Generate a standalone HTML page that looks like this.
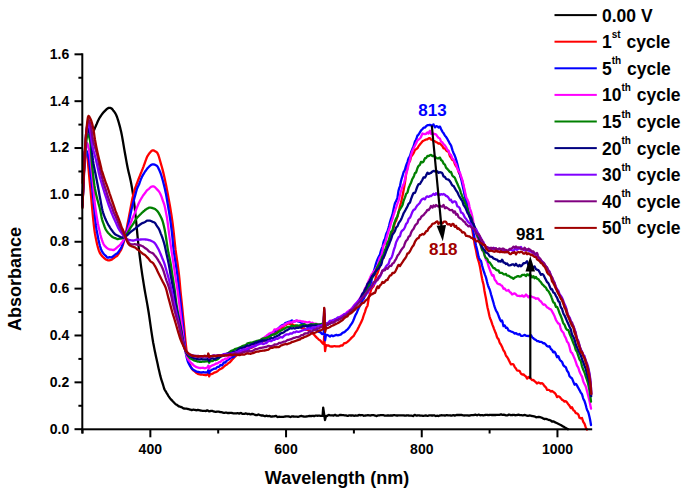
<!DOCTYPE html>
<html><head><meta charset="utf-8"><style>
html,body{margin:0;padding:0;background:#fff;}
body{width:693px;height:492px;overflow:hidden;}
svg{display:block;}
</style></head><body>
<svg width="693" height="492" viewBox="0 0 693 492">
<path d="M94.2,129.8 L94.7,128.6 L95.2,127.4 L95.7,126.2 L96.2,125.0 L96.7,123.9 L97.2,122.7 L97.7,121.6 L98.2,120.5 L98.7,119.5 L99.2,118.5 L99.7,117.7 L100.2,116.9 L100.7,116.1 L101.2,115.3 L101.7,114.6 L102.2,113.9 L102.7,113.3 L103.2,112.7 L103.7,112.1 L104.2,111.6 L104.7,111.1 L105.2,110.6 L105.7,110.1 L106.2,109.6 L106.7,109.1 L107.2,108.7 L107.7,108.4 L108.2,108.1 L108.7,107.9 L109.2,107.8 L109.7,107.8 L110.2,107.9 L110.7,108.1 L111.2,108.3 L111.7,108.6 L112.2,109.1 L112.7,109.7 L113.2,110.4 L113.7,111.0 L114.2,111.7 L114.7,112.4 L115.2,113.2 L115.7,114.0 L116.2,115.0 L116.7,116.2 L117.2,117.5 L117.7,119.1 L118.2,120.7 L118.7,122.3 L119.2,124.1 L119.7,125.9 L120.2,127.8 L120.7,129.9 L121.2,132.1 L121.7,134.4 L122.2,137.1 L122.7,140.0 L123.2,142.9 L123.7,145.9 L124.2,148.9 L124.7,151.7 L125.2,154.5 L125.7,157.3 L126.2,160.1 L126.7,162.9 L127.2,165.5 L127.7,168.0 L128.2,170.3 L128.7,172.4 L129.2,174.5 L129.7,176.6 L130.2,178.7 L130.7,181.0 L131.2,183.5 L131.7,186.2 L132.2,189.1 L132.7,192.2 L133.2,195.6 L133.7,199.3 L134.2,203.3 L134.7,207.7 L135.2,212.4 L135.7,217.2 L136.2,222.0 L136.7,227.1 L137.2,232.6 L137.7,238.0 L138.2,243.0 L138.7,247.5 L139.2,251.8 L139.7,255.9 L140.2,259.8 L140.7,263.6 L141.2,267.3 L141.7,270.8 L142.2,274.3 L142.7,277.6 L143.2,280.8 L143.7,283.9 L144.2,287.0 L144.7,290.0 L145.2,292.9 L145.7,295.6 L146.2,298.4 L146.7,301.1 L147.2,303.9 L147.7,306.7 L148.2,309.7 L148.7,312.8 L149.2,316.2 L149.7,319.7 L150.2,323.2 L150.7,326.7 L151.2,330.1 L151.7,333.4 L152.2,336.7 L152.7,339.7 L153.2,342.7 L153.7,345.3 L154.2,347.9 L154.7,350.4 L155.2,352.8 L155.7,355.2 L156.2,357.5 L156.7,359.7 L157.2,362.0 L157.7,364.3 L158.2,366.7 L158.7,369.0 L159.2,371.1 L159.7,373.2 L160.2,375.4 L160.7,377.3 L161.2,379.2 L161.7,380.7 L162.2,382.2 L162.7,383.6 L163.2,385.3 L163.7,387.0 L164.2,388.7 L164.7,389.8 L165.2,390.7 L165.7,391.4 L166.2,392.2 L166.7,393.1 L167.2,393.9 L167.7,394.7 L168.2,395.6 L168.7,396.4 L169.2,397.1 L169.7,397.8 L170.2,398.5 L170.7,399.1 L171.2,399.6 L171.7,400.1 L172.2,400.6 L172.7,401.2 L173.2,401.7 L173.7,402.2 L174.2,402.8 L174.7,403.3 L175.2,403.8 L175.7,404.2 L176.2,404.5 L176.7,404.8 L177.2,405.1 L177.7,405.5 L178.2,405.9 L178.7,406.3 L179.2,406.4 L179.7,406.5 L180.2,406.7 L180.7,406.9 L181.2,407.1 L181.7,407.3 L182.2,407.6 L182.7,407.9 L183.2,408.3 L183.7,408.5 L184.2,408.5 L184.7,408.6 L185.2,408.6 L185.7,408.7 L186.2,408.7 L186.7,408.7 L187.2,408.8 L187.7,408.9 L188.2,409.1 L188.7,409.2 L189.2,409.3 L189.7,409.5 L190.2,409.6 L190.7,409.8 L191.2,410.0 L191.7,410.1 L192.2,409.9 L192.7,409.8 L193.2,409.7 L193.7,409.7 L194.2,409.8 L194.7,409.8 L195.2,410.0 L195.7,410.1 L196.2,410.3 L196.7,410.2 L197.2,410.1 L197.7,409.9 L198.2,410.0 L198.7,410.1 L199.2,410.2 L199.7,410.3 L200.2,410.4 L200.7,410.6 L201.2,410.7 L201.7,410.7 L202.2,410.8 L202.7,410.8 L203.2,410.8 L203.7,410.8 L204.2,410.8 L204.7,410.8 L205.2,410.9 L205.7,411.0 L206.2,410.9 L206.7,410.6 L207.2,410.3 L207.7,410.4 L208.2,410.8 L208.7,411.2 L209.2,411.4 L209.7,411.2 L210.2,411.1 L210.7,411.0 L211.2,410.9 L211.7,410.9 L212.2,410.9 L212.7,411.1 L213.2,411.3 L213.7,411.5 L214.2,411.7 L214.7,411.7 L215.2,411.8 L215.7,411.8 L216.2,411.8 L216.7,411.7 L217.2,411.6 L217.7,411.6 L218.2,411.6 L218.7,411.6 L219.2,411.8 L219.7,411.9 L220.2,412.1 L220.7,412.1 L221.2,412.2 L221.7,412.2 L222.2,412.4 L222.7,412.5 L223.2,412.7 L223.7,412.8 L224.2,412.8 L224.7,412.8 L225.2,412.7 L225.7,412.7 L226.2,412.7 L226.7,412.7 L227.2,412.9 L227.7,413.0 L228.2,413.1 L228.7,413.0 L229.2,413.0 L229.7,412.9 L230.2,412.8 L230.7,412.8 L231.2,412.8 L231.7,412.9 L232.2,413.1 L232.7,413.2 L233.2,413.3 L233.7,413.4 L234.2,413.4 L234.7,413.4 L235.2,413.4 L235.7,413.3 L236.2,413.3 L236.7,413.3 L237.2,413.2 L237.7,413.2 L238.2,413.3 L238.7,413.4 L239.2,413.6 L239.7,413.4 L240.2,413.2 L240.7,413.0 L241.2,413.1 L241.7,413.4 L242.2,413.7 L242.7,413.9 L243.2,413.9 L243.7,413.9 L244.2,413.9 L244.7,413.8 L245.2,413.6 L245.7,413.4 L246.2,413.6 L246.7,413.8 L247.2,414.0 L247.7,414.0 L248.2,413.9 L248.7,413.9 L249.2,413.9 L249.7,414.1 L250.2,414.3 L250.7,414.4 L251.2,414.2 L251.7,413.9 L252.2,413.8 L252.7,414.0 L253.2,414.1 L253.7,414.3 L254.2,414.5 L254.7,414.7 L255.2,414.9 L255.7,415.0 L256.2,415.1 L256.7,415.2 L257.2,415.1 L257.7,414.8 L258.2,414.6 L258.7,414.5 L259.2,414.8 L259.7,415.0 L260.2,415.2 L260.7,415.3 L261.2,415.4 L261.7,415.6 L262.2,415.5 L262.7,415.5 L263.2,415.5 L263.7,415.7 L264.2,416.0 L264.7,416.2 L265.2,416.2 L265.7,415.9 L266.2,415.7 L266.7,415.7 L267.2,415.9 L267.7,416.1 L268.2,416.2 L268.7,416.1 L269.2,416.0 L269.7,415.9 L270.2,416.2 L270.7,416.4 L271.2,416.7 L271.7,416.6 L272.2,416.5 L272.7,416.4 L273.2,416.3 L273.7,416.3 L274.2,416.3 L274.7,416.2 L275.2,416.1 L275.7,416.0 L276.2,416.0 L276.7,416.4 L277.2,416.7 L277.7,417.0 L278.2,416.9 L278.7,416.8 L279.2,416.7 L279.7,416.8 L280.2,416.8 L280.7,416.8 L281.2,416.8 L281.7,416.9 L282.2,416.9 L282.7,416.9 L283.2,416.8 L283.7,416.8 L284.2,416.7 L284.7,416.6 L285.2,416.5 L285.7,416.4 L286.2,416.4 L286.7,416.4 L287.2,416.4 L287.7,416.4 L288.2,416.4 L288.7,416.4 L289.2,416.6 L289.7,416.8 L290.2,417.0 L290.7,416.9 L291.2,416.7 L291.7,416.4 L292.2,416.3 L292.7,416.4 L293.2,416.5 L293.7,416.5 L294.2,416.6 L294.7,416.6 L295.2,416.6 L295.7,416.6 L296.2,416.7 L296.7,416.7 L297.2,416.7 L297.7,416.8 L298.2,416.8 L298.7,416.7 L299.2,416.5 L299.7,416.3 L300.2,416.2 L300.7,416.1 L301.2,416.0 L301.7,416.0 L302.2,416.2 L302.7,416.3 L303.2,416.4 L303.7,416.5 L304.2,416.6 L304.7,416.7 L305.2,416.6 L305.7,416.6 L306.2,416.5 L306.7,416.4 L307.2,416.4 L307.7,416.3 L308.2,416.2 L308.7,416.1 L309.2,416.0 L309.7,416.0 L310.2,416.0 L310.7,416.1 L311.2,416.1 L311.7,416.0 L312.2,415.9 L312.7,415.9 L313.2,415.9 L313.7,416.0 L314.2,416.1 L314.7,416.0 L315.2,415.8 L315.7,415.6 L316.2,415.6 L316.7,415.7 L317.2,415.7 L317.7,415.8 L318.2,415.7 L318.7,415.7 L319.2,415.7 L319.7,415.7 L320.2,415.8 L320.7,415.8 L321.2,415.8 L321.7,415.8 L322.2,415.7 L322.6,415.8 L323.2,407.6 L325.0,420.1 L326.0,416.0 L326.2,416.0 L326.7,416.0 L327.2,415.9 L327.7,415.6 L328.2,415.2 L328.7,414.9 L329.2,415.1 L329.7,415.2 L330.2,415.4 L330.7,415.4 L331.2,415.3 L331.7,415.3 L332.2,415.4 L332.7,415.4 L333.2,415.5 L333.7,415.5 L334.2,415.2 L334.7,414.9 L335.2,414.8 L335.7,415.1 L336.2,415.5 L336.7,415.7 L337.2,415.7 L337.7,415.7 L338.2,415.7 L338.7,415.5 L339.2,415.3 L339.7,415.0 L340.2,415.0 L340.7,415.0 L341.2,415.0 L341.7,415.1 L342.2,415.1 L342.7,415.1 L343.2,415.1 L343.7,415.2 L344.2,415.3 L344.7,415.3 L345.2,415.4 L345.7,415.4 L346.2,415.5 L346.7,415.6 L347.2,415.8 L347.7,415.9 L348.2,415.8 L348.7,415.5 L349.2,415.3 L349.7,415.3 L350.2,415.4 L350.7,415.5 L351.2,415.5 L351.7,415.5 L352.2,415.4 L352.7,415.4 L353.2,415.5 L353.7,415.7 L354.2,415.8 L354.7,415.7 L355.2,415.6 L355.7,415.5 L356.2,415.6 L356.7,415.6 L357.2,415.7 L357.7,415.6 L358.2,415.4 L358.7,415.1 L359.2,415.0 L359.7,415.1 L360.2,415.2 L360.7,415.3 L361.2,415.2 L361.7,415.1 L362.2,415.1 L362.7,415.3 L363.2,415.5 L363.7,415.8 L364.2,415.7 L364.7,415.6 L365.2,415.6 L365.7,415.5 L366.2,415.4 L366.7,415.3 L367.2,415.3 L367.7,415.2 L368.2,415.2 L368.7,415.3 L369.2,415.3 L369.7,415.4 L370.2,415.5 L370.7,415.4 L371.2,415.3 L371.7,415.2 L372.2,415.2 L372.7,415.1 L373.2,415.1 L373.7,415.2 L374.2,415.3 L374.7,415.5 L375.2,415.6 L375.7,415.8 L376.2,416.0 L376.7,416.1 L377.2,415.8 L377.7,415.6 L378.2,415.3 L378.7,415.3 L379.2,415.3 L379.7,415.3 L380.2,415.2 L380.7,415.2 L381.2,415.1 L381.7,415.1 L382.2,415.1 L382.7,415.1 L383.2,415.1 L383.7,415.3 L384.2,415.5 L384.7,415.6 L385.2,415.7 L385.7,415.7 L386.2,415.7 L386.7,415.6 L387.2,415.5 L387.7,415.5 L388.2,415.5 L388.7,415.5 L389.2,415.6 L389.7,415.6 L390.2,415.5 L390.7,415.5 L391.2,415.5 L391.7,415.5 L392.2,415.5 L392.7,415.5 L393.2,415.3 L393.7,415.2 L394.2,415.1 L394.7,415.2 L395.2,415.3 L395.7,415.4 L396.2,415.4 L396.7,415.5 L397.2,415.5 L397.7,415.5 L398.2,415.4 L398.7,415.3 L399.2,415.3 L399.7,415.3 L400.2,415.3 L400.7,415.3 L401.2,415.3 L401.7,415.3 L402.2,415.3 L402.7,415.3 L403.2,415.4 L403.7,415.4 L404.2,415.5 L404.7,415.6 L405.2,415.7 L405.7,415.6 L406.2,415.5 L406.7,415.4 L407.2,415.4 L407.7,415.4 L408.2,415.4 L408.7,415.5 L409.2,415.6 L409.7,415.7 L410.2,415.7 L410.7,415.7 L411.2,415.7 L411.7,415.7 L412.2,415.8 L412.7,415.9 L413.2,416.0 L413.7,415.6 L414.2,415.3 L414.7,414.9 L415.2,415.1 L415.7,415.3 L416.2,415.6 L416.7,415.7 L417.2,415.5 L417.7,415.4 L418.2,415.3 L418.7,415.4 L419.2,415.4 L419.7,415.5 L420.2,415.6 L420.7,415.6 L421.2,415.7 L421.7,415.7 L422.2,415.7 L422.7,415.8 L423.2,415.8 L423.7,415.8 L424.2,415.7 L424.7,415.7 L425.2,415.6 L425.7,415.5 L426.2,415.5 L426.7,415.7 L427.2,415.8 L427.7,415.9 L428.2,415.7 L428.7,415.5 L429.2,415.3 L429.7,415.3 L430.2,415.3 L430.7,415.4 L431.2,415.4 L431.7,415.5 L432.2,415.6 L432.7,415.5 L433.2,415.4 L433.7,415.3 L434.2,415.3 L434.7,415.6 L435.2,415.8 L435.7,416.0 L436.2,415.9 L436.7,415.8 L437.2,415.7 L437.7,415.8 L438.2,415.9 L438.7,416.0 L439.2,415.8 L439.7,415.6 L440.2,415.4 L440.7,415.3 L441.2,415.3 L441.7,415.2 L442.2,415.3 L442.7,415.3 L443.2,415.3 L443.7,415.4 L444.2,415.4 L444.7,415.5 L445.2,415.5 L445.7,415.4 L446.2,415.3 L446.7,415.1 L447.2,415.2 L447.7,415.3 L448.2,415.4 L448.7,415.4 L449.2,415.4 L449.7,415.3 L450.2,415.4 L450.7,415.5 L451.2,415.7 L451.7,415.7 L452.2,415.5 L452.7,415.3 L453.2,415.1 L453.7,415.3 L454.2,415.4 L454.7,415.6 L455.2,415.4 L455.7,415.3 L456.2,415.1 L456.7,415.0 L457.2,415.0 L457.7,415.0 L458.2,415.0 L458.7,415.0 L459.2,415.0 L459.7,415.0 L460.2,415.0 L460.7,414.9 L461.2,414.9 L461.7,415.0 L462.2,415.1 L462.7,415.3 L463.2,415.3 L463.7,415.4 L464.2,415.5 L464.7,415.4 L465.2,415.4 L465.7,415.3 L466.2,415.3 L466.7,415.3 L467.2,415.3 L467.7,415.4 L468.2,415.5 L468.7,415.6 L469.2,415.6 L469.7,415.5 L470.2,415.4 L470.7,415.2 L471.2,415.2 L471.7,415.2 L472.2,415.2 L472.7,415.2 L473.2,415.1 L473.7,415.1 L474.2,415.0 L474.7,414.8 L475.2,414.7 L475.7,414.7 L476.2,415.0 L476.7,415.2 L477.2,415.3 L477.7,415.0 L478.2,414.8 L478.7,414.6 L479.2,414.8 L479.7,415.0 L480.2,415.3 L480.7,415.2 L481.2,415.1 L481.7,415.1 L482.2,415.1 L482.7,415.2 L483.2,415.4 L483.7,415.3 L484.2,415.2 L484.7,415.1 L485.2,415.0 L485.7,414.9 L486.2,414.9 L486.7,414.8 L487.2,414.9 L487.7,415.0 L488.2,415.1 L488.7,415.1 L489.2,415.0 L489.7,414.9 L490.2,414.9 L490.7,414.9 L491.2,414.9 L491.7,415.0 L492.2,415.0 L492.7,415.0 L493.2,415.0 L493.7,415.0 L494.2,415.0 L494.7,415.0 L495.2,415.0 L495.7,415.0 L496.2,414.9 L496.7,414.9 L497.2,414.8 L497.7,414.8 L498.2,414.8 L498.7,414.9 L499.2,414.9 L499.7,414.8 L500.2,414.6 L500.7,414.5 L501.2,414.4 L501.7,414.6 L502.2,414.8 L502.7,414.9 L503.2,414.8 L503.7,414.7 L504.2,414.7 L504.7,414.9 L505.2,415.1 L505.7,415.3 L506.2,415.4 L506.7,415.4 L507.2,415.4 L507.7,415.2 L508.2,414.9 L508.7,414.6 L509.2,414.6 L509.7,414.8 L510.2,415.0 L510.7,415.1 L511.2,415.1 L511.7,415.1 L512.2,415.0 L512.7,415.0 L513.2,414.9 L513.7,414.8 L514.2,414.9 L514.7,415.1 L515.2,415.3 L515.7,415.2 L516.2,415.1 L516.7,415.1 L517.2,415.0 L517.7,414.8 L518.2,414.7 L518.7,414.7 L519.2,414.9 L519.7,415.0 L520.2,415.2 L520.7,415.2 L521.2,415.2 L521.7,415.2 L522.2,415.3 L522.7,415.3 L523.2,415.3 L523.7,415.2 L524.2,415.1 L524.7,415.0 L525.2,415.1 L525.7,415.3 L526.2,415.5 L526.7,415.7 L527.2,415.7 L527.7,415.8 L528.2,415.8 L528.7,415.7 L529.2,415.6 L529.7,415.5 L530.2,415.6 L530.7,415.7 L531.2,415.8 L531.7,415.9 L532.2,416.1 L532.7,416.2 L533.2,416.2 L533.7,416.3 L534.2,416.3 L534.7,416.5 L535.2,416.8 L535.7,417.1 L536.2,417.3 L536.7,417.2 L537.2,417.1 L537.7,417.1 L538.2,417.0 L538.7,417.0 L539.2,417.0 L539.7,417.1 L540.2,417.2 L540.7,417.3 L541.2,417.5 L541.7,417.7 L542.2,417.9 L542.7,418.1 L543.2,418.5 L543.7,418.8 L544.2,419.1 L544.7,419.0 L545.2,418.9 L545.7,418.8 L546.2,419.0 L546.7,419.1 L547.2,419.3 L547.7,419.5 L548.2,419.7 L548.7,419.9 L549.2,420.0 L549.7,420.1 L550.2,420.3 L550.7,420.5 L551.2,420.9 L551.7,421.4 L552.2,421.6 L552.7,421.5 L553.2,421.5 L553.7,421.5 L554.2,421.8 L554.7,422.1 L555.2,422.4 L555.7,422.6 L556.2,422.8 L556.7,423.0 L557.2,423.2 L557.7,423.5 L558.2,423.8 L558.7,424.0 L559.2,424.3 L559.7,424.5 L560.2,424.8 L560.7,425.0 L561.2,425.3 L561.7,425.6 L562.2,425.9 L562.7,426.2 L563.2,426.5 L563.7,426.8 L564.2,427.1 L564.7,427.4 L565.2,427.7 L565.7,427.9 L566.2,428.2 L566.7,428.5 L567.2,428.8 L567.7,429.0 L568.0,429.2" fill="none" stroke="#000000" stroke-width="2.3" stroke-linejoin="round" stroke-linecap="round"/>
<path d="M82.5,183.0 L83.0,170.8 L83.5,162.0 L84.0,155.7 L84.5,151.8 L85.0,150.9 L85.5,150.5 L86.0,151.0 L86.5,152.7 L87.0,154.9 L87.5,158.4 L88.0,163.0 L88.5,168.3 L89.0,174.0 L89.5,179.7 L90.0,184.9 L90.5,189.9 L91.0,195.3 L91.5,200.8 L92.0,206.4 L92.5,211.9 L93.0,217.1 L93.5,222.0 L94.0,226.6 L94.5,230.6 L95.0,233.9 L95.5,236.6 L96.0,239.1 L96.5,241.4 L97.0,243.7 L97.5,245.8 L98.0,247.7 L98.5,249.3 L99.0,250.8 L99.5,252.1 L100.0,253.2 L100.5,254.0 L101.0,254.7 L101.5,255.3 L102.0,255.9 L102.5,256.5 L103.0,257.0 L103.5,257.5 L104.0,258.0 L104.5,258.4 L105.0,258.8 L105.5,259.2 L106.0,259.5 L106.5,259.8 L107.0,260.0 L107.5,260.2 L108.0,260.3 L108.5,260.3 L109.0,260.4 L109.5,260.3 L110.0,260.2 L110.5,260.1 L111.0,259.9 L111.5,259.7 L112.0,259.4 L112.5,259.1 L113.0,258.7 L113.5,258.3 L114.0,258.0 L114.5,257.6 L115.0,257.2 L115.5,256.8 L116.0,256.5 L116.5,256.2 L117.0,255.9 L117.5,255.4 L118.0,254.7 L118.5,254.0 L119.0,253.1 L119.5,252.3 L120.0,251.5 L120.5,250.8 L121.0,249.9 L121.5,248.8 L122.0,247.5 L122.5,246.1 L123.0,244.6 L123.5,242.9 L124.0,241.1 L124.5,239.1 L125.0,237.0 L125.5,234.6 L126.0,232.1 L126.5,229.6 L127.0,226.9 L127.5,224.3 L128.0,221.8 L128.5,219.2 L129.0,216.5 L129.5,213.8 L130.0,211.1 L130.5,208.4 L131.0,205.7 L131.5,203.1 L132.0,200.5 L132.5,198.1 L133.0,196.0 L133.5,194.0 L134.0,192.1 L134.5,190.4 L135.0,188.7 L135.5,187.2 L136.0,185.9 L136.5,184.5 L137.0,183.1 L137.5,181.8 L138.0,180.5 L138.5,179.3 L139.0,178.0 L139.5,176.7 L140.0,175.5 L140.5,174.2 L141.0,172.9 L141.5,171.7 L142.0,170.4 L142.5,169.2 L143.0,167.9 L143.5,166.6 L144.0,165.2 L144.5,163.8 L145.0,162.5 L145.5,161.0 L146.0,159.7 L146.5,158.3 L147.0,157.1 L147.5,156.1 L148.0,155.3 L148.5,154.5 L149.0,153.8 L149.5,153.1 L150.0,152.6 L150.5,152.0 L151.0,151.4 L151.5,151.0 L152.0,150.6 L152.5,150.4 L153.0,150.3 L153.5,150.4 L154.0,150.6 L154.5,150.9 L155.0,151.2 L155.5,151.4 L156.0,151.7 L156.5,152.1 L157.0,152.5 L157.5,153.2 L158.0,154.2 L158.5,155.5 L159.0,157.0 L159.5,158.7 L160.0,160.5 L160.5,162.3 L161.0,164.1 L161.5,165.8 L162.0,167.5 L162.5,169.4 L163.0,171.4 L163.5,173.4 L164.0,175.6 L164.5,177.8 L165.0,180.1 L165.5,182.4 L166.0,184.8 L166.5,187.3 L167.0,189.9 L167.5,192.5 L168.0,195.2 L168.5,197.9 L169.0,200.6 L169.5,203.4 L170.0,206.3 L170.5,209.3 L171.0,212.4 L171.5,215.5 L172.0,218.8 L172.5,222.3 L173.0,226.4 L173.5,230.7 L174.0,235.2 L174.5,240.0 L175.0,244.9 L175.5,249.4 L176.0,253.1 L176.5,256.5 L177.0,259.8 L177.5,263.2 L178.0,266.9 L178.5,270.6 L179.0,274.8 L179.5,279.6 L180.0,285.3 L180.5,291.0 L181.0,295.9 L181.5,300.5 L182.0,305.3 L182.5,310.3 L183.0,315.5 L183.5,320.6 L184.0,325.7 L184.5,330.9 L185.0,336.2 L185.5,341.3 L186.0,345.8 L186.5,350.1 L187.0,353.9 L187.5,356.8 L188.0,358.9 L188.5,360.7 L189.0,362.2 L189.5,363.6 L190.0,364.8 L190.5,366.0 L191.0,367.1 L191.5,368.1 L192.0,369.0 L192.5,369.7 L193.0,370.1 L193.5,370.5 L194.0,370.8 L194.5,371.2 L195.0,371.7 L195.5,372.2 L196.0,372.6 L196.5,373.0 L197.0,373.3 L197.5,373.6 L198.0,373.9 L198.5,374.1 L199.0,374.2 L199.5,374.3 L200.0,374.4 L200.5,374.5 L201.0,374.6 L201.5,374.6 L202.0,374.6 L202.5,374.7 L203.0,374.7 L203.5,374.8 L204.0,374.8 L204.5,374.9 L205.0,375.0 L205.5,375.1 L206.0,375.2 L206.5,375.1 L207.0,374.8 L207.5,374.5 L207.7,374.4 L208.3,373.3 L209.2,376.3 L210.1,374.0 L210.5,374.1 L211.0,374.2 L211.5,374.1 L212.0,373.9 L212.5,373.7 L213.0,373.4 L213.5,373.0 L214.0,372.7 L214.5,372.5 L215.0,372.4 L215.5,372.3 L216.0,372.1 L216.5,371.8 L217.0,371.5 L217.5,371.2 L218.0,370.8 L218.5,370.3 L219.0,369.8 L219.5,369.6 L220.0,369.3 L220.5,369.0 L221.0,368.8 L221.5,368.6 L222.0,368.3 L222.5,368.0 L223.0,367.5 L223.5,367.0 L224.0,366.5 L224.5,366.1 L225.0,365.6 L225.5,365.2 L226.0,365.0 L226.5,364.7 L227.0,364.5 L227.5,364.0 L228.0,363.5 L228.5,363.0 L229.0,362.7 L229.5,362.4 L230.0,362.2 L230.5,361.6 L231.0,361.0 L231.5,360.4 L232.0,359.8 L232.5,359.3 L233.0,358.7 L233.5,358.2 L234.0,357.8 L234.5,357.3 L235.0,356.8 L235.5,356.2 L236.0,355.6 L236.5,355.1 L237.0,354.7 L237.5,354.2 L238.0,353.9 L238.5,353.5 L239.0,353.2 L239.5,352.9 L240.0,352.9 L240.5,352.9 L241.0,353.1 L241.5,352.9 L242.0,352.6 L242.5,352.3 L243.0,351.9 L243.5,351.4 L244.0,350.8 L244.5,350.4 L245.0,350.2 L245.5,350.1 L246.0,349.9 L246.5,349.9 L247.0,349.9 L247.5,349.9 L248.0,349.5 L248.5,349.1 L249.0,348.7 L249.5,348.5 L250.0,348.3 L250.5,348.1 L251.0,347.9 L251.5,347.8 L252.0,347.6 L252.5,347.3 L253.0,347.0 L253.5,346.6 L254.0,346.3 L254.5,346.0 L255.0,345.7 L255.5,345.3 L256.0,345.0 L256.5,344.7 L257.0,344.4 L257.5,344.1 L258.0,343.9 L258.5,343.6 L259.0,343.4 L259.5,343.1 L260.0,342.9 L260.5,342.7 L261.0,342.6 L261.5,342.5 L262.0,342.2 L262.5,341.8 L263.0,341.4 L263.5,341.0 L264.0,340.5 L264.5,340.1 L265.0,339.6 L265.5,339.4 L266.0,339.2 L266.5,339.0 L267.0,338.6 L267.5,338.1 L268.0,337.7 L268.5,337.2 L269.0,336.6 L269.5,336.0 L270.0,335.7 L270.5,335.5 L271.0,335.3 L271.5,335.1 L272.0,334.8 L272.5,334.6 L273.0,334.3 L273.5,333.7 L274.0,333.1 L274.5,332.6 L275.0,332.4 L275.5,332.2 L276.0,332.1 L276.5,331.6 L277.0,331.1 L277.5,330.6 L278.0,330.2 L278.5,329.9 L279.0,329.6 L279.5,329.1 L280.0,328.6 L280.5,328.0 L281.0,327.7 L281.5,327.7 L282.0,327.8 L282.5,327.6 L283.0,327.1 L283.5,326.5 L284.0,326.0 L284.5,325.7 L285.0,325.5 L285.5,325.3 L286.0,324.9 L286.5,324.5 L287.0,324.1 L287.5,323.8 L288.0,323.6 L288.5,323.4 L289.0,323.5 L289.5,323.8 L290.0,324.1 L290.5,324.2 L291.0,324.0 L291.5,323.9 L292.0,323.9 L292.5,324.4 L293.0,324.9 L293.5,325.4 L294.0,325.4 L294.5,325.4 L295.0,325.4 L295.5,325.8 L296.0,326.3 L296.5,326.7 L297.0,326.7 L297.5,326.6 L298.0,326.4 L298.5,326.4 L299.0,326.4 L299.5,326.4 L300.0,326.6 L300.5,327.1 L301.0,327.6 L301.5,328.0 L302.0,328.0 L302.5,328.1 L303.0,328.2 L303.5,328.4 L304.0,328.6 L304.5,328.8 L305.0,329.1 L305.5,329.4 L306.0,329.8 L306.5,329.9 L307.0,329.9 L307.5,329.9 L308.0,330.0 L308.5,330.2 L309.0,330.4 L309.5,330.8 L310.0,331.1 L310.5,331.6 L311.0,332.0 L311.5,332.4 L312.0,332.8 L312.5,333.2 L313.0,333.6 L313.5,334.1 L314.0,334.6 L314.5,335.2 L315.0,335.8 L315.5,336.4 L316.0,336.9 L316.5,337.4 L317.0,337.9 L317.5,338.3 L318.0,338.8 L318.5,339.3 L319.0,339.7 L319.5,340.0 L320.0,340.3 L320.5,340.7 L321.0,341.3 L321.5,342.0 L322.0,342.6 L322.5,343.2 L323.0,343.7 L323.5,344.1 L323.6,344.1 L324.2,336.2 L325.1,351.2 L326.0,345.1 L326.0,345.1 L326.5,345.4 L327.0,345.5 L327.5,345.5 L328.0,345.5 L328.5,345.5 L329.0,345.8 L329.5,346.1 L330.0,346.3 L330.5,346.4 L331.0,346.5 L331.5,346.6 L332.0,346.5 L332.5,346.5 L333.0,346.4 L333.5,346.3 L334.0,346.2 L334.5,346.1 L335.0,346.2 L335.5,346.3 L336.0,346.4 L336.5,346.4 L337.0,346.4 L337.5,346.3 L338.0,346.3 L338.5,346.4 L339.0,346.4 L339.5,346.4 L340.0,346.1 L340.5,345.7 L341.0,345.4 L341.5,345.4 L342.0,345.5 L342.5,345.6 L343.0,344.9 L343.5,344.2 L344.0,343.4 L344.5,343.2 L345.0,343.1 L345.5,343.1 L346.0,342.9 L346.5,342.5 L347.0,342.2 L347.5,341.8 L348.0,341.4 L348.5,341.0 L349.0,340.5 L349.5,340.0 L350.0,339.5 L350.5,338.9 L351.0,338.4 L351.5,337.9 L352.0,337.3 L352.5,336.9 L353.0,336.5 L353.5,336.1 L354.0,335.3 L354.5,334.4 L355.0,333.4 L355.5,332.6 L356.0,331.9 L356.5,331.2 L357.0,330.4 L357.5,329.5 L358.0,328.5 L358.5,327.5 L359.0,326.6 L359.5,325.6 L360.0,324.6 L360.5,323.6 L361.0,322.5 L361.5,321.4 L362.0,320.3 L362.5,319.2 L363.0,317.6 L363.5,316.0 L364.0,314.5 L364.5,313.2 L365.0,311.8 L365.5,310.2 L366.0,308.5 L366.5,307.4 L367.0,306.7 L367.5,305.8 L368.0,302.8 L368.5,299.6 L369.0,297.1 L369.5,295.4 L370.0,294.0 L370.5,292.0 L371.0,290.1 L371.5,288.9 L372.0,288.1 L372.5,287.4 L373.0,286.9 L373.5,286.3 L374.0,285.0 L374.5,283.0 L375.0,280.9 L375.5,278.8 L376.0,276.5 L376.5,275.0 L377.0,274.0 L377.5,273.1 L378.0,271.6 L378.5,270.2 L379.0,268.7 L379.5,267.3 L380.0,265.9 L380.5,264.5 L381.0,263.1 L381.5,261.6 L382.0,259.9 L382.5,258.4 L383.0,258.2 L383.5,258.1 L384.0,256.7 L384.5,254.3 L385.0,252.1 L385.5,251.2 L386.0,250.3 L386.5,248.8 L387.0,247.0 L387.5,245.2 L388.0,244.1 L388.5,243.0 L389.0,241.5 L389.5,239.8 L390.0,238.2 L390.5,237.3 L391.0,236.4 L391.5,235.0 L392.0,233.3 L392.5,231.6 L393.0,229.8 L393.5,228.0 L394.0,226.2 L394.5,224.2 L395.0,222.4 L395.5,221.6 L396.0,220.8 L396.5,219.5 L397.0,217.8 L397.5,216.1 L398.0,214.3 L398.5,212.5 L399.0,210.5 L399.5,208.2 L400.0,206.0 L400.5,204.3 L401.0,202.5 L401.5,200.4 L402.0,198.3 L402.5,196.1 L403.0,193.5 L403.5,190.7 L404.0,188.0 L404.5,185.3 L405.0,182.3 L405.5,178.7 L406.0,175.1 L406.5,172.1 L407.0,169.6 L407.5,167.1 L408.0,164.5 L408.5,162.3 L409.0,161.6 L409.5,161.6 L410.0,161.1 L410.5,159.0 L411.0,157.0 L411.5,156.0 L412.0,155.4 L412.5,154.8 L413.0,154.0 L413.5,153.3 L414.0,152.2 L414.5,151.0 L415.0,150.0 L415.5,149.6 L416.0,149.2 L416.5,148.9 L417.0,148.5 L417.5,148.1 L418.0,147.2 L418.5,146.3 L419.0,145.6 L419.5,145.0 L420.0,144.3 L420.5,143.7 L421.0,143.2 L421.5,142.5 L422.0,141.9 L422.5,141.3 L423.0,141.0 L423.5,140.7 L424.0,140.5 L424.5,140.3 L425.0,140.0 L425.5,139.7 L426.0,139.5 L426.5,139.4 L427.0,139.4 L427.5,139.3 L428.0,138.8 L428.5,138.4 L429.0,138.2 L429.5,138.1 L430.0,138.2 L430.5,138.8 L431.0,139.5 L431.5,139.7 L432.0,139.8 L432.5,140.0 L433.0,140.5 L433.5,141.0 L434.0,141.2 L434.5,141.2 L435.0,141.3 L435.5,141.7 L436.0,142.1 L436.5,142.3 L437.0,142.5 L437.5,142.8 L438.0,143.2 L438.5,143.7 L439.0,143.5 L439.5,143.3 L440.0,143.3 L440.5,144.0 L441.0,144.6 L441.5,145.1 L442.0,145.6 L442.5,146.3 L443.0,147.3 L443.5,148.3 L444.0,148.4 L444.5,148.3 L445.0,148.6 L445.5,149.3 L446.0,150.1 L446.5,150.6 L447.0,151.1 L447.5,151.4 L448.0,151.4 L448.5,151.5 L449.0,153.1 L449.5,154.9 L450.0,156.3 L450.5,156.9 L451.0,157.5 L451.5,158.4 L452.0,159.5 L452.5,160.1 L453.0,160.1 L453.5,160.2 L454.0,161.5 L454.5,163.0 L455.0,164.3 L455.5,165.3 L456.0,166.3 L456.5,166.7 L457.0,167.2 L457.5,168.2 L458.0,170.0 L458.5,171.8 L459.0,172.8 L459.5,173.6 L460.0,174.9 L460.5,176.7 L461.0,178.5 L461.5,179.3 L462.0,180.2 L462.5,181.7 L463.0,183.9 L463.5,186.2 L464.0,188.7 L464.5,191.5 L465.0,194.3 L465.5,196.8 L466.0,199.0 L466.5,201.9 L467.0,204.7 L467.5,207.4 L468.0,209.9 L468.5,212.4 L469.0,213.8 L469.5,215.2 L470.0,217.0 L470.5,219.2 L471.0,221.7 L471.5,224.5 L472.0,227.8 L472.5,231.2 L473.0,234.4 L473.5,237.4 L474.0,240.3 L474.5,243.3 L475.0,246.0 L475.5,248.3 L476.0,250.2 L476.5,253.1 L477.0,255.8 L477.5,257.9 L478.0,259.4 L478.5,261.0 L479.0,262.8 L479.5,264.7 L480.0,267.1 L480.5,269.9 L481.0,272.9 L481.5,275.6 L482.0,278.3 L482.5,280.6 L483.0,282.6 L483.5,284.5 L484.0,287.7 L484.5,291.0 L485.0,293.8 L485.5,296.3 L486.0,298.8 L486.5,301.9 L487.0,304.8 L487.5,307.4 L488.0,309.5 L488.5,311.5 L489.0,314.0 L489.5,316.3 L490.0,318.0 L490.5,319.2 L491.0,320.3 L491.5,321.9 L492.0,323.4 L492.5,324.8 L493.0,326.1 L493.5,327.4 L494.0,328.8 L494.5,330.1 L495.0,331.4 L495.5,332.5 L496.0,333.7 L496.5,335.4 L497.0,337.1 L497.5,338.1 L498.0,338.6 L498.5,339.1 L499.0,340.7 L499.5,342.2 L500.0,343.3 L500.5,344.0 L501.0,344.7 L501.5,345.7 L502.0,346.7 L502.5,347.9 L503.0,349.2 L503.5,350.4 L504.0,351.0 L504.5,351.7 L505.0,352.9 L505.5,354.4 L506.0,355.7 L506.5,356.3 L507.0,356.9 L507.5,357.7 L508.0,358.5 L508.5,359.4 L509.0,360.5 L509.5,361.5 L510.0,362.6 L510.5,363.6 L511.0,364.4 L511.5,364.3 L512.0,364.2 L512.5,364.2 L513.0,364.2 L513.5,364.5 L514.0,365.5 L514.5,366.6 L515.0,367.3 L515.5,368.0 L516.0,368.6 L516.5,369.5 L517.0,370.3 L517.5,370.6 L518.0,370.6 L518.5,370.7 L519.0,370.8 L519.5,370.9 L520.0,371.7 L520.5,372.7 L521.0,373.6 L521.5,374.0 L522.0,374.4 L522.5,374.5 L523.0,374.4 L523.5,374.4 L524.0,374.9 L524.5,375.4 L525.0,375.7 L525.5,376.1 L526.0,376.6 L526.5,377.6 L527.0,378.6 L527.5,378.4 L528.0,377.6 L528.5,377.0 L529.0,377.4 L529.5,377.7 L530.0,378.1 L530.5,378.5 L531.0,378.9 L531.5,379.5 L532.0,380.0 L532.5,380.1 L533.0,380.0 L533.5,380.1 L534.0,380.6 L534.5,381.1 L535.0,381.5 L535.5,381.9 L536.0,382.3 L536.5,382.9 L537.0,383.5 L537.5,383.3 L538.0,382.8 L538.5,382.5 L539.0,382.7 L539.5,382.9 L540.0,383.2 L540.5,383.5 L541.0,383.6 L541.5,383.3 L542.0,383.1 L542.5,383.5 L543.0,384.0 L543.5,384.6 L544.0,385.4 L544.5,386.1 L545.0,386.6 L545.5,386.9 L546.0,387.5 L546.5,388.6 L547.0,389.8 L547.5,389.9 L548.0,389.8 L548.5,389.8 L549.0,390.0 L549.5,390.2 L550.0,390.7 L550.5,391.3 L551.0,391.6 L551.5,391.3 L552.0,391.0 L552.5,391.3 L553.0,391.7 L553.5,392.1 L554.0,392.4 L554.5,392.7 L555.0,393.3 L555.5,393.9 L556.0,394.7 L556.5,395.9 L557.0,397.1 L557.5,396.9 L558.0,396.4 L558.5,396.3 L559.0,396.5 L559.5,396.7 L560.0,397.3 L560.5,397.9 L561.0,398.5 L561.5,399.1 L562.0,399.7 L562.5,400.0 L563.0,400.3 L563.5,400.6 L564.0,401.1 L564.5,401.7 L565.0,401.5 L565.5,401.2 L566.0,401.3 L566.5,401.8 L567.0,402.4 L567.5,403.1 L568.0,403.8 L568.5,404.5 L569.0,405.1 L569.5,405.7 L570.0,406.6 L570.5,407.6 L571.0,408.0 L571.5,407.6 L572.0,407.3 L572.5,408.3 L573.0,409.5 L573.5,410.3 L574.0,410.6 L574.5,410.9 L575.0,411.7 L575.5,412.6 L576.0,413.1 L576.5,413.3 L577.0,413.4 L577.5,413.7 L578.0,414.1 L578.5,414.9 L579.0,416.3 L579.5,417.8 L580.0,418.0 L580.5,418.3 L581.0,418.3 L581.5,418.2 L582.0,418.0 L582.5,419.5 L583.0,421.2 L583.5,422.3 L584.0,422.9 L584.5,423.6 L585.0,425.2 L585.5,426.7 L586.0,428.0 L586.5,428.8 L587.0,429.5" fill="none" stroke="#ff0000" stroke-width="2.3" stroke-linejoin="round" stroke-linecap="round"/>
<path d="M82.5,202.0 L83.0,188.7 L83.5,178.0 L84.0,169.7 L84.5,162.8 L85.0,158.0 L85.5,154.6 L86.0,152.0 L86.5,151.0 L87.0,151.6 L87.5,153.0 L88.0,154.8 L88.5,157.2 L89.0,160.4 L89.5,164.2 L90.0,168.4 L90.5,172.7 L91.0,177.0 L91.5,181.1 L92.0,185.7 L92.5,190.6 L93.0,195.8 L93.5,201.2 L94.0,206.6 L94.5,212.0 L95.0,217.2 L95.5,221.9 L96.0,226.0 L96.5,229.4 L97.0,232.1 L97.5,234.8 L98.0,237.3 L98.5,239.8 L99.0,242.0 L99.5,244.1 L100.0,246.0 L100.5,247.7 L101.0,249.2 L101.5,250.4 L102.0,251.3 L102.5,252.1 L103.0,252.9 L103.5,253.6 L104.0,254.2 L104.5,254.7 L105.0,255.2 L105.5,255.6 L106.0,256.1 L106.5,256.7 L107.0,257.3 L107.5,257.7 L108.0,257.7 L108.5,257.6 L109.0,257.4 L109.5,257.1 L110.0,257.2 L110.5,257.3 L111.0,257.4 L111.5,257.4 L112.0,257.1 L112.5,256.8 L113.0,256.4 L113.5,256.0 L114.0,255.6 L114.5,255.2 L115.0,254.8 L115.5,254.3 L116.0,254.1 L116.5,253.8 L117.0,253.5 L117.5,253.2 L118.0,252.6 L118.5,251.9 L119.0,251.2 L119.5,250.4 L120.0,249.7 L120.5,249.0 L121.0,248.1 L121.5,247.2 L122.0,245.9 L122.5,244.5 L123.0,243.0 L123.5,241.5 L124.0,240.0 L124.5,238.6 L125.0,237.1 L125.5,235.5 L126.0,233.8 L126.5,232.1 L127.0,230.3 L127.5,228.3 L128.0,226.1 L128.5,223.7 L129.0,221.3 L129.5,218.9 L130.0,216.6 L130.5,214.2 L131.0,211.9 L131.5,209.6 L132.0,207.5 L132.5,205.4 L133.0,203.4 L133.5,201.6 L134.0,199.7 L134.5,197.8 L135.0,195.9 L135.5,194.1 L136.0,192.3 L136.5,190.5 L137.0,188.8 L137.5,187.5 L138.0,186.4 L138.5,185.4 L139.0,184.5 L139.5,183.1 L140.0,181.6 L140.5,180.3 L141.0,178.9 L141.5,177.9 L142.0,176.8 L142.5,175.9 L143.0,174.9 L143.5,174.1 L144.0,173.3 L144.5,172.5 L145.0,171.7 L145.5,171.0 L146.0,170.3 L146.5,169.6 L147.0,168.9 L147.5,168.3 L148.0,167.7 L148.5,167.2 L149.0,166.7 L149.5,166.2 L150.0,165.8 L150.5,165.4 L151.0,165.0 L151.5,164.7 L152.0,164.5 L152.5,164.4 L153.0,164.3 L153.5,164.4 L154.0,164.5 L154.5,164.6 L155.0,164.8 L155.5,165.1 L156.0,165.3 L156.5,165.6 L157.0,165.9 L157.5,166.5 L158.0,167.3 L158.5,168.4 L159.0,169.5 L159.5,170.6 L160.0,171.8 L160.5,173.0 L161.0,174.5 L161.5,176.0 L162.0,177.7 L162.5,179.5 L163.0,181.3 L163.5,183.2 L164.0,185.2 L164.5,187.2 L165.0,189.3 L165.5,191.7 L166.0,194.1 L166.5,196.7 L167.0,199.7 L167.5,202.7 L168.0,205.6 L168.5,208.7 L169.0,211.6 L169.5,214.7 L170.0,218.0 L170.5,221.4 L171.0,225.1 L171.5,229.0 L172.0,233.3 L172.5,238.2 L173.0,244.0 L173.5,249.2 L174.0,253.0 L174.5,256.2 L175.0,259.3 L175.5,262.5 L176.0,265.7 L176.5,268.9 L177.0,272.3 L177.5,275.9 L178.0,280.0 L178.5,284.9 L179.0,290.0 L179.5,294.4 L180.0,298.5 L180.5,302.6 L181.0,306.9 L181.5,311.4 L182.0,316.1 L182.5,320.9 L183.0,325.8 L183.5,331.1 L184.0,336.8 L184.5,342.4 L185.0,347.3 L185.5,350.9 L186.0,354.0 L186.5,356.6 L187.0,358.8 L187.5,360.5 L188.0,361.9 L188.5,362.9 L189.0,364.0 L189.5,365.0 L190.0,365.8 L190.5,366.6 L191.0,367.4 L191.5,368.1 L192.0,368.6 L192.5,369.1 L193.0,369.5 L193.5,369.8 L194.0,370.2 L194.5,370.5 L195.0,370.8 L195.5,371.1 L196.0,371.4 L196.5,371.5 L197.0,371.7 L197.5,371.8 L198.0,371.9 L198.5,372.0 L199.0,372.1 L199.5,372.2 L200.0,372.3 L200.5,372.4 L201.0,372.4 L201.5,372.5 L202.0,372.4 L202.5,372.3 L203.0,372.2 L203.5,372.2 L204.0,372.3 L204.5,372.3 L205.0,372.4 L205.5,372.4 L206.0,372.5 L206.5,372.4 L207.0,372.2 L207.5,372.0 L207.7,372.0 L208.3,370.1 L209.2,373.1 L210.1,370.9 L210.5,370.7 L211.0,370.4 L211.5,370.1 L212.0,369.8 L212.5,369.5 L213.0,369.3 L213.5,369.0 L214.0,368.7 L214.5,368.6 L215.0,368.6 L215.5,368.6 L216.0,368.4 L216.5,367.8 L217.0,367.3 L217.5,366.8 L218.0,366.8 L218.5,366.8 L219.0,366.8 L219.5,366.2 L220.0,365.6 L220.5,364.9 L221.0,365.0 L221.5,365.2 L222.0,365.4 L222.5,364.8 L223.0,363.9 L223.5,362.9 L224.0,362.5 L224.5,362.5 L225.0,362.6 L225.5,362.4 L226.0,361.7 L226.5,361.0 L227.0,360.4 L227.5,360.1 L228.0,359.8 L228.5,359.6 L229.0,359.2 L229.5,358.9 L230.0,358.5 L230.5,358.1 L231.0,357.7 L231.5,357.3 L232.0,357.2 L232.5,357.2 L233.0,357.3 L233.5,357.1 L234.0,356.5 L234.5,356.0 L235.0,355.4 L235.5,355.0 L236.0,354.5 L236.5,354.1 L237.0,354.1 L237.5,354.1 L238.0,354.1 L238.5,353.8 L239.0,353.6 L239.5,353.3 L240.0,352.9 L240.5,352.4 L241.0,351.9 L241.5,351.7 L242.0,351.7 L242.5,351.6 L243.0,351.5 L243.5,351.1 L244.0,350.8 L244.5,350.6 L245.0,350.4 L245.5,350.2 L246.0,350.1 L246.5,349.8 L247.0,349.5 L247.5,349.2 L248.0,348.9 L248.5,348.5 L249.0,348.1 L249.5,347.8 L250.0,347.5 L250.5,347.2 L251.0,347.0 L251.5,346.9 L252.0,346.7 L252.5,346.5 L253.0,346.2 L253.5,345.8 L254.0,345.5 L254.5,344.9 L255.0,344.4 L255.5,344.0 L256.0,343.8 L256.5,343.7 L257.0,343.5 L257.5,343.2 L258.0,343.0 L258.5,342.7 L259.0,342.4 L259.5,342.2 L260.0,341.9 L260.5,341.8 L261.0,341.8 L261.5,341.8 L262.0,341.6 L262.5,340.9 L263.0,340.3 L263.5,339.7 L264.0,339.5 L264.5,339.3 L265.0,339.1 L265.5,338.9 L266.0,338.7 L266.5,338.5 L267.0,338.0 L267.5,337.4 L268.0,336.9 L268.5,336.5 L269.0,336.0 L269.5,335.6 L270.0,335.3 L270.5,335.0 L271.0,334.6 L271.5,334.2 L272.0,333.7 L272.5,333.1 L273.0,332.6 L273.5,332.2 L274.0,331.7 L274.5,331.3 L275.0,331.0 L275.5,330.7 L276.0,330.3 L276.5,329.9 L277.0,329.5 L277.5,329.1 L278.0,328.7 L278.5,328.2 L279.0,327.7 L279.5,327.2 L280.0,326.7 L280.5,326.3 L281.0,325.9 L281.5,325.6 L282.0,325.4 L282.5,325.1 L283.0,324.9 L283.5,324.7 L284.0,324.5 L284.5,324.0 L285.0,323.4 L285.5,322.9 L286.0,322.8 L286.5,322.7 L287.0,322.6 L287.5,322.4 L288.0,322.1 L288.5,321.9 L289.0,321.7 L289.5,321.6 L290.0,321.5 L290.5,321.3 L291.0,321.0 L291.5,320.6 L292.0,320.5 L292.5,320.8 L293.0,321.2 L293.5,321.5 L294.0,321.4 L294.5,321.3 L295.0,321.2 L295.5,321.1 L296.0,320.9 L296.5,320.7 L297.0,320.9 L297.5,321.1 L298.0,321.4 L298.5,321.6 L299.0,321.6 L299.5,321.8 L300.0,322.0 L300.5,322.3 L301.0,322.7 L301.5,323.0 L302.0,323.2 L302.5,323.5 L303.0,323.7 L303.5,324.2 L304.0,324.7 L304.5,325.1 L305.0,325.4 L305.5,325.6 L306.0,325.8 L306.5,326.1 L307.0,326.6 L307.5,327.0 L308.0,327.2 L308.5,327.2 L309.0,327.3 L309.5,327.3 L310.0,327.3 L310.5,327.3 L311.0,327.4 L311.5,327.8 L312.0,328.1 L312.5,328.5 L313.0,328.7 L313.5,328.8 L314.0,329.0 L314.5,329.2 L315.0,329.3 L315.5,329.5 L316.0,329.6 L316.5,329.7 L317.0,329.8 L317.5,330.2 L318.0,330.8 L318.5,331.4 L319.0,331.9 L319.5,332.0 L320.0,332.1 L320.5,332.2 L321.0,332.8 L321.5,333.4 L322.0,334.0 L322.5,334.0 L323.0,333.9 L323.5,333.8 L323.6,333.9 L324.2,326.3 L325.1,340.3 L326.0,334.8 L326.0,334.8 L326.5,334.9 L327.0,335.0 L327.5,335.1 L328.0,335.3 L328.5,335.5 L329.0,335.9 L329.5,336.2 L330.0,336.5 L330.5,336.1 L331.0,335.7 L331.5,335.3 L332.0,335.6 L332.5,335.9 L333.0,336.2 L333.5,336.1 L334.0,335.8 L334.5,335.6 L335.0,335.4 L335.5,335.2 L336.0,334.9 L336.5,334.9 L337.0,335.1 L337.5,335.3 L338.0,335.3 L338.5,335.2 L339.0,335.0 L339.5,334.9 L340.0,334.8 L340.5,334.6 L341.0,334.4 L341.5,333.9 L342.0,333.3 L342.5,332.8 L343.0,332.6 L343.5,332.5 L344.0,332.4 L344.5,332.0 L345.0,331.6 L345.5,331.1 L346.0,330.6 L346.5,330.2 L347.0,329.8 L347.5,329.4 L348.0,328.8 L348.5,328.2 L349.0,327.5 L349.5,326.8 L350.0,326.0 L350.5,325.2 L351.0,324.6 L351.5,323.9 L352.0,323.2 L352.5,322.2 L353.0,321.2 L353.5,320.1 L354.0,318.8 L354.5,317.5 L355.0,316.2 L355.5,315.0 L356.0,314.1 L356.5,313.2 L357.0,312.2 L357.5,310.9 L358.0,309.7 L358.5,308.6 L359.0,307.6 L359.5,306.5 L360.0,305.5 L360.5,304.6 L361.0,303.6 L361.5,302.6 L362.0,301.5 L362.5,300.4 L363.0,299.7 L363.5,299.0 L364.0,298.1 L364.5,297.1 L365.0,296.1 L365.5,295.3 L366.0,294.6 L366.5,293.5 L367.0,292.1 L367.5,290.7 L368.0,289.2 L368.5,287.6 L369.0,286.7 L369.5,286.5 L370.0,286.0 L370.5,284.3 L371.0,282.5 L371.5,280.6 L372.0,278.5 L372.5,276.5 L373.0,274.6 L373.5,272.7 L374.0,270.8 L374.5,269.0 L375.0,267.2 L375.5,265.4 L376.0,263.5 L376.5,262.0 L377.0,260.6 L377.5,259.4 L378.0,258.3 L378.5,257.2 L379.0,256.2 L379.5,255.3 L380.0,254.3 L380.5,252.4 L381.0,250.6 L381.5,249.2 L382.0,248.1 L382.5,246.8 L383.0,244.4 L383.5,242.0 L384.0,240.5 L384.5,239.7 L385.0,238.8 L385.5,236.7 L386.0,234.6 L386.5,233.2 L387.0,232.2 L387.5,231.2 L388.0,229.5 L388.5,227.9 L389.0,226.0 L389.5,223.9 L390.0,222.0 L390.5,220.3 L391.0,218.7 L391.5,217.3 L392.0,215.9 L392.5,214.4 L393.0,212.0 L393.5,209.6 L394.0,207.3 L394.5,205.0 L395.0,203.0 L395.5,202.2 L396.0,201.4 L396.5,200.3 L397.0,198.9 L397.5,197.2 L398.0,194.0 L398.5,190.7 L399.0,188.8 L399.5,187.5 L400.0,186.0 L400.5,183.5 L401.0,181.1 L401.5,179.2 L402.0,177.7 L402.5,176.2 L403.0,174.3 L403.5,172.5 L404.0,171.3 L404.5,170.5 L405.0,169.5 L405.5,167.6 L406.0,165.8 L406.5,164.4 L407.0,163.1 L407.5,161.8 L408.0,160.2 L408.5,158.5 L409.0,157.5 L409.5,156.8 L410.0,155.9 L410.5,154.2 L411.0,152.5 L411.5,151.1 L412.0,149.9 L412.5,148.7 L413.0,147.5 L413.5,146.4 L414.0,144.7 L414.5,143.0 L415.0,141.4 L415.5,140.6 L416.0,139.9 L416.5,138.5 L417.0,136.8 L417.5,135.5 L418.0,135.1 L418.5,134.6 L419.0,133.9 L419.5,133.0 L420.0,132.2 L420.5,131.4 L421.0,130.6 L421.5,130.0 L422.0,129.5 L422.5,129.0 L423.0,128.4 L423.5,127.8 L424.0,127.6 L424.5,127.6 L425.0,127.5 L425.5,126.9 L426.0,126.4 L426.5,126.0 L427.0,125.5 L427.5,125.2 L428.0,125.2 L428.5,125.2 L429.0,125.1 L429.5,124.9 L430.0,124.9 L430.5,125.1 L431.0,125.4 L431.5,125.4 L432.0,125.4 L432.5,125.3 L433.0,124.9 L433.5,124.4 L434.0,125.4 L434.5,126.7 L435.0,127.4 L435.5,126.8 L436.0,126.3 L436.5,126.2 L437.0,126.3 L437.5,126.5 L438.0,127.0 L438.5,127.6 L439.0,127.1 L439.5,126.6 L440.0,126.7 L440.5,127.8 L441.0,129.0 L441.5,129.9 L442.0,130.9 L442.5,131.8 L443.0,132.5 L443.5,133.1 L444.0,134.0 L444.5,134.9 L445.0,135.7 L445.5,136.3 L446.0,136.8 L446.5,137.6 L447.0,138.4 L447.5,139.3 L448.0,140.2 L448.5,141.1 L449.0,142.1 L449.5,143.1 L450.0,144.0 L450.5,144.6 L451.0,145.3 L451.5,146.9 L452.0,148.7 L452.5,150.3 L453.0,151.6 L453.5,153.0 L454.0,154.0 L454.5,155.1 L455.0,156.3 L455.5,157.7 L456.0,159.2 L456.5,160.9 L457.0,162.7 L457.5,164.6 L458.0,166.7 L458.5,168.8 L459.0,170.8 L459.5,172.8 L460.0,174.7 L460.5,176.3 L461.0,177.9 L461.5,180.3 L462.0,182.7 L462.5,185.1 L463.0,187.3 L463.5,189.5 L464.0,192.0 L464.5,194.4 L465.0,196.6 L465.5,198.5 L466.0,200.4 L466.5,202.7 L467.0,204.9 L467.5,207.2 L468.0,209.5 L468.5,211.8 L469.0,213.4 L469.5,215.0 L470.0,216.8 L470.5,218.9 L471.0,221.0 L471.5,223.2 L472.0,225.6 L472.5,227.9 L473.0,230.1 L473.5,232.4 L474.0,235.3 L474.5,238.2 L475.0,240.8 L475.5,243.2 L476.0,245.5 L476.5,247.5 L477.0,249.4 L477.5,251.5 L478.0,254.0 L478.5,256.4 L479.0,257.8 L479.5,259.1 L480.0,260.0 L480.5,260.5 L481.0,260.9 L481.5,263.1 L482.0,265.2 L482.5,267.0 L483.0,268.7 L483.5,270.4 L484.0,271.9 L484.5,273.4 L485.0,274.8 L485.5,276.1 L486.0,277.6 L486.5,279.6 L487.0,281.7 L487.5,283.6 L488.0,285.3 L488.5,286.8 L489.0,288.0 L489.5,289.0 L490.0,290.5 L490.5,292.3 L491.0,294.3 L491.5,295.9 L492.0,297.6 L492.5,299.4 L493.0,301.1 L493.5,302.8 L494.0,304.7 L494.5,306.4 L495.0,307.8 L495.5,309.2 L496.0,310.5 L496.5,311.3 L497.0,312.1 L497.5,313.1 L498.0,314.4 L498.5,315.6 L499.0,317.0 L499.5,318.3 L500.0,319.4 L500.5,320.4 L501.0,321.3 L501.5,320.9 L502.0,320.5 L502.5,321.8 L503.0,324.1 L503.5,326.1 L504.0,325.8 L504.5,325.4 L505.0,325.9 L505.5,327.0 L506.0,327.9 L506.5,327.8 L507.0,327.6 L507.5,328.3 L508.0,329.4 L508.5,330.4 L509.0,330.6 L509.5,330.8 L510.0,331.0 L510.5,331.3 L511.0,331.5 L511.5,331.7 L512.0,331.8 L512.5,332.0 L513.0,332.2 L513.5,332.5 L514.0,333.0 L514.5,333.6 L515.0,333.5 L515.5,333.3 L516.0,333.1 L516.5,333.5 L517.0,333.9 L517.5,334.2 L518.0,334.4 L518.5,334.5 L519.0,334.3 L519.5,334.0 L520.0,334.5 L520.5,335.2 L521.0,335.8 L521.5,335.9 L522.0,335.9 L522.5,335.9 L523.0,335.7 L523.5,335.5 L524.0,335.2 L524.5,334.9 L525.0,335.1 L525.5,335.4 L526.0,335.7 L526.5,335.8 L527.0,335.8 L527.5,335.9 L528.0,336.0 L528.5,336.0 L529.0,336.0 L529.5,336.0 L530.0,335.7 L530.5,335.3 L531.0,335.2 L531.5,336.0 L532.0,337.0 L532.5,337.6 L533.0,337.9 L533.5,338.4 L534.0,338.9 L534.5,339.3 L535.0,339.6 L535.5,339.7 L536.0,340.0 L536.5,340.5 L537.0,341.0 L537.5,341.1 L538.0,341.1 L538.5,341.2 L539.0,341.5 L539.5,341.8 L540.0,341.9 L540.5,341.8 L541.0,341.8 L541.5,342.0 L542.0,342.2 L542.5,342.6 L543.0,343.1 L543.5,343.4 L544.0,343.3 L544.5,343.2 L545.0,343.7 L545.5,344.2 L546.0,344.8 L546.5,345.4 L547.0,346.0 L547.5,346.3 L548.0,346.5 L548.5,346.6 L549.0,346.4 L549.5,346.2 L550.0,347.1 L550.5,348.2 L551.0,349.1 L551.5,349.5 L552.0,349.9 L552.5,350.8 L553.0,351.9 L553.5,352.4 L554.0,352.0 L554.5,351.6 L555.0,352.3 L555.5,353.3 L556.0,354.4 L556.5,355.8 L557.0,357.2 L557.5,356.9 L558.0,356.2 L558.5,356.3 L559.0,357.7 L559.5,359.1 L560.0,359.9 L560.5,360.5 L561.0,361.0 L561.5,361.4 L562.0,361.8 L562.5,363.0 L563.0,364.4 L563.5,365.4 L564.0,365.9 L564.5,366.4 L565.0,366.7 L565.5,366.9 L566.0,367.6 L566.5,369.1 L567.0,370.6 L567.5,371.3 L568.0,371.9 L568.5,372.8 L569.0,374.5 L569.5,376.1 L570.0,376.7 L570.5,377.1 L571.0,377.6 L571.5,378.0 L572.0,378.4 L572.5,379.6 L573.0,380.8 L573.5,382.1 L574.0,383.4 L574.5,384.7 L575.0,384.4 L575.5,384.0 L576.0,384.0 L576.5,384.7 L577.0,385.5 L577.5,386.4 L578.0,387.4 L578.5,388.3 L579.0,389.2 L579.5,390.1 L580.0,391.0 L580.5,392.1 L581.0,392.9 L581.5,393.6 L582.0,394.2 L582.5,396.0 L583.0,397.8 L583.5,399.2 L584.0,400.1 L584.5,401.1 L585.0,402.6 L585.5,404.2 L586.0,406.0 L586.5,408.0 L587.0,409.8 L587.5,410.7 L588.0,411.6 L588.5,413.0 L589.0,414.9 L589.5,417.0 L590.0,419.3 L590.5,422.0 L591.0,425.0" fill="none" stroke="#0000ff" stroke-width="2.3" stroke-linejoin="round" stroke-linecap="round"/>
<path d="M82.5,203.0 L83.0,193.1 L83.5,183.7 L84.0,175.0 L84.5,166.3 L85.0,158.0 L85.5,152.0 L86.0,147.8 L86.5,144.4 L87.0,143.0 L87.5,143.7 L88.0,145.5 L88.5,147.5 L89.0,149.8 L89.5,152.8 L90.0,156.3 L90.5,160.4 L91.0,164.8 L91.5,169.4 L92.0,174.1 L92.5,178.7 L93.0,183.6 L93.5,189.2 L94.0,195.0 L94.5,200.5 L95.0,204.9 L95.5,208.6 L96.0,212.1 L96.5,215.4 L97.0,218.4 L97.5,221.3 L98.0,224.0 L98.5,226.4 L99.0,228.6 L99.5,230.7 L100.0,232.8 L100.5,235.0 L101.0,236.9 L101.5,238.7 L102.0,240.2 L102.5,241.5 L103.0,242.7 L103.5,243.9 L104.0,244.9 L104.5,245.6 L105.0,246.1 L105.5,246.6 L106.0,247.1 L106.5,247.6 L107.0,248.0 L107.5,248.4 L108.0,248.7 L108.5,248.9 L109.0,249.2 L109.5,249.4 L110.0,249.5 L110.5,249.6 L111.0,249.6 L111.5,249.6 L112.0,249.8 L112.5,249.9 L113.0,250.0 L113.5,250.1 L114.0,249.9 L114.5,249.6 L115.0,249.2 L115.5,248.8 L116.0,248.4 L116.5,248.0 L117.0,247.5 L117.5,247.0 L118.0,246.6 L118.5,246.2 L119.0,245.8 L119.5,245.4 L120.0,244.8 L120.5,244.3 L121.0,243.7 L121.5,243.0 L122.0,242.3 L122.5,241.6 L123.0,240.8 L123.5,239.9 L124.0,238.9 L124.5,237.8 L125.0,236.8 L125.5,235.7 L126.0,234.7 L126.5,233.6 L127.0,232.5 L127.5,231.2 L128.0,229.8 L128.5,228.3 L129.0,226.9 L129.5,225.5 L130.0,224.4 L130.5,223.2 L131.0,222.1 L131.5,220.8 L132.0,219.5 L132.5,218.2 L133.0,217.0 L133.5,215.9 L134.0,214.8 L134.5,213.6 L135.0,212.5 L135.5,211.3 L136.0,210.0 L136.5,208.7 L137.0,207.4 L137.5,206.2 L138.0,205.0 L138.5,203.8 L139.0,202.7 L139.5,201.7 L140.0,200.7 L140.5,199.8 L141.0,199.0 L141.5,198.2 L142.0,197.3 L142.5,196.5 L143.0,195.7 L143.5,195.0 L144.0,194.3 L144.5,193.7 L145.0,193.1 L145.5,192.3 L146.0,191.6 L146.5,190.9 L147.0,190.3 L147.5,189.9 L148.0,189.5 L148.5,189.2 L149.0,188.8 L149.5,188.3 L150.0,187.8 L150.5,187.3 L151.0,186.9 L151.5,186.7 L152.0,186.5 L152.5,186.4 L153.0,186.4 L153.5,186.4 L154.0,186.6 L154.5,186.8 L155.0,187.2 L155.5,187.7 L156.0,188.2 L156.5,188.9 L157.0,189.4 L157.5,189.9 L158.0,190.4 L158.5,190.9 L159.0,191.5 L159.5,192.3 L160.0,193.2 L160.5,194.2 L161.0,195.4 L161.5,196.7 L162.0,198.1 L162.5,199.6 L163.0,201.0 L163.5,202.3 L164.0,203.8 L164.5,205.5 L165.0,207.5 L165.5,209.9 L166.0,212.4 L166.5,215.1 L167.0,217.9 L167.5,221.3 L168.0,225.1 L168.5,229.2 L169.0,233.2 L169.5,236.9 L170.0,240.4 L170.5,243.9 L171.0,247.2 L171.5,250.6 L172.0,253.9 L172.5,257.1 L173.0,260.4 L173.5,263.7 L174.0,267.0 L174.5,270.4 L175.0,273.7 L175.5,277.0 L176.0,280.2 L176.5,283.3 L177.0,286.6 L177.5,290.0 L178.0,293.5 L178.5,297.3 L179.0,301.3 L179.5,305.5 L180.0,309.7 L180.5,314.0 L181.0,318.2 L181.5,322.3 L182.0,326.4 L182.5,330.4 L183.0,334.6 L183.5,338.7 L184.0,342.5 L184.5,346.0 L185.0,348.9 L185.5,351.2 L186.0,353.3 L186.5,355.1 L187.0,356.7 L187.5,358.0 L188.0,359.0 L188.5,359.8 L189.0,360.5 L189.5,361.1 L190.0,361.6 L190.5,362.2 L191.0,362.7 L191.5,363.2 L192.0,363.6 L192.5,364.1 L193.0,364.6 L193.5,365.1 L194.0,365.6 L194.5,366.0 L195.0,366.3 L195.5,366.6 L196.0,366.9 L196.5,367.1 L197.0,367.3 L197.5,367.4 L198.0,367.5 L198.5,367.7 L199.0,367.9 L199.5,367.9 L200.0,368.0 L200.5,368.0 L201.0,367.9 L201.5,367.9 L202.0,367.9 L202.5,367.8 L203.0,367.7 L203.5,367.9 L204.0,368.1 L204.5,368.3 L205.0,368.3 L205.5,368.2 L206.0,368.0 L206.5,367.8 L207.0,367.6 L207.5,367.4 L207.7,367.3 L208.3,365.6 L209.2,368.6 L210.1,366.3 L210.5,366.3 L211.0,366.2 L211.5,365.9 L212.0,365.6 L212.5,365.3 L213.0,365.1 L213.5,365.0 L214.0,364.8 L214.5,364.6 L215.0,364.2 L215.5,363.9 L216.0,363.6 L216.5,363.5 L217.0,363.4 L217.5,363.3 L218.0,363.0 L218.5,362.6 L219.0,362.3 L219.5,362.2 L220.0,362.0 L220.5,361.9 L221.0,361.4 L221.5,360.9 L222.0,360.4 L222.5,360.1 L223.0,359.9 L223.5,359.7 L224.0,359.5 L224.5,359.2 L225.0,358.8 L225.5,358.6 L226.0,358.7 L226.5,358.8 L227.0,358.8 L227.5,358.3 L228.0,357.7 L228.5,357.2 L229.0,357.0 L229.5,356.8 L230.0,356.6 L230.5,356.1 L231.0,355.7 L231.5,355.2 L232.0,354.9 L232.5,354.7 L233.0,354.6 L233.5,354.3 L234.0,354.0 L234.5,353.6 L235.0,353.4 L235.5,353.3 L236.0,353.2 L236.5,353.1 L237.0,352.8 L237.5,352.4 L238.0,352.1 L238.5,352.1 L239.0,352.2 L239.5,352.2 L240.0,351.8 L240.5,351.2 L241.0,350.7 L241.5,350.4 L242.0,350.4 L242.5,350.4 L243.0,350.2 L243.5,349.8 L244.0,349.4 L244.5,349.1 L245.0,348.9 L245.5,348.7 L246.0,348.5 L246.5,348.1 L247.0,347.6 L247.5,347.2 L248.0,347.0 L248.5,346.8 L249.0,346.7 L249.5,346.4 L250.0,346.1 L250.5,345.9 L251.0,345.5 L251.5,345.2 L252.0,344.8 L252.5,344.6 L253.0,344.5 L253.5,344.4 L254.0,344.1 L254.5,343.6 L255.0,343.1 L255.5,342.6 L256.0,342.4 L256.5,342.3 L257.0,342.2 L257.5,341.9 L258.0,341.6 L258.5,341.3 L259.0,341.0 L259.5,340.7 L260.0,340.5 L260.5,340.1 L261.0,339.6 L261.5,339.1 L262.0,338.8 L262.5,338.7 L263.0,338.6 L263.5,338.4 L264.0,337.9 L264.5,337.4 L265.0,336.9 L265.5,336.6 L266.0,336.2 L266.5,335.9 L267.0,335.4 L267.5,335.0 L268.0,334.5 L268.5,334.2 L269.0,333.8 L269.5,333.5 L270.0,333.3 L270.5,333.0 L271.0,332.8 L271.5,332.6 L272.0,332.6 L272.5,332.6 L273.0,332.3 L273.5,331.2 L274.0,330.2 L274.5,329.3 L275.0,329.4 L275.5,329.6 L276.0,329.7 L276.5,329.4 L277.0,329.1 L277.5,328.8 L278.0,328.6 L278.5,328.3 L279.0,328.1 L279.5,327.8 L280.0,327.4 L280.5,326.9 L281.0,326.6 L281.5,326.3 L282.0,326.0 L282.5,325.8 L283.0,325.7 L283.5,325.6 L284.0,325.4 L284.5,324.9 L285.0,324.4 L285.5,324.0 L286.0,323.7 L286.5,323.5 L287.0,323.2 L287.5,323.0 L288.0,322.8 L288.5,322.6 L289.0,322.5 L289.5,322.4 L290.0,322.3 L290.5,322.3 L291.0,322.4 L291.5,322.5 L292.0,322.4 L292.5,322.0 L293.0,321.6 L293.5,321.2 L294.0,321.3 L294.5,321.5 L295.0,321.7 L295.5,321.3 L296.0,320.8 L296.5,320.3 L297.0,320.4 L297.5,320.7 L298.0,321.0 L298.5,321.0 L299.0,320.9 L299.5,320.8 L300.0,320.8 L300.5,321.0 L301.0,321.3 L301.5,321.5 L302.0,321.5 L302.5,321.5 L303.0,321.5 L303.5,321.6 L304.0,321.7 L304.5,321.8 L305.0,321.9 L305.5,322.0 L306.0,322.1 L306.5,322.2 L307.0,322.3 L307.5,322.4 L308.0,322.3 L308.5,322.2 L309.0,322.0 L309.5,322.0 L310.0,322.4 L310.5,322.8 L311.0,323.0 L311.5,322.9 L312.0,322.8 L312.5,322.7 L313.0,323.1 L313.5,323.5 L314.0,323.9 L314.5,323.8 L315.0,323.7 L315.5,323.6 L316.0,323.7 L316.5,323.8 L317.0,324.0 L317.5,324.1 L318.0,324.1 L318.5,324.1 L319.0,324.1 L319.5,324.2 L320.0,324.4 L320.5,324.5 L321.0,324.5 L321.5,324.6 L322.0,324.6 L322.5,324.6 L323.0,324.7 L323.5,324.7 L323.6,324.6 L324.2,315.4 L325.1,329.4 L326.0,324.1 L326.0,324.1 L326.5,324.3 L327.0,324.1 L327.5,323.6 L328.0,323.0 L328.5,322.6 L329.0,322.5 L329.5,322.4 L330.0,322.2 L330.5,321.6 L331.0,321.0 L331.5,320.5 L332.0,320.6 L332.5,320.7 L333.0,320.8 L333.5,320.6 L334.0,320.4 L334.5,320.2 L335.0,320.0 L335.5,319.7 L336.0,319.4 L336.5,319.1 L337.0,318.8 L337.5,318.4 L338.0,318.1 L338.5,317.8 L339.0,317.6 L339.5,317.3 L340.0,316.9 L340.5,316.5 L341.0,316.1 L341.5,315.8 L342.0,315.6 L342.5,315.4 L343.0,315.1 L343.5,314.8 L344.0,314.5 L344.5,314.2 L345.0,313.9 L345.5,313.6 L346.0,313.2 L346.5,312.7 L347.0,312.1 L347.5,311.7 L348.0,311.3 L348.5,311.0 L349.0,310.6 L349.5,310.3 L350.0,310.0 L350.5,309.6 L351.0,309.1 L351.5,308.5 L352.0,308.0 L352.5,307.4 L353.0,306.8 L353.5,306.3 L354.0,305.7 L354.5,305.0 L355.0,304.4 L355.5,303.8 L356.0,303.3 L356.5,302.8 L357.0,302.3 L357.5,301.7 L358.0,301.0 L358.5,300.3 L359.0,299.6 L359.5,298.9 L360.0,298.2 L360.5,297.4 L361.0,296.7 L361.5,295.7 L362.0,294.6 L362.5,293.5 L363.0,293.1 L363.5,292.8 L364.0,291.7 L364.5,290.0 L365.0,288.3 L365.5,287.7 L366.0,287.1 L366.5,286.2 L367.0,285.0 L367.5,283.8 L368.0,282.5 L368.5,281.3 L369.0,280.1 L369.5,279.1 L370.0,278.0 L370.5,276.8 L371.0,275.7 L371.5,274.7 L372.0,274.0 L372.5,273.3 L373.0,272.5 L373.5,271.8 L374.0,271.2 L374.5,270.7 L375.0,270.2 L375.5,269.3 L376.0,268.5 L376.5,267.6 L377.0,266.7 L377.5,265.8 L378.0,264.1 L378.5,262.5 L379.0,260.7 L379.5,258.9 L380.0,257.3 L380.5,256.9 L381.0,256.5 L381.5,255.1 L382.0,253.0 L382.5,250.9 L383.0,248.3 L383.5,245.8 L384.0,244.5 L384.5,244.1 L385.0,243.6 L385.5,241.8 L386.0,239.9 L386.5,238.1 L387.0,236.3 L387.5,234.6 L388.0,233.0 L388.5,231.4 L389.0,229.9 L389.5,228.5 L390.0,227.0 L390.5,225.0 L391.0,223.1 L391.5,221.6 L392.0,220.3 L392.5,218.9 L393.0,217.2 L393.5,215.5 L394.0,213.8 L394.5,212.3 L395.0,210.7 L395.5,209.3 L396.0,208.0 L396.5,206.5 L397.0,204.8 L397.5,203.3 L398.0,202.2 L398.5,201.0 L399.0,199.3 L399.5,197.3 L400.0,195.2 L400.5,193.1 L401.0,191.0 L401.5,189.4 L402.0,188.0 L402.5,186.7 L403.0,185.6 L403.5,184.5 L404.0,183.0 L404.5,181.2 L405.0,179.4 L405.5,176.8 L406.0,174.2 L406.5,172.5 L407.0,171.2 L407.5,169.7 L408.0,167.4 L408.5,165.1 L409.0,163.1 L409.5,161.4 L410.0,159.5 L410.5,157.3 L411.0,155.2 L411.5,153.5 L412.0,151.9 L412.5,150.6 L413.0,149.6 L413.5,148.6 L414.0,147.5 L414.5,146.4 L415.0,145.4 L415.5,144.4 L416.0,143.5 L416.5,142.4 L417.0,141.3 L417.5,140.4 L418.0,140.0 L418.5,139.6 L419.0,139.2 L419.5,138.8 L420.0,138.3 L420.5,137.7 L421.0,137.0 L421.5,135.8 L422.0,134.5 L422.5,133.5 L423.0,133.7 L423.5,133.9 L424.0,134.0 L424.5,134.1 L425.0,134.1 L425.5,134.0 L426.0,133.9 L426.5,133.3 L427.0,132.7 L427.5,132.4 L428.0,132.9 L428.5,133.6 L429.0,132.6 L429.5,131.3 L430.0,130.8 L430.5,132.4 L431.0,133.9 L431.5,133.8 L432.0,133.4 L432.5,133.2 L433.0,133.6 L433.5,134.1 L434.0,134.1 L434.5,134.0 L435.0,134.1 L435.5,134.2 L436.0,134.5 L436.5,135.1 L437.0,135.8 L437.5,136.5 L438.0,137.1 L438.5,137.8 L439.0,138.0 L439.5,138.2 L440.0,138.8 L440.5,140.1 L441.0,141.4 L441.5,141.8 L442.0,142.0 L442.5,142.5 L443.0,143.3 L443.5,144.1 L444.0,144.6 L444.5,145.0 L445.0,145.5 L445.5,146.3 L446.0,147.1 L446.5,148.1 L447.0,149.1 L447.5,149.9 L448.0,150.2 L448.5,150.6 L449.0,152.0 L449.5,153.6 L450.0,154.6 L450.5,154.8 L451.0,154.9 L451.5,156.2 L452.0,157.7 L452.5,158.6 L453.0,159.0 L453.5,159.3 L454.0,160.4 L454.5,161.6 L455.0,162.7 L455.5,163.4 L456.0,164.2 L456.5,165.7 L457.0,167.4 L457.5,168.8 L458.0,170.0 L458.5,171.3 L459.0,171.7 L459.5,172.1 L460.0,172.9 L460.5,174.5 L461.0,176.1 L461.5,177.5 L462.0,179.0 L462.5,180.8 L463.0,182.9 L463.5,185.1 L464.0,187.3 L464.5,189.5 L465.0,191.7 L465.5,194.1 L466.0,196.3 L466.5,197.6 L467.0,198.8 L467.5,199.8 L468.0,200.9 L468.5,201.9 L469.0,204.3 L469.5,206.8 L470.0,208.8 L470.5,210.1 L471.0,211.5 L471.5,213.3 L472.0,215.3 L472.5,217.6 L473.0,220.3 L473.5,223.1 L474.0,225.6 L474.5,228.0 L475.0,230.1 L475.5,231.7 L476.0,233.1 L476.5,235.1 L477.0,236.9 L477.5,238.2 L478.0,239.1 L478.5,240.0 L479.0,241.2 L479.5,242.5 L480.0,243.7 L480.5,244.6 L481.0,245.7 L481.5,247.5 L482.0,249.3 L482.5,250.5 L483.0,251.2 L483.5,251.9 L484.0,253.5 L484.5,255.0 L485.0,256.6 L485.5,258.2 L486.0,259.8 L486.5,260.5 L487.0,261.2 L487.5,262.6 L488.0,264.4 L488.5,266.2 L489.0,267.5 L489.5,268.8 L490.0,270.2 L490.5,271.5 L491.0,272.7 L491.5,274.0 L492.0,275.3 L492.5,275.7 L493.0,275.3 L493.5,275.1 L494.0,277.0 L494.5,278.9 L495.0,280.0 L495.5,280.6 L496.0,281.1 L496.5,282.0 L497.0,282.9 L497.5,283.5 L498.0,283.8 L498.5,284.1 L499.0,284.2 L499.5,284.1 L500.0,284.4 L500.5,284.9 L501.0,285.3 L501.5,285.5 L502.0,285.8 L502.5,286.6 L503.0,287.7 L503.5,288.8 L504.0,288.5 L504.5,288.4 L505.0,288.8 L505.5,289.6 L506.0,290.3 L506.5,290.6 L507.0,290.7 L507.5,290.5 L508.0,290.2 L508.5,290.0 L509.0,290.9 L509.5,291.7 L510.0,292.2 L510.5,292.5 L511.0,292.8 L511.5,293.6 L512.0,294.4 L512.5,294.4 L513.0,294.0 L513.5,293.7 L514.0,293.6 L514.5,293.4 L515.0,293.6 L515.5,294.0 L516.0,294.4 L516.5,295.0 L517.0,295.6 L517.5,295.8 L518.0,295.8 L518.5,295.9 L519.0,295.9 L519.5,296.0 L520.0,296.1 L520.5,296.2 L521.0,296.2 L521.5,295.7 L522.0,295.3 L522.5,295.6 L523.0,296.2 L523.5,296.7 L524.0,296.5 L524.5,296.4 L525.0,295.8 L525.5,295.0 L526.0,294.5 L526.5,295.0 L527.0,295.5 L527.5,296.2 L528.0,296.9 L528.5,297.3 L529.0,296.7 L529.5,296.1 L530.0,296.1 L530.5,296.2 L531.0,296.3 L531.5,296.6 L532.0,296.8 L532.5,297.0 L533.0,297.2 L533.5,297.4 L534.0,297.5 L534.5,297.7 L535.0,298.0 L535.5,298.5 L536.0,298.8 L536.5,298.6 L537.0,298.4 L537.5,298.4 L538.0,298.5 L538.5,298.8 L539.0,299.6 L539.5,300.4 L540.0,300.8 L540.5,301.1 L541.0,301.6 L541.5,302.2 L542.0,302.9 L542.5,303.6 L543.0,304.3 L543.5,304.8 L544.0,304.6 L544.5,304.4 L545.0,304.8 L545.5,305.3 L546.0,305.9 L546.5,306.6 L547.0,307.3 L547.5,307.6 L548.0,307.8 L548.5,308.1 L549.0,308.5 L549.5,309.0 L550.0,309.1 L550.5,309.2 L551.0,309.5 L551.5,310.3 L552.0,311.4 L552.5,312.2 L553.0,313.1 L553.5,314.0 L554.0,315.1 L554.5,316.1 L555.0,317.4 L555.5,318.8 L556.0,320.0 L556.5,320.8 L557.0,321.6 L557.5,322.3 L558.0,323.1 L558.5,323.6 L559.0,323.8 L559.5,324.1 L560.0,325.8 L560.5,327.8 L561.0,329.4 L561.5,330.4 L562.0,331.3 L562.5,331.8 L563.0,332.2 L563.5,332.9 L564.0,334.3 L564.5,335.7 L565.0,336.6 L565.5,337.5 L566.0,338.6 L566.5,340.0 L567.0,341.6 L567.5,342.2 L568.0,342.6 L568.5,343.6 L569.0,345.2 L569.5,346.8 L570.0,348.9 L570.5,351.0 L571.0,352.3 L571.5,352.6 L572.0,352.8 L572.5,353.9 L573.0,355.0 L573.5,356.1 L574.0,357.3 L574.5,358.4 L575.0,359.7 L575.5,361.1 L576.0,362.5 L576.5,364.1 L577.0,365.6 L577.5,366.4 L578.0,367.2 L578.5,368.3 L579.0,370.0 L579.5,371.6 L580.0,372.7 L580.5,373.8 L581.0,374.8 L581.5,375.7 L582.0,376.6 L582.5,378.4 L583.0,380.4 L583.5,381.9 L584.0,382.9 L584.5,384.0 L585.0,384.9 L585.5,385.9 L586.0,387.3 L586.5,389.1 L587.0,391.1 L587.5,393.0 L588.0,394.9 L588.5,397.0 L589.0,399.0 L589.5,401.1 L590.0,403.6 L590.5,406.1 L591.0,408.5" fill="none" stroke="#ff00ff" stroke-width="2.3" stroke-linejoin="round" stroke-linecap="round"/>
<path d="M82.5,204.0 L83.0,192.9 L83.5,182.7 L84.0,173.4 L84.5,165.0 L85.0,157.4 L85.5,150.5 L86.0,145.0 L86.5,140.1 L87.0,135.8 L87.5,134.0 L88.0,134.3 L88.5,135.2 L89.0,136.5 L89.5,138.1 L90.0,140.1 L90.5,144.0 L91.0,150.7 L91.5,158.0 L92.0,164.2 L92.5,169.1 L93.0,173.9 L93.5,178.3 L94.0,182.4 L94.5,185.9 L95.0,188.9 L95.5,191.5 L96.0,193.9 L96.5,196.1 L97.0,198.1 L97.5,200.0 L98.0,201.8 L98.5,203.6 L99.0,205.4 L99.5,207.3 L100.0,209.4 L100.5,211.8 L101.0,214.3 L101.5,216.9 L102.0,219.2 L102.5,221.0 L103.0,222.4 L103.5,223.7 L104.0,225.1 L104.5,226.5 L105.0,227.8 L105.5,229.0 L106.0,229.9 L106.5,230.7 L107.0,231.4 L107.5,232.1 L108.0,232.7 L108.5,233.2 L109.0,233.7 L109.5,234.2 L110.0,234.7 L110.5,235.3 L111.0,235.8 L111.5,236.3 L112.0,236.6 L112.5,237.0 L113.0,237.3 L113.5,237.6 L114.0,237.8 L114.5,238.0 L115.0,238.1 L115.5,238.2 L116.0,238.5 L116.5,238.8 L117.0,239.0 L117.5,239.1 L118.0,239.0 L118.5,238.9 L119.0,238.8 L119.5,238.7 L120.0,238.6 L120.5,238.6 L121.0,238.5 L121.5,238.4 L122.0,238.2 L122.5,238.1 L123.0,237.9 L123.5,237.6 L124.0,237.2 L124.5,236.8 L125.0,236.2 L125.5,235.6 L126.0,235.0 L126.5,234.3 L127.0,233.6 L127.5,232.9 L128.0,232.1 L128.5,231.2 L129.0,230.4 L129.5,229.6 L130.0,228.7 L130.5,227.8 L131.0,227.0 L131.5,226.3 L132.0,225.6 L132.5,224.9 L133.0,224.2 L133.5,223.4 L134.0,222.5 L134.5,221.7 L135.0,220.8 L135.5,220.0 L136.0,219.2 L136.5,218.5 L137.0,217.8 L137.5,217.3 L138.0,216.7 L138.5,216.2 L139.0,215.7 L139.5,215.2 L140.0,214.7 L140.5,214.2 L141.0,213.8 L141.5,213.3 L142.0,212.8 L142.5,212.3 L143.0,211.9 L143.5,211.4 L144.0,211.0 L144.5,210.6 L145.0,210.1 L145.5,209.8 L146.0,209.4 L146.5,209.1 L147.0,208.8 L147.5,208.5 L148.0,208.2 L148.5,207.9 L149.0,207.7 L149.5,207.6 L150.0,207.6 L150.5,207.6 L151.0,207.7 L151.5,207.8 L152.0,207.9 L152.5,208.1 L153.0,208.3 L153.5,208.4 L154.0,208.6 L154.5,208.8 L155.0,209.0 L155.5,209.4 L156.0,209.7 L156.5,210.2 L157.0,210.7 L157.5,211.3 L158.0,211.9 L158.5,212.6 L159.0,213.5 L159.5,214.4 L160.0,215.3 L160.5,216.3 L161.0,217.3 L161.5,218.3 L162.0,219.5 L162.5,220.9 L163.0,222.5 L163.5,224.4 L164.0,226.5 L164.5,228.8 L165.0,231.4 L165.5,234.1 L166.0,237.2 L166.5,240.6 L167.0,244.1 L167.5,247.4 L168.0,250.4 L168.5,253.1 L169.0,255.4 L169.5,257.8 L170.0,260.1 L170.5,262.7 L171.0,265.7 L171.5,269.0 L172.0,272.4 L172.5,275.8 L173.0,279.0 L173.5,282.2 L174.0,285.4 L174.5,288.7 L175.0,292.4 L175.5,296.6 L176.0,300.8 L176.5,304.3 L177.0,307.5 L177.5,310.4 L178.0,313.1 L178.5,315.8 L179.0,318.4 L179.5,321.0 L180.0,323.6 L180.5,326.2 L181.0,328.9 L181.5,331.7 L182.0,334.6 L182.5,337.5 L183.0,340.2 L183.5,342.8 L184.0,345.1 L184.5,347.2 L185.0,349.1 L185.5,350.6 L186.0,352.1 L186.5,353.3 L187.0,354.3 L187.5,355.2 L188.0,355.9 L188.5,356.5 L189.0,357.0 L189.5,357.6 L190.0,358.1 L190.5,358.5 L191.0,358.8 L191.5,359.0 L192.0,359.3 L192.5,359.6 L193.0,359.8 L193.5,360.1 L194.0,360.4 L194.5,360.6 L195.0,360.7 L195.5,360.8 L196.0,361.0 L196.5,361.2 L197.0,361.3 L197.5,361.5 L198.0,361.6 L198.5,361.7 L199.0,361.7 L199.5,361.8 L200.0,361.8 L200.5,361.8 L201.0,361.8 L201.5,361.8 L202.0,361.7 L202.5,361.7 L203.0,361.6 L203.5,361.6 L204.0,361.6 L204.5,361.6 L205.0,361.5 L205.5,361.4 L206.0,361.3 L206.5,361.3 L207.0,361.3 L207.5,361.4 L207.7,361.4 L208.3,359.7 L209.2,362.7 L210.1,360.9 L210.5,361.0 L211.0,361.1 L211.5,361.1 L212.0,361.0 L212.5,361.0 L213.0,360.7 L213.5,360.4 L214.0,360.0 L214.5,359.8 L215.0,359.9 L215.5,360.0 L216.0,359.9 L216.5,359.8 L217.0,359.6 L217.5,359.3 L218.0,358.9 L218.5,358.5 L219.0,358.0 L219.5,357.5 L220.0,357.0 L220.5,356.5 L221.0,356.2 L221.5,355.9 L222.0,355.6 L222.5,355.4 L223.0,355.3 L223.5,355.2 L224.0,355.1 L224.5,355.1 L225.0,355.1 L225.5,354.9 L226.0,354.5 L226.5,354.0 L227.0,353.6 L227.5,353.4 L228.0,353.1 L228.5,352.9 L229.0,352.5 L229.5,352.1 L230.0,351.7 L230.5,351.4 L231.0,351.1 L231.5,350.8 L232.0,350.6 L232.5,350.5 L233.0,350.4 L233.5,350.2 L234.0,349.8 L234.5,349.4 L235.0,349.1 L235.5,348.9 L236.0,348.8 L236.5,348.7 L237.0,348.6 L237.5,348.4 L238.0,348.3 L238.5,348.0 L239.0,347.7 L239.5,347.5 L240.0,347.3 L240.5,347.1 L241.0,347.0 L241.5,346.7 L242.0,346.3 L242.5,346.0 L243.0,345.8 L243.5,345.7 L244.0,345.6 L244.5,345.5 L245.0,345.3 L245.5,345.0 L246.0,344.8 L246.5,344.3 L247.0,343.9 L247.5,343.4 L248.0,343.3 L248.5,343.2 L249.0,343.1 L249.5,342.9 L250.0,342.8 L250.5,342.7 L251.0,342.6 L251.5,342.6 L252.0,342.6 L252.5,342.5 L253.0,342.3 L253.5,342.1 L254.0,341.9 L254.5,341.8 L255.0,341.6 L255.5,341.4 L256.0,341.3 L256.5,341.1 L257.0,340.9 L257.5,340.8 L258.0,340.7 L258.5,340.6 L259.0,340.5 L259.5,340.4 L260.0,340.3 L260.5,340.0 L261.0,339.7 L261.5,339.3 L262.0,339.0 L262.5,338.7 L263.0,338.4 L263.5,338.3 L264.0,338.4 L264.5,338.5 L265.0,338.6 L265.5,338.3 L266.0,338.0 L266.5,337.7 L267.0,337.6 L267.5,337.4 L268.0,337.3 L268.5,337.1 L269.0,336.8 L269.5,336.6 L270.0,336.3 L270.5,336.0 L271.0,335.6 L271.5,335.3 L272.0,335.0 L272.5,334.7 L273.0,334.5 L273.5,334.5 L274.0,334.5 L274.5,334.5 L275.0,334.3 L275.5,334.0 L276.0,333.7 L276.5,333.4 L277.0,333.1 L277.5,332.8 L278.0,332.4 L278.5,332.0 L279.0,331.6 L279.5,331.3 L280.0,331.1 L280.5,330.8 L281.0,330.5 L281.5,330.2 L282.0,329.9 L282.5,329.6 L283.0,329.4 L283.5,329.2 L284.0,328.9 L284.5,328.6 L285.0,328.3 L285.5,328.0 L286.0,327.7 L286.5,327.5 L287.0,327.2 L287.5,327.1 L288.0,327.0 L288.5,326.9 L289.0,326.9 L289.5,327.0 L290.0,327.1 L290.5,326.9 L291.0,326.4 L291.5,325.9 L292.0,325.5 L292.5,325.8 L293.0,326.0 L293.5,326.3 L294.0,326.2 L294.5,326.2 L295.0,326.1 L295.5,325.9 L296.0,325.6 L296.5,325.3 L297.0,325.3 L297.5,325.5 L298.0,325.6 L298.5,325.7 L299.0,325.6 L299.5,325.5 L300.0,325.4 L300.5,325.3 L301.0,325.1 L301.5,325.0 L302.0,325.0 L302.5,324.9 L303.0,324.8 L303.5,324.6 L304.0,324.4 L304.5,324.2 L305.0,324.5 L305.5,324.8 L306.0,325.1 L306.5,325.3 L307.0,325.3 L307.5,325.3 L308.0,325.3 L308.5,325.1 L309.0,325.0 L309.5,324.8 L310.0,324.6 L310.5,324.4 L311.0,324.2 L311.5,324.3 L312.0,324.4 L312.5,324.4 L313.0,324.5 L313.5,324.5 L314.0,324.5 L314.5,324.4 L315.0,324.2 L315.5,324.1 L316.0,324.1 L316.5,324.2 L317.0,324.3 L317.5,324.4 L318.0,324.5 L318.5,324.6 L319.0,324.7 L319.5,324.5 L320.0,324.4 L320.5,324.3 L321.0,324.1 L321.5,324.0 L322.0,323.8 L322.5,323.9 L323.0,323.9 L323.5,324.0 L323.6,324.0 L324.2,314.4 L325.1,328.4 L326.0,324.0 L326.0,324.0 L326.5,323.7 L327.0,323.5 L327.5,323.4 L328.0,323.2 L328.5,323.0 L329.0,323.0 L329.5,323.0 L330.0,322.9 L330.5,322.5 L331.0,322.1 L331.5,321.7 L332.0,321.3 L332.5,321.0 L333.0,320.6 L333.5,320.4 L334.0,320.2 L334.5,320.0 L335.0,320.0 L335.5,320.0 L336.0,320.0 L336.5,319.7 L337.0,319.0 L337.5,318.4 L338.0,318.0 L338.5,318.2 L339.0,318.3 L339.5,318.4 L340.0,318.2 L340.5,318.0 L341.0,317.8 L341.5,317.4 L342.0,317.0 L342.5,316.6 L343.0,316.4 L343.5,316.1 L344.0,315.9 L344.5,315.8 L345.0,315.7 L345.5,315.7 L346.0,315.4 L346.5,314.9 L347.0,314.4 L347.5,313.9 L348.0,313.4 L348.5,312.9 L349.0,312.4 L349.5,312.3 L350.0,312.1 L350.5,311.9 L351.0,311.2 L351.5,310.4 L352.0,309.7 L352.5,309.1 L353.0,308.6 L353.5,308.1 L354.0,307.5 L354.5,306.8 L355.0,306.2 L355.5,305.6 L356.0,304.9 L356.5,304.3 L357.0,303.7 L357.5,303.1 L358.0,302.5 L358.5,301.9 L359.0,301.2 L359.5,300.5 L360.0,299.8 L360.5,299.2 L361.0,298.5 L361.5,297.8 L362.0,297.1 L362.5,296.4 L363.0,295.6 L363.5,294.9 L364.0,294.2 L364.5,293.5 L365.0,292.8 L365.5,291.8 L366.0,290.7 L366.5,289.5 L367.0,288.1 L367.5,286.7 L368.0,286.2 L368.5,285.7 L369.0,284.5 L369.5,282.5 L370.0,280.6 L370.5,279.9 L371.0,279.2 L371.5,278.6 L372.0,277.9 L372.5,277.3 L373.0,275.7 L373.5,274.1 L374.0,273.5 L374.5,273.7 L375.0,273.8 L375.5,272.1 L376.0,270.3 L376.5,269.0 L377.0,267.9 L377.5,266.8 L378.0,266.0 L378.5,265.2 L379.0,264.2 L379.5,263.1 L380.0,262.0 L380.5,261.1 L381.0,260.1 L381.5,259.0 L382.0,257.7 L382.5,256.4 L383.0,255.6 L383.5,254.7 L384.0,253.3 L384.5,251.6 L385.0,249.9 L385.5,248.7 L386.0,247.4 L386.5,245.9 L387.0,244.2 L387.5,242.5 L388.0,241.7 L388.5,240.9 L389.0,239.4 L389.5,237.6 L390.0,235.8 L390.5,234.0 L391.0,232.1 L391.5,231.2 L392.0,230.9 L392.5,230.3 L393.0,228.1 L393.5,225.8 L394.0,224.1 L394.5,222.7 L395.0,221.3 L395.5,220.0 L396.0,218.8 L396.5,217.9 L397.0,217.1 L397.5,216.2 L398.0,214.2 L398.5,212.2 L399.0,211.0 L399.5,210.2 L400.0,209.3 L400.5,208.5 L401.0,207.6 L401.5,206.8 L402.0,206.1 L402.5,205.1 L403.0,203.1 L403.5,201.2 L404.0,199.8 L404.5,198.6 L405.0,197.4 L405.5,195.8 L406.0,194.2 L406.5,193.4 L407.0,193.1 L407.5,192.4 L408.0,190.4 L408.5,188.4 L409.0,187.0 L409.5,185.9 L410.0,184.7 L410.5,183.7 L411.0,182.7 L411.5,181.3 L412.0,179.9 L412.5,178.6 L413.0,177.9 L413.5,177.1 L414.0,175.8 L414.5,174.3 L415.0,173.1 L415.5,172.8 L416.0,172.6 L416.5,171.2 L417.0,169.5 L417.5,168.0 L418.0,166.9 L418.5,166.0 L419.0,165.5 L419.5,165.2 L420.0,164.7 L420.5,163.2 L421.0,161.9 L421.5,161.8 L422.0,162.2 L422.5,162.4 L423.0,162.0 L423.5,161.6 L424.0,160.5 L424.5,159.2 L425.0,158.2 L425.5,158.1 L426.0,158.0 L426.5,157.3 L427.0,156.5 L427.5,155.9 L428.0,155.9 L428.5,156.0 L429.0,155.9 L429.5,155.6 L430.0,155.3 L430.5,155.0 L431.0,154.8 L431.5,155.2 L432.0,155.8 L432.5,156.2 L433.0,156.0 L433.5,155.9 L434.0,156.1 L434.5,156.4 L435.0,156.7 L435.5,157.2 L436.0,157.6 L436.5,157.9 L437.0,158.2 L437.5,158.4 L438.0,158.4 L438.5,158.4 L439.0,158.0 L439.5,157.6 L440.0,157.7 L440.5,158.8 L441.0,160.0 L441.5,160.4 L442.0,160.6 L442.5,161.2 L443.0,162.3 L443.5,163.5 L444.0,163.9 L444.5,164.2 L445.0,164.9 L445.5,166.2 L446.0,167.6 L446.5,168.1 L447.0,168.6 L447.5,169.1 L448.0,169.7 L448.5,170.2 L449.0,171.0 L449.5,171.7 L450.0,172.1 L450.5,172.1 L451.0,172.0 L451.5,173.2 L452.0,174.7 L452.5,175.7 L453.0,176.2 L453.5,176.7 L454.0,177.0 L454.5,177.4 L455.0,178.1 L455.5,179.4 L456.0,180.8 L456.5,181.8 L457.0,182.9 L457.5,184.0 L458.0,185.2 L458.5,186.4 L459.0,187.5 L459.5,188.6 L460.0,189.9 L460.5,191.5 L461.0,193.1 L461.5,194.4 L462.0,195.7 L462.5,196.9 L463.0,198.0 L463.5,199.1 L464.0,200.4 L464.5,201.7 L465.0,203.0 L465.5,204.2 L466.0,205.4 L466.5,206.7 L467.0,208.0 L467.5,209.5 L468.0,211.2 L468.5,212.9 L469.0,213.8 L469.5,214.7 L470.0,215.5 L470.5,216.3 L471.0,217.1 L471.5,218.8 L472.0,220.5 L472.5,222.1 L473.0,223.6 L473.5,225.1 L474.0,226.1 L474.5,227.1 L475.0,228.6 L475.5,230.6 L476.0,232.6 L476.5,233.9 L477.0,235.1 L477.5,236.2 L478.0,237.1 L478.5,237.9 L479.0,239.8 L479.5,241.7 L480.0,243.3 L480.5,244.7 L481.0,246.1 L481.5,247.8 L482.0,249.5 L482.5,250.3 L483.0,250.4 L483.5,250.5 L484.0,252.8 L484.5,255.0 L485.0,256.5 L485.5,257.3 L486.0,258.1 L486.5,258.3 L487.0,258.5 L487.5,259.3 L488.0,260.7 L488.5,262.0 L489.0,262.2 L489.5,262.4 L490.0,262.9 L490.5,263.6 L491.0,264.3 L491.5,265.1 L492.0,265.9 L492.5,266.7 L493.0,267.4 L493.5,268.0 L494.0,268.1 L494.5,268.2 L495.0,268.6 L495.5,269.2 L496.0,269.7 L496.5,270.0 L497.0,270.3 L497.5,270.3 L498.0,270.3 L498.5,270.3 L499.0,271.4 L499.5,272.5 L500.0,272.9 L500.5,272.9 L501.0,272.9 L501.5,272.9 L502.0,272.9 L502.5,273.3 L503.0,273.8 L503.5,274.3 L504.0,274.3 L504.5,274.4 L505.0,274.3 L505.5,274.1 L506.0,274.0 L506.5,274.8 L507.0,275.5 L507.5,275.7 L508.0,275.6 L508.5,275.6 L509.0,276.0 L509.5,276.4 L510.0,276.8 L510.5,277.1 L511.0,277.4 L511.5,277.6 L512.0,277.7 L512.5,278.1 L513.0,278.5 L513.5,278.8 L514.0,278.2 L514.5,277.7 L515.0,277.4 L515.5,277.2 L516.0,277.0 L516.5,276.7 L517.0,276.4 L517.5,276.2 L518.0,276.1 L518.5,276.1 L519.0,276.4 L519.5,276.7 L520.0,276.7 L520.5,276.5 L521.0,276.2 L521.5,275.6 L522.0,275.1 L522.5,274.9 L523.0,274.9 L523.5,274.8 L524.0,274.8 L524.5,274.7 L525.0,275.2 L525.5,275.8 L526.0,276.1 L526.5,275.2 L527.0,274.4 L527.5,274.5 L528.0,275.0 L528.5,275.3 L529.0,274.7 L529.5,274.2 L530.0,274.5 L530.5,275.1 L531.0,275.8 L531.5,276.6 L532.0,277.4 L532.5,277.1 L533.0,276.4 L533.5,276.2 L534.0,277.3 L534.5,278.3 L535.0,278.0 L535.5,277.3 L536.0,276.9 L536.5,277.9 L537.0,278.8 L537.5,279.0 L538.0,279.0 L538.5,279.2 L539.0,280.0 L539.5,280.8 L540.0,281.3 L540.5,281.7 L541.0,282.2 L541.5,283.1 L542.0,284.0 L542.5,284.5 L543.0,284.9 L543.5,285.3 L544.0,285.9 L544.5,286.5 L545.0,286.9 L545.5,287.3 L546.0,287.8 L546.5,288.8 L547.0,289.9 L547.5,290.3 L548.0,290.7 L548.5,291.2 L549.0,292.1 L549.5,293.1 L550.0,294.0 L550.5,294.9 L551.0,295.9 L551.5,297.3 L552.0,298.6 L552.5,300.1 L553.0,301.6 L553.5,302.6 L554.0,302.7 L554.5,302.9 L555.0,304.2 L555.5,305.8 L556.0,306.9 L556.5,306.8 L557.0,306.8 L557.5,307.8 L558.0,308.9 L558.5,310.1 L559.0,311.6 L559.5,313.0 L560.0,314.2 L560.5,315.3 L561.0,316.5 L561.5,317.8 L562.0,319.2 L562.5,320.8 L563.0,322.4 L563.5,323.5 L564.0,324.1 L564.5,324.6 L565.0,325.9 L565.5,327.3 L566.0,328.5 L566.5,329.1 L567.0,329.8 L567.5,329.8 L568.0,329.8 L568.5,330.4 L569.0,331.9 L569.5,333.5 L570.0,334.7 L570.5,335.8 L571.0,337.0 L571.5,338.2 L572.0,339.5 L572.5,340.8 L573.0,342.2 L573.5,343.4 L574.0,344.4 L574.5,345.5 L575.0,347.3 L575.5,349.1 L576.0,350.5 L576.5,351.1 L577.0,351.7 L577.5,353.3 L578.0,354.9 L578.5,356.4 L579.0,357.9 L579.5,359.5 L580.0,360.1 L580.5,360.6 L581.0,361.9 L581.5,364.1 L582.0,366.3 L582.5,367.6 L583.0,369.0 L583.5,370.2 L584.0,371.3 L584.5,372.5 L585.0,374.0 L585.5,375.6 L586.0,377.1 L586.5,378.5 L587.0,379.9 L587.5,381.6 L588.0,383.3 L588.5,385.4 L589.0,387.9 L589.5,390.9 L590.0,394.1 L590.5,397.7 L591.0,401.6" fill="none" stroke="#008000" stroke-width="2.3" stroke-linejoin="round" stroke-linecap="round"/>
<path d="M82.5,205.0 L83.0,192.0 L83.5,180.2 L84.0,169.4 L84.5,160.0 L85.0,151.4 L85.5,143.8 L86.0,138.0 L86.5,133.4 L87.0,129.6 L87.5,128.0 L88.0,128.7 L88.5,130.3 L89.0,132.0 L89.5,133.4 L90.0,134.6 L90.5,136.2 L91.0,138.4 L91.5,142.9 L92.0,152.4 L92.5,157.0 L93.0,160.7 L93.5,163.8 L94.0,166.5 L94.5,169.0 L95.0,171.4 L95.5,173.8 L96.0,176.4 L96.5,179.0 L97.0,181.6 L97.5,184.1 L98.0,186.8 L98.5,189.5 L99.0,192.3 L99.5,195.1 L100.0,197.7 L100.5,200.3 L101.0,203.1 L101.5,205.8 L102.0,208.3 L102.5,210.5 L103.0,212.3 L103.5,213.9 L104.0,215.4 L104.5,216.7 L105.0,218.0 L105.5,219.1 L106.0,220.2 L106.5,221.3 L107.0,222.3 L107.5,223.3 L108.0,224.2 L108.5,225.1 L109.0,225.9 L109.5,226.7 L110.0,227.6 L110.5,228.4 L111.0,229.1 L111.5,229.8 L112.0,230.5 L112.5,231.2 L113.0,231.9 L113.5,232.5 L114.0,233.1 L114.5,233.6 L115.0,234.1 L115.5,234.5 L116.0,234.8 L116.5,235.1 L117.0,235.3 L117.5,235.5 L118.0,235.7 L118.5,236.0 L119.0,236.3 L119.5,236.5 L120.0,236.8 L120.5,237.1 L121.0,237.3 L121.5,237.5 L122.0,237.5 L122.5,237.4 L123.0,237.3 L123.5,237.1 L124.0,237.0 L124.5,236.9 L125.0,236.7 L125.5,236.5 L126.0,236.2 L126.5,235.8 L127.0,235.4 L127.5,235.0 L128.0,234.5 L128.5,233.9 L129.0,233.4 L129.5,232.9 L130.0,232.5 L130.5,232.1 L131.0,231.6 L131.5,231.2 L132.0,230.9 L132.5,230.5 L133.0,230.2 L133.5,229.8 L134.0,229.4 L134.5,229.1 L135.0,228.7 L135.5,228.3 L136.0,227.8 L136.5,227.4 L137.0,227.0 L137.5,226.6 L138.0,226.2 L138.5,225.8 L139.0,225.4 L139.5,225.0 L140.0,224.6 L140.5,224.2 L141.0,223.9 L141.5,223.6 L142.0,223.3 L142.5,223.1 L143.0,222.9 L143.5,222.7 L144.0,222.5 L144.5,222.2 L145.0,222.0 L145.5,221.7 L146.0,221.3 L146.5,220.9 L147.0,220.7 L147.5,220.6 L148.0,220.6 L148.5,220.6 L149.0,220.6 L149.5,220.6 L150.0,220.7 L150.5,220.8 L151.0,221.0 L151.5,221.2 L152.0,221.5 L152.5,221.8 L153.0,222.0 L153.5,222.1 L154.0,222.3 L154.5,222.5 L155.0,223.0 L155.5,223.7 L156.0,224.5 L156.5,225.4 L157.0,226.1 L157.5,226.8 L158.0,227.5 L158.5,228.2 L159.0,229.1 L159.5,230.2 L160.0,231.5 L160.5,232.8 L161.0,234.1 L161.5,235.3 L162.0,236.6 L162.5,238.0 L163.0,239.5 L163.5,241.1 L164.0,242.8 L164.5,244.6 L165.0,246.7 L165.5,248.9 L166.0,251.4 L166.5,253.8 L167.0,256.1 L167.5,258.2 L168.0,260.5 L168.5,262.9 L169.0,265.6 L169.5,268.4 L170.0,271.1 L170.5,274.0 L171.0,276.7 L171.5,279.5 L172.0,282.3 L172.5,284.9 L173.0,287.1 L173.5,289.5 L174.0,292.0 L174.5,295.1 L175.0,299.0 L175.5,302.7 L176.0,305.7 L176.5,308.5 L177.0,311.0 L177.5,313.4 L178.0,315.6 L178.5,317.9 L179.0,320.3 L179.5,322.7 L180.0,325.2 L180.5,327.7 L181.0,330.3 L181.5,333.0 L182.0,335.7 L182.5,338.4 L183.0,341.1 L183.5,343.6 L184.0,345.9 L184.5,347.9 L185.0,349.4 L185.5,350.6 L186.0,351.7 L186.5,352.7 L187.0,353.6 L187.5,354.3 L188.0,354.9 L188.5,355.3 L189.0,355.7 L189.5,356.0 L190.0,356.3 L190.5,356.6 L191.0,356.8 L191.5,356.9 L192.0,357.1 L192.5,357.4 L193.0,357.7 L193.5,358.0 L194.0,358.3 L194.5,358.5 L195.0,358.5 L195.5,358.6 L196.0,358.7 L196.5,358.9 L197.0,359.0 L197.5,359.1 L198.0,359.2 L198.5,359.3 L199.0,359.3 L199.5,359.3 L200.0,359.3 L200.5,359.3 L201.0,359.2 L201.5,359.2 L202.0,359.2 L202.5,359.3 L203.0,359.4 L203.5,359.4 L204.0,359.3 L204.5,359.3 L205.0,359.3 L205.5,359.3 L206.0,359.3 L206.5,359.3 L207.0,359.3 L207.5,359.3 L207.7,359.3 L208.3,357.8 L209.2,360.8 L210.1,358.7 L210.5,358.7 L211.0,358.7 L211.5,358.6 L212.0,358.4 L212.5,358.3 L213.0,358.4 L213.5,358.8 L214.0,359.1 L214.5,359.2 L215.0,358.9 L215.5,358.6 L216.0,358.4 L216.5,358.2 L217.0,357.9 L217.5,357.7 L218.0,357.7 L218.5,357.6 L219.0,357.6 L219.5,357.3 L220.0,357.0 L220.5,356.7 L221.0,356.5 L221.5,356.3 L222.0,356.1 L222.5,355.9 L223.0,355.8 L223.5,355.6 L224.0,355.5 L224.5,355.3 L225.0,355.1 L225.5,354.9 L226.0,354.6 L226.5,354.3 L227.0,354.0 L227.5,353.7 L228.0,353.5 L228.5,353.3 L229.0,353.2 L229.5,353.2 L230.0,353.1 L230.5,353.2 L231.0,353.3 L231.5,353.4 L232.0,353.2 L232.5,352.6 L233.0,352.1 L233.5,351.8 L234.0,351.8 L234.5,351.8 L235.0,351.7 L235.5,351.5 L236.0,351.2 L236.5,351.0 L237.0,350.5 L237.5,350.1 L238.0,349.7 L238.5,349.3 L239.0,348.9 L239.5,348.5 L240.0,348.3 L240.5,348.2 L241.0,348.1 L241.5,348.0 L242.0,347.9 L242.5,347.8 L243.0,347.7 L243.5,347.5 L244.0,347.4 L244.5,347.2 L245.0,346.9 L245.5,346.6 L246.0,346.2 L246.5,346.0 L247.0,345.7 L247.5,345.4 L248.0,345.5 L248.5,345.6 L249.0,345.7 L249.5,345.5 L250.0,345.1 L250.5,344.7 L251.0,344.4 L251.5,344.3 L252.0,344.1 L252.5,343.9 L253.0,343.8 L253.5,343.8 L254.0,343.6 L254.5,343.1 L255.0,342.7 L255.5,342.3 L256.0,342.5 L256.5,342.7 L257.0,342.9 L257.5,342.4 L258.0,341.9 L258.5,341.4 L259.0,341.3 L259.5,341.4 L260.0,341.4 L260.5,341.2 L261.0,340.9 L261.5,340.6 L262.0,340.4 L262.5,340.4 L263.0,340.4 L263.5,340.4 L264.0,340.5 L264.5,340.6 L265.0,340.7 L265.5,340.6 L266.0,340.6 L266.5,340.5 L267.0,340.3 L267.5,340.1 L268.0,339.9 L268.5,339.7 L269.0,339.5 L269.5,339.3 L270.0,339.0 L270.5,338.5 L271.0,338.0 L271.5,337.8 L272.0,338.2 L272.5,338.5 L273.0,338.6 L273.5,338.0 L274.0,337.5 L274.5,337.0 L275.0,336.9 L275.5,336.8 L276.0,336.6 L276.5,336.4 L277.0,336.1 L277.5,335.9 L278.0,335.6 L278.5,335.3 L279.0,335.1 L279.5,334.6 L280.0,334.1 L280.5,333.6 L281.0,333.3 L281.5,333.2 L282.0,333.0 L282.5,332.9 L283.0,332.7 L283.5,332.5 L284.0,332.3 L284.5,331.7 L285.0,331.2 L285.5,330.7 L286.0,330.5 L286.5,330.4 L287.0,330.2 L287.5,329.9 L288.0,329.6 L288.5,329.3 L289.0,329.0 L289.5,328.6 L290.0,328.3 L290.5,328.1 L291.0,328.3 L291.5,328.4 L292.0,328.5 L292.5,328.3 L293.0,328.2 L293.5,328.1 L294.0,328.3 L294.5,328.4 L295.0,328.5 L295.5,328.3 L296.0,328.0 L296.5,327.7 L297.0,327.7 L297.5,327.8 L298.0,327.9 L298.5,327.8 L299.0,327.7 L299.5,327.5 L300.0,327.4 L300.5,327.4 L301.0,327.4 L301.5,327.3 L302.0,326.8 L302.5,326.3 L303.0,325.9 L303.5,326.0 L304.0,326.2 L304.5,326.4 L305.0,326.2 L305.5,326.0 L306.0,325.8 L306.5,325.8 L307.0,325.9 L307.5,326.0 L308.0,325.9 L308.5,325.7 L309.0,325.6 L309.5,325.5 L310.0,325.5 L310.5,325.5 L311.0,325.5 L311.5,325.5 L312.0,325.5 L312.5,325.5 L313.0,325.6 L313.5,325.7 L314.0,325.7 L314.5,325.6 L315.0,325.5 L315.5,325.3 L316.0,325.4 L316.5,325.5 L317.0,325.7 L317.5,325.7 L318.0,325.7 L318.5,325.6 L319.0,325.6 L319.5,325.5 L320.0,325.5 L320.5,325.5 L321.0,325.4 L321.5,325.3 L322.0,325.2 L322.5,325.4 L323.0,325.6 L323.5,325.8 L323.6,325.8 L324.2,313.3 L325.1,329.3 L326.0,325.0 L326.0,325.0 L326.5,324.9 L327.0,324.8 L327.5,324.7 L328.0,324.6 L328.5,324.4 L329.0,324.0 L329.5,323.5 L330.0,323.1 L330.5,323.0 L331.0,322.8 L331.5,322.6 L332.0,322.2 L332.5,321.9 L333.0,321.5 L333.5,321.3 L334.0,321.2 L334.5,321.1 L335.0,320.8 L335.5,320.5 L336.0,320.2 L336.5,319.8 L337.0,319.4 L337.5,319.1 L338.0,318.8 L338.5,318.6 L339.0,318.4 L339.5,318.2 L340.0,318.0 L340.5,317.8 L341.0,317.6 L341.5,317.3 L342.0,316.9 L342.5,316.5 L343.0,316.5 L343.5,316.4 L344.0,316.4 L344.5,316.1 L345.0,315.7 L345.5,315.3 L346.0,314.9 L346.5,314.5 L347.0,314.1 L347.5,313.8 L348.0,313.6 L348.5,313.4 L349.0,313.0 L349.5,312.2 L350.0,311.4 L350.5,310.6 L351.0,310.4 L351.5,310.1 L352.0,309.8 L352.5,309.3 L353.0,308.7 L353.5,308.0 L354.0,307.4 L354.5,306.8 L355.0,306.2 L355.5,305.6 L356.0,305.0 L356.5,304.4 L357.0,303.8 L357.5,303.1 L358.0,302.4 L358.5,301.7 L359.0,300.9 L359.5,300.1 L360.0,299.1 L360.5,298.1 L361.0,297.0 L361.5,295.9 L362.0,294.8 L362.5,293.8 L363.0,293.2 L363.5,292.6 L364.0,291.7 L364.5,290.6 L365.0,289.6 L365.5,288.7 L366.0,287.9 L366.5,286.7 L367.0,285.2 L367.5,283.8 L368.0,283.3 L368.5,282.7 L369.0,282.1 L369.5,281.4 L370.0,280.7 L370.5,279.5 L371.0,278.3 L371.5,277.2 L372.0,276.3 L372.5,275.5 L373.0,275.6 L373.5,275.8 L374.0,275.1 L374.5,273.6 L375.0,272.3 L375.5,271.7 L376.0,271.2 L376.5,270.6 L377.0,269.9 L377.5,269.2 L378.0,268.8 L378.5,268.5 L379.0,267.8 L379.5,266.9 L380.0,266.0 L380.5,265.6 L381.0,265.2 L381.5,263.7 L382.0,261.4 L382.5,259.3 L383.0,258.4 L383.5,257.6 L384.0,256.6 L384.5,255.4 L385.0,254.3 L385.5,253.0 L386.0,251.6 L386.5,250.4 L387.0,249.2 L387.5,247.9 L388.0,246.8 L388.5,245.7 L389.0,244.5 L389.5,243.1 L390.0,241.8 L390.5,240.6 L391.0,239.5 L391.5,237.9 L392.0,236.1 L392.5,234.6 L393.0,233.9 L393.5,233.3 L394.0,232.6 L394.5,231.8 L395.0,230.9 L395.5,229.4 L396.0,227.9 L396.5,227.1 L397.0,226.7 L397.5,226.2 L398.0,224.9 L398.5,223.5 L399.0,222.6 L399.5,221.9 L400.0,221.3 L400.5,220.5 L401.0,219.7 L401.5,218.6 L402.0,217.4 L402.5,216.1 L403.0,214.8 L403.5,213.5 L404.0,212.5 L404.5,211.8 L405.0,210.9 L405.5,210.0 L406.0,209.0 L406.5,208.1 L407.0,207.2 L407.5,206.3 L408.0,205.1 L408.5,204.0 L409.0,203.3 L409.5,203.0 L410.0,202.3 L410.5,200.8 L411.0,199.2 L411.5,197.8 L412.0,196.5 L412.5,195.2 L413.0,194.1 L413.5,193.0 L414.0,192.8 L414.5,193.0 L415.0,192.8 L415.5,191.6 L416.0,190.3 L416.5,188.9 L417.0,187.5 L417.5,186.3 L418.0,185.3 L418.5,184.3 L419.0,184.1 L419.5,184.1 L420.0,183.9 L420.5,183.0 L421.0,182.2 L421.5,181.3 L422.0,180.5 L422.5,179.6 L423.0,178.5 L423.5,177.4 L424.0,177.3 L424.5,177.6 L425.0,177.5 L425.5,176.6 L426.0,175.7 L426.5,174.6 L427.0,173.3 L427.5,172.6 L428.0,173.2 L428.5,173.9 L429.0,173.8 L429.5,173.5 L430.0,173.2 L430.5,173.0 L431.0,172.9 L431.5,172.4 L432.0,171.9 L432.5,171.5 L433.0,171.2 L433.5,170.9 L434.0,171.0 L434.5,171.3 L435.0,171.4 L435.5,171.2 L436.0,171.1 L436.5,171.1 L437.0,171.3 L437.5,171.6 L438.0,172.2 L438.5,172.9 L439.0,172.7 L439.5,172.3 L440.0,172.2 L440.5,172.3 L441.0,172.4 L441.5,172.7 L442.0,172.9 L442.5,173.6 L443.0,175.0 L443.5,176.4 L444.0,176.6 L444.5,176.7 L445.0,177.0 L445.5,177.9 L446.0,178.7 L446.5,179.0 L447.0,179.2 L447.5,179.4 L448.0,179.5 L448.5,179.6 L449.0,180.1 L449.5,180.7 L450.0,181.3 L450.5,182.1 L451.0,182.9 L451.5,183.9 L452.0,184.9 L452.5,185.6 L453.0,185.8 L453.5,185.9 L454.0,186.7 L454.5,187.6 L455.0,188.5 L455.5,189.4 L456.0,190.3 L456.5,191.0 L457.0,191.6 L457.5,192.5 L458.0,193.6 L458.5,194.7 L459.0,195.7 L459.5,196.6 L460.0,197.5 L460.5,198.4 L461.0,199.3 L461.5,199.9 L462.0,200.5 L462.5,201.6 L463.0,203.2 L463.5,204.9 L464.0,205.6 L464.5,206.3 L465.0,207.1 L465.5,208.1 L466.0,209.1 L466.5,210.4 L467.0,211.7 L467.5,212.8 L468.0,213.6 L468.5,214.4 L469.0,215.7 L469.5,217.0 L470.0,217.8 L470.5,217.9 L471.0,218.0 L471.5,220.0 L472.0,222.1 L472.5,223.3 L473.0,223.6 L473.5,224.0 L474.0,225.3 L474.5,226.6 L475.0,227.8 L475.5,229.0 L476.0,230.2 L476.5,231.0 L477.0,231.9 L477.5,232.7 L478.0,233.6 L478.5,234.6 L479.0,236.2 L479.5,237.9 L480.0,239.9 L480.5,242.0 L481.0,244.2 L481.5,245.6 L482.0,246.8 L482.5,247.7 L483.0,248.4 L483.5,249.0 L484.0,249.5 L484.5,250.0 L485.0,250.7 L485.5,251.6 L486.0,252.4 L486.5,252.7 L487.0,252.9 L487.5,253.3 L488.0,253.7 L488.5,254.2 L489.0,255.1 L489.5,256.0 L490.0,256.5 L490.5,256.6 L491.0,256.7 L491.5,256.8 L492.0,256.9 L492.5,257.3 L493.0,257.9 L493.5,258.5 L494.0,258.7 L494.5,258.8 L495.0,259.0 L495.5,259.3 L496.0,259.6 L496.5,259.6 L497.0,259.6 L497.5,260.0 L498.0,260.8 L498.5,261.4 L499.0,261.3 L499.5,261.1 L500.0,261.2 L500.5,261.5 L501.0,261.6 L501.5,260.6 L502.0,259.7 L502.5,260.1 L503.0,261.3 L503.5,262.4 L504.0,262.5 L504.5,262.6 L505.0,263.0 L505.5,263.6 L506.0,264.0 L506.5,263.8 L507.0,263.5 L507.5,263.9 L508.0,264.7 L508.5,265.4 L509.0,265.4 L509.5,265.3 L510.0,265.3 L510.5,265.2 L511.0,265.1 L511.5,264.8 L512.0,264.5 L512.5,264.4 L513.0,264.3 L513.5,264.4 L514.0,265.0 L514.5,265.6 L515.0,265.2 L515.5,264.4 L516.0,263.8 L516.5,264.5 L517.0,265.3 L517.5,265.7 L518.0,266.1 L518.5,266.3 L519.0,265.6 L519.5,264.9 L520.0,265.2 L520.5,265.9 L521.0,266.3 L521.5,265.8 L522.0,265.4 L522.5,264.7 L523.0,263.8 L523.5,263.2 L524.0,263.2 L524.5,263.3 L525.0,263.0 L525.5,262.7 L526.0,262.3 L526.5,261.8 L527.0,261.3 L527.5,262.4 L528.0,264.1 L528.5,265.3 L529.0,264.7 L529.5,264.1 L530.0,264.5 L530.5,265.3 L531.0,266.0 L531.5,266.2 L532.0,266.4 L532.5,266.8 L533.0,267.2 L533.5,267.4 L534.0,266.9 L534.5,266.4 L535.0,267.1 L535.5,268.3 L536.0,269.2 L536.5,269.4 L537.0,269.7 L537.5,269.8 L538.0,270.0 L538.5,270.3 L539.0,271.1 L539.5,271.9 L540.0,272.9 L540.5,274.1 L541.0,274.8 L541.5,274.4 L542.0,274.1 L542.5,274.2 L543.0,274.5 L543.5,275.0 L544.0,276.0 L544.5,277.1 L545.0,278.1 L545.5,279.0 L546.0,280.0 L546.5,281.0 L547.0,282.0 L547.5,282.5 L548.0,282.8 L548.5,283.4 L549.0,284.6 L549.5,285.8 L550.0,287.1 L550.5,288.4 L551.0,289.3 L551.5,289.2 L552.0,289.2 L552.5,290.3 L553.0,291.7 L553.5,292.6 L554.0,292.8 L554.5,292.9 L555.0,293.9 L555.5,295.1 L556.0,296.1 L556.5,296.8 L557.0,297.5 L557.5,298.9 L558.0,300.3 L558.5,301.4 L559.0,301.6 L559.5,302.0 L560.0,303.9 L560.5,306.0 L561.0,307.6 L561.5,308.2 L562.0,308.8 L562.5,310.5 L563.0,312.3 L563.5,313.7 L564.0,314.6 L564.5,315.3 L565.0,316.4 L565.5,317.5 L566.0,318.7 L566.5,319.9 L567.0,321.2 L567.5,322.2 L568.0,323.3 L568.5,324.4 L569.0,325.6 L569.5,326.7 L570.0,327.7 L570.5,328.7 L571.0,330.2 L571.5,332.4 L572.0,334.6 L572.5,335.5 L573.0,336.2 L573.5,337.1 L574.0,338.3 L574.5,339.6 L575.0,341.3 L575.5,343.2 L576.0,345.0 L576.5,346.3 L577.0,347.3 L577.5,348.5 L578.0,349.6 L578.5,350.7 L579.0,351.6 L579.5,352.7 L580.0,353.7 L580.5,354.7 L581.0,355.9 L581.5,357.4 L582.0,359.0 L582.5,360.3 L583.0,361.6 L583.5,362.9 L584.0,364.4 L584.5,366.0 L585.0,367.1 L585.5,368.3 L586.0,369.9 L586.5,372.0 L587.0,374.1 L587.5,375.9 L588.0,377.6 L588.5,379.5 L589.0,381.4 L589.5,383.6 L590.0,386.5 L590.5,390.1 L591.0,394.4 L591.2,396.2" fill="none" stroke="#000080" stroke-width="2.3" stroke-linejoin="round" stroke-linecap="round"/>
<path d="M82.5,206.0 L83.0,193.1 L83.5,181.1 L84.0,170.1 L84.5,160.0 L85.0,150.2 L85.5,141.2 L86.0,135.0 L86.5,130.9 L87.0,127.4 L87.5,124.9 L88.0,124.0 L88.5,124.5 L89.0,125.9 L89.5,127.9 L90.0,130.0 L90.5,133.0 L91.0,136.9 L91.5,140.9 L92.0,144.2 L92.5,146.6 L93.0,148.7 L93.5,150.7 L94.0,152.5 L94.5,154.3 L95.0,156.1 L95.5,158.0 L96.0,160.1 L96.5,162.2 L97.0,164.5 L97.5,166.8 L98.0,169.1 L98.5,171.4 L99.0,173.7 L99.5,175.8 L100.0,177.7 L100.5,179.5 L101.0,181.1 L101.5,182.7 L102.0,184.4 L102.5,186.1 L103.0,187.7 L103.5,189.4 L104.0,191.0 L104.5,192.6 L105.0,194.1 L105.5,195.7 L106.0,197.2 L106.5,198.7 L107.0,200.2 L107.5,201.7 L108.0,203.1 L108.5,204.6 L109.0,206.0 L109.5,207.3 L110.0,208.7 L110.5,210.1 L111.0,211.4 L111.5,212.7 L112.0,213.9 L112.5,215.1 L113.0,216.3 L113.5,217.4 L114.0,218.5 L114.5,219.6 L115.0,220.7 L115.5,221.7 L116.0,222.9 L116.5,224.1 L117.0,225.2 L117.5,226.3 L118.0,227.4 L118.5,228.4 L119.0,229.3 L119.5,230.2 L120.0,230.9 L120.5,231.6 L121.0,232.3 L121.5,232.9 L122.0,233.7 L122.5,234.4 L123.0,235.1 L123.5,235.7 L124.0,236.3 L124.5,236.9 L125.0,237.5 L125.5,238.0 L126.0,238.5 L126.5,238.8 L127.0,239.1 L127.5,239.4 L128.0,239.6 L128.5,239.8 L129.0,240.0 L129.5,240.1 L130.0,240.2 L130.5,240.2 L131.0,240.3 L131.5,240.3 L132.0,240.4 L132.5,240.5 L133.0,240.6 L133.5,240.6 L134.0,240.4 L134.5,240.3 L135.0,240.1 L135.5,240.0 L136.0,239.8 L136.5,239.7 L137.0,239.5 L137.5,239.5 L138.0,239.6 L138.5,239.6 L139.0,239.7 L139.5,239.6 L140.0,239.6 L140.5,239.5 L141.0,239.5 L141.5,239.4 L142.0,239.4 L142.5,239.4 L143.0,239.4 L143.5,239.4 L144.0,239.4 L144.5,239.4 L145.0,239.4 L145.5,239.5 L146.0,239.5 L146.5,239.6 L147.0,239.6 L147.5,239.7 L148.0,239.9 L148.5,240.0 L149.0,240.1 L149.5,240.2 L150.0,240.4 L150.5,240.5 L151.0,240.7 L151.5,241.0 L152.0,241.2 L152.5,241.5 L153.0,241.7 L153.5,242.1 L154.0,242.4 L154.5,242.8 L155.0,243.4 L155.5,244.1 L156.0,244.9 L156.5,245.7 L157.0,246.6 L157.5,247.5 L158.0,248.4 L158.5,249.3 L159.0,250.3 L159.5,251.4 L160.0,252.6 L160.5,253.8 L161.0,255.0 L161.5,256.2 L162.0,257.5 L162.5,258.7 L163.0,259.9 L163.5,261.1 L164.0,262.4 L164.5,263.8 L165.0,265.4 L165.5,267.2 L166.0,269.0 L166.5,270.8 L167.0,272.5 L167.5,274.3 L168.0,276.1 L168.5,277.9 L169.0,279.8 L169.5,281.7 L170.0,283.6 L170.5,285.6 L171.0,287.7 L171.5,289.8 L172.0,292.2 L172.5,294.8 L173.0,297.5 L173.5,300.1 L174.0,302.6 L174.5,304.9 L175.0,307.1 L175.5,309.2 L176.0,311.3 L176.5,313.4 L177.0,315.6 L177.5,317.7 L178.0,319.8 L178.5,322.0 L179.0,324.2 L179.5,326.4 L180.0,328.8 L180.5,331.2 L181.0,333.6 L181.5,336.1 L182.0,338.4 L182.5,340.7 L183.0,342.8 L183.5,344.7 L184.0,346.4 L184.5,347.9 L185.0,349.2 L185.5,350.3 L186.0,351.2 L186.5,352.0 L187.0,352.6 L187.5,353.1 L188.0,353.5 L188.5,353.9 L189.0,354.3 L189.5,354.7 L190.0,355.1 L190.5,355.3 L191.0,355.4 L191.5,355.6 L192.0,355.7 L192.5,355.8 L193.0,356.0 L193.5,356.1 L194.0,356.2 L194.5,356.3 L195.0,356.4 L195.5,356.5 L196.0,356.6 L196.5,356.6 L197.0,356.7 L197.5,356.7 L198.0,356.8 L198.5,356.8 L199.0,356.9 L199.5,356.9 L200.0,356.9 L200.5,356.9 L201.0,356.9 L201.5,356.9 L202.0,356.8 L202.5,356.7 L203.0,356.6 L203.5,356.6 L204.0,356.6 L204.5,356.6 L205.0,356.6 L205.5,356.6 L206.0,356.7 L206.5,356.7 L207.0,356.7 L207.5,356.8 L207.7,356.8 L208.3,355.0 L209.2,358.0 L210.1,356.1 L210.5,356.3 L211.0,356.6 L211.5,356.4 L212.0,356.1 L212.5,355.8 L213.0,355.6 L213.5,355.5 L214.0,355.5 L214.5,355.5 L215.0,355.8 L215.5,356.0 L216.0,356.0 L216.5,355.8 L217.0,355.5 L217.5,355.3 L218.0,355.3 L218.5,355.4 L219.0,355.4 L219.5,355.4 L220.0,355.4 L220.5,355.4 L221.0,355.3 L221.5,355.2 L222.0,355.1 L222.5,354.8 L223.0,354.5 L223.5,354.2 L224.0,354.1 L224.5,354.1 L225.0,354.0 L225.5,354.0 L226.0,353.9 L226.5,353.8 L227.0,353.7 L227.5,353.8 L228.0,353.8 L228.5,353.9 L229.0,353.8 L229.5,353.7 L230.0,353.6 L230.5,353.6 L231.0,353.6 L231.5,353.6 L232.0,353.5 L232.5,353.3 L233.0,353.2 L233.5,353.1 L234.0,353.0 L234.5,353.0 L235.0,352.9 L235.5,352.6 L236.0,352.4 L236.5,352.1 L237.0,352.0 L237.5,351.8 L238.0,351.7 L238.5,351.4 L239.0,351.1 L239.5,350.8 L240.0,350.7 L240.5,350.7 L241.0,350.6 L241.5,350.4 L242.0,350.1 L242.5,349.8 L243.0,349.7 L243.5,349.6 L244.0,349.5 L244.5,349.5 L245.0,349.7 L245.5,349.8 L246.0,349.8 L246.5,349.5 L247.0,349.2 L247.5,348.8 L248.0,348.6 L248.5,348.4 L249.0,348.2 L249.5,348.0 L250.0,347.8 L250.5,347.6 L251.0,347.4 L251.5,347.1 L252.0,346.9 L252.5,346.7 L253.0,346.6 L253.5,346.4 L254.0,346.3 L254.5,346.3 L255.0,346.2 L255.5,346.1 L256.0,345.7 L256.5,345.3 L257.0,344.8 L257.5,344.7 L258.0,344.5 L258.5,344.4 L259.0,344.2 L259.5,344.0 L260.0,343.8 L260.5,343.7 L261.0,343.6 L261.5,343.5 L262.0,343.5 L262.5,343.7 L263.0,344.0 L263.5,344.1 L264.0,343.8 L264.5,343.6 L265.0,343.3 L265.5,343.2 L266.0,343.1 L266.5,343.0 L267.0,342.5 L267.5,341.9 L268.0,341.4 L268.5,341.1 L269.0,341.0 L269.5,340.8 L270.0,340.9 L270.5,341.0 L271.0,341.1 L271.5,341.0 L272.0,340.6 L272.5,340.2 L273.0,339.9 L273.5,339.9 L274.0,339.9 L274.5,339.8 L275.0,339.4 L275.5,339.0 L276.0,338.6 L276.5,338.6 L277.0,338.8 L277.5,338.9 L278.0,338.6 L278.5,338.3 L279.0,337.9 L279.5,337.6 L280.0,337.4 L280.5,337.1 L281.0,337.1 L281.5,337.3 L282.0,337.5 L282.5,337.5 L283.0,337.0 L283.5,336.4 L284.0,335.9 L284.5,335.5 L285.0,335.2 L285.5,334.8 L286.0,334.6 L286.5,334.5 L287.0,334.3 L287.5,334.3 L288.0,334.4 L288.5,334.5 L289.0,334.3 L289.5,333.9 L290.0,333.5 L290.5,333.3 L291.0,333.5 L291.5,333.6 L292.0,333.6 L292.5,333.2 L293.0,332.7 L293.5,332.2 L294.0,332.3 L294.5,332.3 L295.0,332.4 L295.5,332.1 L296.0,331.8 L296.5,331.5 L297.0,331.5 L297.5,331.7 L298.0,331.9 L298.5,331.9 L299.0,331.8 L299.5,331.6 L300.0,331.5 L300.5,331.3 L301.0,331.1 L301.5,330.8 L302.0,330.6 L302.5,330.4 L303.0,330.2 L303.5,330.0 L304.0,329.9 L304.5,329.7 L305.0,329.6 L305.5,329.6 L306.0,329.5 L306.5,329.3 L307.0,329.1 L307.5,328.8 L308.0,328.6 L308.5,328.6 L309.0,328.5 L309.5,328.5 L310.0,328.6 L310.5,328.8 L311.0,328.8 L311.5,328.4 L312.0,328.0 L312.5,327.7 L313.0,327.6 L313.5,327.5 L314.0,327.4 L314.5,327.4 L315.0,327.5 L315.5,327.5 L316.0,327.3 L316.5,327.0 L317.0,326.7 L317.5,326.5 L318.0,326.2 L318.5,326.0 L319.0,325.9 L319.5,325.9 L320.0,325.8 L320.5,325.7 L321.0,325.5 L321.5,325.2 L322.0,325.0 L322.5,324.8 L323.0,324.6 L323.5,324.4 L323.6,324.3 L324.2,310.0 L325.1,328.0 L326.0,323.6 L326.0,323.6 L326.5,323.5 L327.0,323.4 L327.5,323.2 L328.0,323.0 L328.5,322.7 L329.0,321.9 L329.5,321.2 L330.0,320.7 L330.5,321.0 L331.0,321.3 L331.5,321.6 L332.0,321.2 L332.5,320.9 L333.0,320.5 L333.5,320.1 L334.0,319.7 L334.5,319.4 L335.0,319.2 L335.5,319.1 L336.0,319.0 L336.5,318.7 L337.0,318.2 L337.5,317.7 L338.0,317.3 L338.5,317.3 L339.0,317.3 L339.5,317.3 L340.0,317.2 L340.5,317.1 L341.0,317.0 L341.5,316.6 L342.0,316.2 L342.5,315.8 L343.0,315.3 L343.5,314.8 L344.0,314.3 L344.5,314.1 L345.0,314.2 L345.5,314.2 L346.0,313.9 L346.5,313.5 L347.0,313.1 L347.5,312.7 L348.0,312.4 L348.5,312.2 L349.0,311.8 L349.5,311.3 L350.0,310.7 L350.5,310.1 L351.0,309.7 L351.5,309.3 L352.0,308.8 L352.5,308.1 L353.0,307.3 L353.5,306.5 L354.0,305.9 L354.5,305.4 L355.0,304.9 L355.5,304.3 L356.0,303.7 L356.5,303.2 L357.0,302.6 L357.5,302.0 L358.0,301.5 L358.5,301.0 L359.0,300.5 L359.5,300.1 L360.0,299.7 L360.5,299.2 L361.0,298.7 L361.5,298.3 L362.0,298.0 L362.5,297.6 L363.0,297.0 L363.5,296.4 L364.0,296.0 L364.5,295.7 L365.0,295.4 L365.5,294.3 L366.0,293.3 L366.5,292.9 L367.0,293.1 L367.5,293.2 L368.0,292.1 L368.5,291.0 L369.0,290.2 L369.5,289.5 L370.0,288.9 L370.5,288.2 L371.0,287.4 L371.5,287.0 L372.0,286.6 L372.5,286.3 L373.0,285.2 L373.5,284.1 L374.0,283.6 L374.5,283.5 L375.0,283.4 L375.5,282.2 L376.0,281.0 L376.5,280.2 L377.0,279.6 L377.5,279.1 L378.0,278.9 L378.5,278.6 L379.0,278.1 L379.5,277.4 L380.0,276.7 L380.5,275.5 L381.0,274.3 L381.5,273.2 L382.0,272.1 L382.5,271.1 L383.0,270.5 L383.5,270.0 L384.0,269.4 L384.5,268.9 L385.0,268.4 L385.5,267.4 L386.0,266.5 L386.5,265.8 L387.0,265.3 L387.5,264.7 L388.0,264.3 L388.5,263.8 L389.0,262.5 L389.5,260.7 L390.0,259.0 L390.5,258.8 L391.0,258.4 L391.5,257.6 L392.0,256.4 L392.5,254.9 L393.0,253.0 L393.5,251.1 L394.0,249.4 L394.5,248.0 L395.0,246.6 L395.5,244.6 L396.0,242.7 L396.5,241.4 L397.0,240.4 L397.5,239.4 L398.0,238.4 L398.5,237.4 L399.0,236.9 L399.5,236.7 L400.0,236.3 L400.5,234.3 L401.0,232.4 L401.5,231.4 L402.0,230.9 L402.5,230.4 L403.0,230.0 L403.5,229.6 L404.0,228.9 L404.5,228.0 L405.0,227.0 L405.5,225.6 L406.0,224.2 L406.5,223.5 L407.0,223.1 L407.5,222.4 L408.0,220.8 L408.5,219.1 L409.0,218.4 L409.5,218.1 L410.0,217.7 L410.5,216.5 L411.0,215.4 L411.5,214.1 L412.0,212.8 L412.5,211.7 L413.0,210.8 L413.5,210.0 L414.0,209.6 L414.5,209.5 L415.0,209.1 L415.5,208.3 L416.0,207.4 L416.5,206.6 L417.0,205.9 L417.5,205.2 L418.0,204.8 L418.5,204.3 L419.0,203.7 L419.5,203.2 L420.0,202.6 L420.5,201.4 L421.0,200.5 L421.5,199.8 L422.0,199.4 L422.5,199.0 L423.0,198.7 L423.5,198.5 L424.0,198.8 L424.5,199.3 L425.0,199.3 L425.5,198.3 L426.0,197.3 L426.5,196.8 L427.0,196.5 L427.5,196.4 L428.0,196.7 L428.5,196.9 L429.0,196.7 L429.5,196.2 L430.0,195.9 L430.5,196.0 L431.0,196.1 L431.5,195.7 L432.0,195.2 L432.5,194.8 L433.0,194.3 L433.5,193.8 L434.0,194.2 L434.5,194.8 L435.0,194.9 L435.5,194.1 L436.0,193.2 L436.5,193.6 L437.0,194.3 L437.5,194.6 L438.0,194.3 L438.5,194.0 L439.0,194.3 L439.5,194.8 L440.0,195.0 L440.5,194.5 L441.0,194.1 L441.5,194.2 L442.0,194.4 L442.5,194.5 L443.0,194.2 L443.5,194.0 L444.0,194.2 L444.5,194.5 L445.0,194.9 L445.5,195.4 L446.0,195.9 L446.5,196.1 L447.0,196.2 L447.5,196.6 L448.0,197.1 L448.5,197.7 L449.0,198.6 L449.5,199.6 L450.0,200.1 L450.5,200.0 L451.0,199.8 L451.5,200.9 L452.0,202.0 L452.5,202.6 L453.0,202.1 L453.5,201.7 L454.0,201.5 L454.5,201.4 L455.0,201.5 L455.5,201.8 L456.0,202.2 L456.5,203.7 L457.0,205.4 L457.5,206.4 L458.0,206.5 L458.5,206.7 L459.0,207.2 L459.5,207.8 L460.0,208.9 L460.5,210.7 L461.0,212.4 L461.5,212.7 L462.0,212.8 L462.5,213.1 L463.0,213.8 L463.5,214.5 L464.0,215.7 L464.5,216.9 L465.0,217.7 L465.5,218.2 L466.0,218.7 L466.5,219.5 L467.0,220.4 L467.5,221.1 L468.0,221.7 L468.5,222.3 L469.0,222.7 L469.5,223.0 L470.0,223.4 L470.5,223.9 L471.0,224.5 L471.5,225.7 L472.0,226.9 L472.5,227.8 L473.0,228.2 L473.5,228.7 L474.0,229.1 L474.5,229.5 L475.0,229.5 L475.5,229.2 L476.0,228.9 L476.5,230.1 L477.0,231.4 L477.5,232.4 L478.0,233.2 L478.5,234.0 L479.0,235.1 L479.5,236.3 L480.0,237.1 L480.5,237.6 L481.0,238.2 L481.5,239.7 L482.0,241.4 L482.5,242.2 L483.0,242.2 L483.5,242.2 L484.0,243.8 L484.5,245.3 L485.0,246.4 L485.5,247.2 L486.0,247.7 L486.5,247.4 L487.0,247.1 L487.5,247.2 L488.0,247.9 L488.5,248.5 L489.0,248.7 L489.5,249.0 L490.0,249.1 L490.5,249.3 L491.0,249.4 L491.5,249.6 L492.0,249.8 L492.5,249.4 L493.0,248.6 L493.5,247.8 L494.0,248.0 L494.5,248.3 L495.0,248.6 L495.5,249.0 L496.0,249.4 L496.5,249.5 L497.0,249.7 L497.5,249.6 L498.0,249.2 L498.5,248.9 L499.0,249.1 L499.5,249.2 L500.0,249.3 L500.5,249.5 L501.0,249.6 L501.5,250.1 L502.0,250.5 L502.5,250.6 L503.0,250.5 L503.5,250.4 L504.0,250.6 L504.5,250.9 L505.0,250.8 L505.5,250.6 L506.0,250.6 L506.5,251.4 L507.0,252.2 L507.5,251.8 L508.0,250.7 L508.5,249.8 L509.0,249.8 L509.5,249.8 L510.0,249.8 L510.5,249.7 L511.0,249.6 L511.5,250.0 L512.0,250.3 L512.5,250.6 L513.0,250.8 L513.5,250.9 L514.0,250.1 L514.5,249.3 L515.0,249.0 L515.5,249.0 L516.0,249.1 L516.5,249.5 L517.0,249.8 L517.5,249.6 L518.0,249.0 L518.5,248.5 L519.0,248.6 L519.5,248.7 L520.0,248.2 L520.5,247.4 L521.0,247.0 L521.5,248.1 L522.0,249.2 L522.5,249.4 L523.0,249.1 L523.5,249.0 L524.0,249.7 L524.5,250.3 L525.0,250.3 L525.5,250.1 L526.0,249.9 L526.5,249.7 L527.0,249.4 L527.5,249.7 L528.0,250.2 L528.5,250.6 L529.0,250.8 L529.5,251.0 L530.0,251.2 L530.5,251.4 L531.0,251.6 L531.5,251.9 L532.0,252.2 L532.5,252.5 L533.0,253.0 L533.5,253.4 L534.0,253.8 L534.5,254.1 L535.0,254.5 L535.5,254.9 L536.0,255.3 L536.5,255.9 L537.0,256.6 L537.5,257.0 L538.0,257.4 L538.5,257.8 L539.0,258.4 L539.5,259.0 L540.0,259.5 L540.5,260.0 L541.0,260.6 L541.5,261.0 L542.0,261.4 L542.5,261.9 L543.0,262.5 L543.5,263.2 L544.0,264.1 L544.5,265.0 L545.0,265.6 L545.5,266.1 L546.0,266.9 L546.5,268.2 L547.0,269.5 L547.5,270.2 L548.0,270.7 L548.5,271.1 L549.0,271.3 L549.5,271.6 L550.0,272.9 L550.5,274.5 L551.0,275.9 L551.5,276.7 L552.0,277.5 L552.5,278.8 L553.0,280.1 L553.5,281.3 L554.0,282.1 L554.5,283.0 L555.0,284.3 L555.5,285.6 L556.0,286.9 L556.5,288.0 L557.0,289.1 L557.5,289.7 L558.0,290.2 L558.5,291.0 L559.0,292.6 L559.5,294.2 L560.0,294.9 L560.5,295.4 L561.0,296.0 L561.5,296.8 L562.0,297.7 L562.5,298.9 L563.0,300.2 L563.5,301.6 L564.0,302.9 L564.5,304.3 L565.0,305.2 L565.5,306.0 L566.0,307.5 L566.5,310.1 L567.0,312.7 L567.5,314.0 L568.0,315.1 L568.5,316.0 L569.0,316.6 L569.5,317.3 L570.0,318.5 L570.5,319.9 L571.0,321.3 L571.5,322.9 L572.0,324.6 L572.5,325.2 L573.0,325.7 L573.5,326.5 L574.0,327.8 L574.5,329.2 L575.0,331.1 L575.5,333.1 L576.0,335.1 L576.5,336.6 L577.0,338.3 L577.5,339.3 L578.0,340.1 L578.5,341.6 L579.0,343.8 L579.5,345.9 L580.0,347.5 L580.5,349.0 L581.0,350.1 L581.5,350.9 L582.0,351.6 L582.5,352.7 L583.0,353.9 L583.5,354.9 L584.0,355.5 L584.5,356.1 L585.0,358.2 L585.5,360.5 L586.0,362.1 L586.5,362.7 L587.0,363.4 L587.5,364.9 L588.0,366.6 L588.5,368.5 L589.0,371.0 L589.5,373.8 L590.0,377.0 L590.5,381.6 L591.0,387.9 L591.3,393.8" fill="none" stroke="#8000ff" stroke-width="2.3" stroke-linejoin="round" stroke-linecap="round"/>
<path d="M82.5,207.0 L83.0,192.6 L83.5,179.5 L84.0,167.9 L84.5,158.0 L85.0,149.3 L85.5,141.4 L86.0,134.8 L86.5,130.0 L87.0,126.4 L87.5,123.2 L88.0,120.9 L88.5,120.0 L89.0,120.4 L89.5,121.5 L90.0,123.1 L90.5,125.0 L91.0,127.0 L91.5,129.7 L92.0,133.3 L92.5,137.0 L93.0,140.0 L93.5,142.2 L94.0,144.2 L94.5,145.9 L95.0,147.4 L95.5,149.0 L96.0,150.6 L96.5,152.2 L97.0,154.1 L97.5,156.2 L98.0,158.6 L98.5,161.2 L99.0,163.8 L99.5,166.5 L100.0,169.0 L100.5,171.4 L101.0,173.6 L101.5,175.5 L102.0,177.4 L102.5,179.3 L103.0,181.0 L103.5,182.7 L104.0,184.3 L104.5,185.8 L105.0,187.3 L105.5,188.8 L106.0,190.4 L106.5,192.0 L107.0,193.7 L107.5,195.3 L108.0,196.8 L108.5,198.4 L109.0,199.9 L109.5,201.3 L110.0,202.6 L110.5,203.8 L111.0,205.0 L111.5,206.1 L112.0,207.6 L112.5,209.0 L113.0,210.4 L113.5,211.9 L114.0,213.0 L114.5,214.0 L115.0,215.1 L115.5,216.2 L116.0,217.3 L116.5,218.5 L117.0,219.7 L117.5,220.9 L118.0,222.2 L118.5,223.4 L119.0,224.7 L119.5,225.9 L120.0,227.0 L120.5,228.1 L121.0,229.1 L121.5,230.0 L122.0,231.0 L122.5,232.1 L123.0,233.1 L123.5,234.2 L124.0,235.3 L124.5,236.3 L125.0,237.4 L125.5,238.3 L126.0,238.9 L126.5,239.5 L127.0,240.1 L127.5,240.7 L128.0,241.5 L128.5,242.2 L129.0,242.8 L129.5,243.3 L130.0,243.7 L130.5,244.0 L131.0,244.3 L131.5,244.3 L132.0,244.3 L132.5,244.3 L133.0,244.3 L133.5,244.3 L134.0,244.3 L134.5,244.2 L135.0,244.2 L135.5,244.3 L136.0,244.4 L136.5,244.5 L137.0,244.7 L137.5,244.7 L138.0,244.8 L138.5,244.9 L139.0,244.9 L139.5,245.1 L140.0,245.2 L140.5,245.4 L141.0,245.6 L141.5,245.8 L142.0,246.0 L142.5,246.2 L143.0,246.4 L143.5,246.8 L144.0,247.2 L144.5,247.7 L145.0,248.1 L145.5,248.4 L146.0,248.6 L146.5,248.9 L147.0,249.3 L147.5,249.8 L148.0,250.4 L148.5,250.9 L149.0,251.4 L149.5,251.8 L150.0,252.0 L150.5,252.3 L151.0,252.5 L151.5,252.7 L152.0,252.9 L152.5,253.1 L153.0,253.4 L153.5,253.9 L154.0,254.5 L154.5,255.2 L155.0,255.8 L155.5,256.3 L156.0,256.9 L156.5,257.6 L157.0,258.3 L157.5,259.1 L158.0,259.9 L158.5,260.8 L159.0,261.6 L159.5,262.4 L160.0,263.3 L160.5,264.2 L161.0,265.1 L161.5,266.1 L162.0,267.2 L162.5,268.3 L163.0,269.5 L163.5,270.9 L164.0,272.5 L164.5,274.1 L165.0,275.8 L165.5,277.5 L166.0,279.0 L166.5,280.6 L167.0,281.9 L167.5,283.2 L168.0,284.6 L168.5,286.0 L169.0,287.7 L169.5,289.4 L170.0,291.1 L170.5,293.0 L171.0,294.9 L171.5,297.0 L172.0,299.5 L172.5,301.9 L173.0,304.2 L173.5,306.2 L174.0,308.2 L174.5,310.1 L175.0,312.1 L175.5,314.0 L176.0,315.8 L176.5,317.6 L177.0,319.2 L177.5,320.8 L178.0,322.4 L178.5,324.1 L179.0,326.1 L179.5,328.3 L180.0,330.6 L180.5,332.9 L181.0,335.0 L181.5,337.1 L182.0,339.2 L182.5,341.3 L183.0,343.3 L183.5,345.2 L184.0,346.8 L184.5,348.2 L185.0,349.3 L185.5,350.1 L186.0,350.8 L186.5,351.5 L187.0,352.1 L187.5,352.7 L188.0,353.2 L188.5,353.6 L189.0,354.0 L189.5,354.4 L190.0,354.7 L190.5,354.9 L191.0,355.0 L191.5,355.1 L192.0,355.1 L192.5,355.2 L193.0,355.4 L193.5,355.5 L194.0,355.6 L194.5,355.7 L195.0,355.7 L195.5,355.8 L196.0,355.8 L196.5,355.9 L197.0,355.9 L197.5,356.0 L198.0,356.0 L198.5,356.0 L199.0,356.1 L199.5,356.1 L200.0,356.1 L200.5,356.1 L201.0,356.1 L201.5,356.2 L202.0,356.2 L202.5,356.2 L203.0,356.2 L203.5,356.1 L204.0,356.0 L204.5,355.9 L205.0,355.9 L205.5,356.0 L206.0,356.1 L206.5,356.2 L207.0,356.2 L207.5,356.3 L207.7,356.3 L208.3,354.5 L209.2,357.5 L210.1,356.2 L210.5,356.2 L211.0,356.3 L211.5,356.1 L212.0,356.0 L212.5,355.8 L213.0,355.8 L213.5,355.9 L214.0,356.0 L214.5,356.0 L215.0,356.0 L215.5,355.9 L216.0,355.9 L216.5,355.7 L217.0,355.5 L217.5,355.3 L218.0,355.4 L218.5,355.4 L219.0,355.4 L219.5,355.3 L220.0,355.2 L220.5,355.1 L221.0,355.1 L221.5,355.2 L222.0,355.3 L222.5,355.3 L223.0,355.2 L223.5,355.1 L224.0,355.1 L224.5,355.1 L225.0,355.1 L225.5,355.0 L226.0,355.0 L226.5,354.9 L227.0,354.9 L227.5,354.8 L228.0,354.7 L228.5,354.6 L229.0,354.6 L229.5,354.7 L230.0,354.8 L230.5,354.7 L231.0,354.4 L231.5,354.2 L232.0,354.1 L232.5,354.2 L233.0,354.3 L233.5,354.2 L234.0,353.9 L234.5,353.5 L235.0,353.3 L235.5,353.4 L236.0,353.5 L236.5,353.6 L237.0,353.7 L237.5,353.9 L238.0,354.0 L238.5,353.8 L239.0,353.6 L239.5,353.4 L240.0,353.3 L240.5,353.3 L241.0,353.2 L241.5,353.1 L242.0,352.8 L242.5,352.5 L243.0,352.3 L243.5,352.1 L244.0,351.9 L244.5,351.8 L245.0,351.7 L245.5,351.6 L246.0,351.6 L246.5,351.6 L247.0,351.6 L247.5,351.6 L248.0,351.4 L248.5,351.2 L249.0,351.0 L249.5,351.1 L250.0,351.2 L250.5,351.4 L251.0,351.4 L251.5,351.2 L252.0,351.1 L252.5,350.9 L253.0,350.7 L253.5,350.4 L254.0,350.1 L254.5,349.8 L255.0,349.4 L255.5,349.1 L256.0,349.1 L256.5,349.1 L257.0,349.1 L257.5,348.9 L258.0,348.7 L258.5,348.5 L259.0,348.3 L259.5,348.2 L260.0,348.0 L260.5,347.9 L261.0,347.8 L261.5,347.8 L262.0,347.7 L262.5,347.6 L263.0,347.5 L263.5,347.4 L264.0,347.3 L264.5,347.2 L265.0,347.0 L265.5,347.0 L266.0,346.9 L266.5,346.8 L267.0,346.6 L267.5,346.2 L268.0,345.9 L268.5,345.9 L269.0,346.0 L269.5,346.1 L270.0,346.1 L270.5,346.1 L271.0,346.2 L271.5,346.1 L272.0,346.0 L272.5,345.8 L273.0,345.6 L273.5,345.2 L274.0,344.9 L274.5,344.5 L275.0,344.5 L275.5,344.6 L276.0,344.6 L276.5,344.4 L277.0,344.2 L277.5,344.0 L278.0,343.7 L278.5,343.4 L279.0,343.0 L279.5,342.9 L280.0,342.9 L280.5,342.8 L281.0,342.8 L281.5,342.6 L282.0,342.5 L282.5,342.3 L283.0,342.0 L283.5,341.8 L284.0,341.6 L284.5,341.6 L285.0,341.6 L285.5,341.6 L286.0,341.2 L286.5,340.7 L287.0,340.2 L287.5,340.0 L288.0,340.0 L288.5,339.9 L289.0,339.8 L289.5,339.6 L290.0,339.5 L290.5,339.3 L291.0,339.1 L291.5,339.0 L292.0,338.7 L292.5,338.5 L293.0,338.2 L293.5,337.9 L294.0,337.8 L294.5,337.8 L295.0,337.7 L295.5,337.5 L296.0,337.3 L296.5,337.1 L297.0,337.1 L297.5,337.2 L298.0,337.3 L298.5,337.1 L299.0,336.8 L299.5,336.5 L300.0,336.2 L300.5,335.8 L301.0,335.4 L301.5,335.2 L302.0,335.1 L302.5,335.1 L303.0,335.1 L303.5,334.6 L304.0,334.1 L304.5,333.6 L305.0,333.5 L305.5,333.5 L306.0,333.4 L306.5,333.4 L307.0,333.4 L307.5,333.3 L308.0,333.0 L308.5,332.3 L309.0,331.7 L309.5,331.4 L310.0,331.5 L310.5,331.7 L311.0,331.8 L311.5,331.5 L312.0,331.2 L312.5,330.9 L313.0,330.6 L313.5,330.2 L314.0,329.9 L314.5,329.8 L315.0,329.8 L315.5,329.7 L316.0,329.4 L316.5,328.9 L317.0,328.5 L317.5,328.3 L318.0,328.3 L318.5,328.4 L319.0,328.3 L319.5,327.9 L320.0,327.6 L320.5,327.3 L321.0,327.2 L321.5,327.1 L322.0,327.0 L322.5,326.6 L323.0,326.1 L323.5,325.6 L323.6,325.6 L324.2,308.7 L325.1,329.7 L326.0,325.2 L326.0,325.2 L326.5,325.1 L327.0,324.7 L327.5,324.3 L328.0,323.9 L328.5,323.6 L329.0,323.7 L329.5,323.9 L330.0,323.8 L330.5,323.3 L331.0,322.7 L331.5,322.2 L332.0,322.4 L332.5,322.6 L333.0,322.8 L333.5,322.6 L334.0,322.3 L334.5,322.1 L335.0,321.6 L335.5,321.1 L336.0,320.5 L336.5,320.2 L337.0,320.3 L337.5,320.4 L338.0,320.3 L338.5,319.9 L339.0,319.5 L339.5,319.1 L340.0,318.9 L340.5,318.6 L341.0,318.4 L341.5,318.1 L342.0,317.9 L342.5,317.6 L343.0,317.1 L343.5,316.6 L344.0,316.0 L344.5,315.8 L345.0,315.7 L345.5,315.5 L346.0,315.3 L346.5,314.9 L347.0,314.5 L347.5,314.1 L348.0,313.8 L348.5,313.4 L349.0,313.0 L349.5,312.2 L350.0,311.4 L350.5,310.6 L351.0,310.4 L351.5,310.1 L352.0,309.9 L352.5,309.5 L353.0,309.2 L353.5,308.8 L354.0,308.1 L354.5,307.4 L355.0,306.7 L355.5,306.1 L356.0,305.6 L356.5,305.2 L357.0,304.7 L357.5,304.1 L358.0,303.6 L358.5,303.0 L359.0,302.4 L359.5,301.8 L360.0,301.2 L360.5,300.6 L361.0,300.0 L361.5,299.3 L362.0,298.4 L362.5,297.4 L363.0,297.1 L363.5,296.8 L364.0,296.3 L364.5,295.4 L365.0,294.6 L365.5,294.0 L366.0,293.4 L366.5,292.7 L367.0,291.9 L367.5,291.1 L368.0,290.4 L368.5,289.7 L369.0,289.2 L369.5,289.0 L370.0,288.7 L370.5,288.0 L371.0,287.2 L371.5,286.4 L372.0,285.4 L372.5,284.5 L373.0,283.4 L373.5,282.3 L374.0,281.9 L374.5,281.9 L375.0,281.9 L375.5,281.3 L376.0,280.8 L376.5,280.5 L377.0,280.4 L377.5,280.2 L378.0,278.6 L378.5,277.1 L379.0,276.3 L379.5,276.0 L380.0,275.6 L380.5,274.9 L381.0,274.1 L381.5,273.0 L382.0,271.5 L382.5,270.3 L383.0,270.4 L383.5,270.5 L384.0,270.4 L384.5,270.3 L385.0,270.1 L385.5,269.2 L386.0,268.3 L386.5,268.2 L387.0,268.6 L387.5,268.8 L388.0,268.1 L388.5,267.3 L389.0,266.7 L389.5,266.2 L390.0,265.7 L390.5,265.8 L391.0,266.0 L391.5,265.4 L392.0,264.4 L392.5,263.5 L393.0,263.3 L393.5,263.1 L394.0,262.4 L394.5,261.5 L395.0,260.5 L395.5,259.8 L396.0,259.1 L396.5,258.1 L397.0,256.9 L397.5,255.7 L398.0,255.1 L398.5,254.5 L399.0,253.8 L399.5,253.0 L400.0,252.2 L400.5,251.3 L401.0,250.4 L401.5,249.6 L402.0,248.9 L402.5,248.3 L403.0,247.8 L403.5,247.3 L404.0,246.1 L404.5,244.6 L405.0,243.2 L405.5,242.1 L406.0,241.0 L406.5,240.4 L407.0,240.0 L407.5,239.5 L408.0,238.2 L408.5,236.9 L409.0,236.4 L409.5,236.3 L410.0,235.8 L410.5,234.3 L411.0,232.8 L411.5,231.7 L412.0,230.8 L412.5,230.0 L413.0,229.5 L413.5,229.1 L414.0,228.1 L414.5,226.8 L415.0,225.7 L415.5,225.1 L416.0,224.5 L416.5,224.1 L417.0,223.7 L417.5,223.1 L418.0,221.4 L418.5,219.8 L419.0,219.4 L419.5,219.4 L420.0,219.1 L420.5,218.2 L421.0,217.2 L421.5,216.6 L422.0,216.1 L422.5,215.7 L423.0,215.4 L423.5,215.2 L424.0,214.5 L424.5,213.8 L425.0,213.1 L425.5,212.7 L426.0,212.2 L426.5,211.4 L427.0,210.4 L427.5,209.8 L428.0,210.0 L428.5,210.1 L429.0,209.6 L429.5,208.9 L430.0,208.1 L430.5,207.1 L431.0,206.0 L431.5,206.5 L432.0,207.3 L432.5,207.6 L433.0,206.5 L433.5,205.4 L434.0,205.8 L434.5,206.4 L435.0,206.6 L435.5,205.8 L436.0,205.0 L436.5,205.2 L437.0,205.7 L437.5,206.1 L438.0,206.3 L438.5,206.6 L439.0,206.3 L439.5,205.9 L440.0,205.7 L440.5,206.0 L441.0,206.2 L441.5,206.4 L442.0,206.6 L442.5,206.5 L443.0,205.7 L443.5,205.0 L444.0,206.1 L444.5,207.4 L445.0,208.2 L445.5,207.7 L446.0,207.2 L446.5,207.5 L447.0,208.0 L447.5,208.3 L448.0,208.5 L448.5,208.7 L449.0,209.2 L449.5,209.8 L450.0,210.1 L450.5,210.2 L451.0,210.2 L451.5,210.1 L452.0,210.0 L452.5,210.4 L453.0,211.5 L453.5,212.6 L454.0,212.1 L454.5,211.4 L455.0,211.6 L455.5,213.2 L456.0,214.7 L456.5,214.4 L457.0,213.9 L457.5,214.3 L458.0,215.7 L458.5,217.1 L459.0,217.5 L459.5,217.8 L460.0,218.2 L460.5,218.5 L461.0,218.8 L461.5,219.2 L462.0,219.5 L462.5,220.0 L463.0,220.7 L463.5,221.4 L464.0,221.6 L464.5,221.8 L465.0,222.3 L465.5,223.2 L466.0,224.2 L466.5,224.5 L467.0,224.9 L467.5,225.3 L468.0,225.9 L468.5,226.4 L469.0,226.2 L469.5,225.9 L470.0,226.0 L470.5,226.5 L471.0,227.0 L471.5,227.5 L472.0,227.9 L472.5,228.1 L473.0,228.1 L473.5,228.0 L474.0,228.7 L474.5,229.4 L475.0,230.2 L475.5,231.3 L476.0,232.3 L476.5,233.1 L477.0,234.0 L477.5,234.4 L478.0,234.3 L478.5,234.3 L479.0,234.8 L479.5,235.4 L480.0,236.5 L480.5,238.2 L481.0,240.0 L481.5,240.0 L482.0,239.9 L482.5,241.0 L483.0,243.0 L483.5,244.9 L484.0,244.8 L484.5,244.7 L485.0,245.2 L485.5,246.4 L486.0,247.3 L486.5,247.3 L487.0,247.3 L487.5,247.5 L488.0,247.8 L488.5,248.2 L489.0,248.1 L489.5,248.1 L490.0,248.0 L490.5,247.9 L491.0,247.8 L491.5,247.9 L492.0,248.1 L492.5,248.1 L493.0,248.1 L493.5,248.1 L494.0,248.7 L494.5,249.3 L495.0,249.2 L495.5,248.6 L496.0,248.1 L496.5,248.8 L497.0,249.6 L497.5,249.7 L498.0,249.3 L498.5,249.0 L499.0,248.7 L499.5,248.4 L500.0,248.9 L500.5,249.8 L501.0,250.5 L501.5,249.7 L502.0,248.9 L502.5,248.6 L503.0,248.7 L503.5,248.7 L504.0,249.1 L504.5,249.5 L505.0,249.8 L505.5,249.9 L506.0,250.0 L506.5,250.3 L507.0,250.6 L507.5,250.7 L508.0,250.6 L508.5,250.5 L509.0,249.8 L509.5,249.1 L510.0,248.8 L510.5,248.8 L511.0,248.8 L511.5,248.5 L512.0,248.3 L512.5,247.8 L513.0,247.1 L513.5,246.7 L514.0,247.1 L514.5,247.6 L515.0,247.4 L515.5,246.8 L516.0,246.5 L516.5,247.1 L517.0,247.7 L517.5,247.7 L518.0,247.4 L518.5,247.3 L519.0,247.4 L519.5,247.6 L520.0,247.9 L520.5,248.4 L521.0,248.8 L521.5,248.8 L522.0,248.8 L522.5,249.0 L523.0,249.4 L523.5,249.5 L524.0,248.7 L524.5,247.8 L525.0,248.1 L525.5,248.8 L526.0,249.5 L526.5,249.9 L527.0,250.4 L527.5,250.0 L528.0,249.3 L528.5,248.8 L529.0,249.1 L529.5,249.3 L530.0,249.7 L530.5,250.1 L531.0,250.5 L531.5,251.0 L532.0,251.6 L532.5,251.6 L533.0,251.4 L533.5,251.6 L534.0,252.6 L534.5,253.6 L535.0,253.8 L535.5,253.8 L536.0,253.6 L536.5,253.3 L537.0,252.9 L537.5,254.1 L538.0,255.8 L538.5,257.1 L539.0,257.5 L539.5,258.0 L540.0,258.5 L540.5,259.2 L541.0,259.9 L541.5,261.0 L542.0,262.1 L542.5,262.4 L543.0,262.4 L543.5,262.6 L544.0,263.2 L544.5,263.8 L545.0,264.7 L545.5,265.7 L546.0,266.4 L546.5,266.8 L547.0,267.2 L547.5,268.2 L548.0,269.3 L548.5,270.3 L549.0,271.1 L549.5,272.0 L550.0,273.2 L550.5,274.5 L551.0,275.7 L551.5,276.5 L552.0,277.3 L552.5,278.5 L553.0,279.6 L553.5,280.8 L554.0,281.7 L554.5,282.7 L555.0,284.6 L555.5,286.8 L556.0,288.4 L556.5,289.0 L557.0,289.7 L557.5,290.7 L558.0,291.8 L558.5,292.9 L559.0,294.0 L559.5,295.1 L560.0,296.0 L560.5,296.8 L561.0,297.5 L561.5,298.2 L562.0,298.9 L562.5,299.9 L563.0,301.0 L563.5,302.5 L564.0,304.6 L564.5,306.8 L565.0,307.3 L565.5,307.5 L566.0,308.3 L566.5,309.9 L567.0,311.6 L567.5,313.4 L568.0,315.2 L568.5,316.7 L569.0,317.6 L569.5,318.6 L570.0,319.8 L570.5,321.1 L571.0,322.0 L571.5,322.2 L572.0,322.5 L572.5,323.8 L573.0,325.1 L573.5,326.6 L574.0,328.2 L574.5,329.9 L575.0,330.9 L575.5,332.0 L576.0,334.0 L576.5,336.8 L577.0,339.6 L577.5,340.6 L578.0,341.4 L578.5,342.5 L579.0,343.9 L579.5,345.3 L580.0,347.0 L580.5,348.5 L581.0,349.8 L581.5,351.1 L582.0,352.2 L582.5,353.5 L583.0,355.0 L583.5,356.1 L584.0,356.9 L584.5,357.6 L585.0,358.6 L585.5,359.7 L586.0,361.1 L586.5,362.9 L587.0,364.8 L587.5,366.5 L588.0,368.3 L588.5,370.3 L589.0,372.4 L589.5,374.9 L590.0,378.2 L590.5,382.5 L591.0,388.3 L591.3,394.2" fill="none" stroke="#800080" stroke-width="2.3" stroke-linejoin="round" stroke-linecap="round"/>
<path d="M82.5,208.0 L83.0,194.1 L83.5,181.3 L84.0,170.0 L84.5,159.7 L85.0,150.0 L85.5,141.6 L86.0,135.0 L86.5,129.5 L87.0,124.4 L87.5,120.0 L88.0,117.0 L88.5,115.9 L89.0,116.2 L89.5,116.9 L90.0,117.9 L90.5,119.0 L91.0,120.1 L91.5,121.5 L92.0,123.1 L92.5,125.1 L93.0,127.4 L93.5,129.8 L94.0,132.9 L94.5,136.6 L95.0,139.8 L95.5,142.5 L96.0,145.1 L96.5,147.7 L97.0,150.1 L97.5,152.5 L98.0,154.7 L98.5,156.8 L99.0,158.9 L99.5,160.9 L100.0,162.9 L100.5,165.1 L101.0,167.1 L101.5,169.2 L102.0,171.0 L102.5,172.6 L103.0,174.2 L103.5,175.8 L104.0,177.3 L104.5,178.9 L105.0,180.4 L105.5,181.8 L106.0,183.2 L106.5,184.5 L107.0,185.8 L107.5,187.2 L108.0,188.7 L108.5,190.2 L109.0,191.7 L109.5,193.3 L110.0,194.7 L110.5,196.2 L111.0,197.7 L111.5,199.1 L112.0,200.6 L112.5,202.0 L113.0,203.4 L113.5,204.8 L114.0,206.3 L114.5,207.8 L115.0,209.4 L115.5,210.9 L116.0,212.1 L116.5,213.3 L117.0,214.6 L117.5,215.8 L118.0,217.1 L118.5,218.4 L119.0,219.7 L119.5,221.1 L120.0,222.5 L120.5,223.9 L121.0,225.4 L121.5,226.7 L122.0,227.9 L122.5,229.0 L123.0,230.1 L123.5,231.3 L124.0,232.5 L124.5,233.9 L125.0,235.3 L125.5,236.7 L126.0,238.2 L126.5,239.7 L127.0,241.1 L127.5,242.3 L128.0,243.2 L128.5,244.0 L129.0,244.7 L129.5,245.1 L130.0,245.4 L130.5,245.7 L131.0,245.9 L131.5,246.2 L132.0,246.4 L132.5,246.6 L133.0,246.8 L133.5,247.0 L134.0,247.1 L134.5,247.3 L135.0,247.4 L135.5,247.8 L136.0,248.2 L136.5,248.7 L137.0,249.2 L137.5,249.5 L138.0,249.8 L138.5,250.2 L139.0,250.5 L139.5,250.9 L140.0,251.4 L140.5,251.8 L141.0,252.2 L141.5,252.7 L142.0,253.1 L142.5,253.5 L143.0,253.9 L143.5,254.2 L144.0,254.4 L144.5,254.7 L145.0,255.0 L145.5,255.5 L146.0,256.0 L146.5,256.6 L147.0,257.1 L147.5,257.6 L148.0,258.1 L148.5,258.7 L149.0,259.4 L149.5,260.1 L150.0,260.7 L150.5,261.3 L151.0,261.7 L151.5,262.0 L152.0,262.3 L152.5,262.7 L153.0,263.1 L153.5,263.7 L154.0,264.5 L154.5,265.3 L155.0,266.1 L155.5,267.0 L156.0,268.0 L156.5,269.0 L157.0,270.1 L157.5,271.2 L158.0,272.2 L158.5,273.3 L159.0,274.3 L159.5,275.3 L160.0,276.3 L160.5,277.3 L161.0,278.3 L161.5,279.3 L162.0,280.2 L162.5,281.2 L163.0,282.2 L163.5,283.1 L164.0,284.1 L164.5,285.0 L165.0,286.1 L165.5,287.2 L166.0,288.6 L166.5,290.3 L167.0,292.2 L167.5,294.2 L168.0,296.2 L168.5,298.1 L169.0,299.9 L169.5,301.8 L170.0,303.6 L170.5,305.5 L171.0,307.4 L171.5,309.3 L172.0,311.1 L172.5,313.0 L173.0,314.6 L173.5,316.1 L174.0,317.7 L174.5,319.3 L175.0,321.1 L175.5,322.8 L176.0,324.5 L176.5,326.2 L177.0,328.0 L177.5,329.8 L178.0,331.5 L178.5,333.1 L179.0,334.7 L179.5,336.3 L180.0,337.8 L180.5,339.3 L181.0,340.6 L181.5,341.8 L182.0,343.0 L182.5,344.1 L183.0,345.1 L183.5,346.2 L184.0,347.1 L184.5,348.1 L185.0,349.2 L185.5,350.1 L186.0,350.9 L186.5,351.5 L187.0,352.1 L187.5,352.6 L188.0,353.1 L188.5,353.5 L189.0,353.9 L189.5,354.2 L190.0,354.4 L190.5,354.7 L191.0,355.1 L191.5,355.4 L192.0,355.7 L192.5,355.9 L193.0,356.0 L193.5,356.1 L194.0,356.2 L194.5,356.2 L195.0,356.2 L195.5,356.2 L196.0,356.2 L196.5,356.3 L197.0,356.4 L197.5,356.5 L198.0,356.5 L198.5,356.5 L199.0,356.4 L199.5,356.3 L200.0,356.3 L200.5,356.2 L201.0,356.2 L201.5,356.2 L202.0,356.2 L202.5,356.3 L203.0,356.4 L203.5,356.3 L204.0,356.2 L204.5,356.0 L205.0,356.0 L205.5,356.2 L206.0,356.3 L206.5,356.3 L207.0,356.1 L207.5,355.9 L207.7,355.8 L208.3,353.5 L209.2,357.0 L210.1,356.1 L210.5,356.2 L211.0,356.2 L211.5,356.2 L212.0,356.1 L212.5,356.1 L213.0,356.0 L213.5,356.0 L214.0,356.0 L214.5,356.0 L215.0,356.0 L215.5,356.0 L216.0,356.0 L216.5,356.0 L217.0,355.9 L217.5,355.8 L218.0,355.7 L218.5,355.6 L219.0,355.5 L219.5,355.6 L220.0,355.7 L220.5,355.8 L221.0,355.8 L221.5,355.7 L222.0,355.6 L222.5,355.6 L223.0,355.6 L223.5,355.6 L224.0,355.6 L224.5,355.5 L225.0,355.4 L225.5,355.4 L226.0,355.4 L226.5,355.5 L227.0,355.5 L227.5,355.4 L228.0,355.3 L228.5,355.2 L229.0,355.0 L229.5,354.7 L230.0,354.4 L230.5,354.6 L231.0,354.9 L231.5,355.2 L232.0,355.3 L232.5,355.2 L233.0,355.1 L233.5,355.0 L234.0,354.8 L234.5,354.7 L235.0,354.6 L235.5,354.8 L236.0,355.0 L236.5,355.1 L237.0,355.0 L237.5,354.9 L238.0,354.8 L238.5,354.9 L239.0,355.0 L239.5,355.1 L240.0,355.0 L240.5,354.8 L241.0,354.7 L241.5,354.6 L242.0,354.6 L242.5,354.5 L243.0,354.5 L243.5,354.6 L244.0,354.6 L244.5,354.5 L245.0,354.3 L245.5,354.1 L246.0,353.8 L246.5,353.6 L247.0,353.5 L247.5,353.3 L248.0,353.4 L248.5,353.5 L249.0,353.6 L249.5,353.7 L250.0,353.7 L250.5,353.8 L251.0,353.7 L251.5,353.5 L252.0,353.3 L252.5,353.2 L253.0,353.1 L253.5,352.9 L254.0,352.8 L254.5,352.5 L255.0,352.2 L255.5,352.0 L256.0,351.9 L256.5,351.7 L257.0,351.6 L257.5,351.6 L258.0,351.6 L258.5,351.6 L259.0,351.4 L259.5,351.2 L260.0,351.0 L260.5,350.9 L261.0,350.9 L261.5,350.8 L262.0,350.8 L262.5,350.7 L263.0,350.7 L263.5,350.6 L264.0,350.6 L264.5,350.5 L265.0,350.5 L265.5,350.3 L266.0,350.2 L266.5,350.0 L267.0,349.9 L267.5,349.9 L268.0,349.8 L268.5,349.5 L269.0,349.1 L269.5,348.6 L270.0,348.3 L270.5,348.1 L271.0,347.9 L271.5,347.8 L272.0,347.8 L272.5,347.8 L273.0,347.7 L273.5,347.5 L274.0,347.2 L274.5,347.0 L275.0,347.1 L275.5,347.2 L276.0,347.3 L276.5,347.2 L277.0,347.1 L277.5,346.9 L278.0,346.9 L278.5,347.0 L279.0,347.0 L279.5,346.7 L280.0,346.2 L280.5,345.7 L281.0,345.4 L281.5,345.3 L282.0,345.2 L282.5,345.1 L283.0,344.8 L283.5,344.6 L284.0,344.4 L284.5,344.3 L285.0,344.2 L285.5,344.2 L286.0,344.2 L286.5,344.2 L287.0,344.3 L287.5,344.1 L288.0,343.8 L288.5,343.6 L289.0,343.4 L289.5,343.3 L290.0,343.2 L290.5,343.0 L291.0,342.6 L291.5,342.3 L292.0,342.0 L292.5,341.9 L293.0,341.8 L293.5,341.7 L294.0,341.5 L294.5,341.3 L295.0,341.2 L295.5,341.0 L296.0,340.8 L296.5,340.6 L297.0,340.4 L297.5,340.2 L298.0,340.0 L298.5,339.9 L299.0,339.7 L299.5,339.6 L300.0,339.4 L300.5,338.9 L301.0,338.5 L301.5,338.2 L302.0,338.1 L302.5,338.0 L303.0,337.9 L303.5,337.6 L304.0,337.2 L304.5,336.9 L305.0,336.8 L305.5,336.7 L306.0,336.6 L306.5,336.3 L307.0,336.1 L307.5,335.8 L308.0,335.6 L308.5,335.3 L309.0,335.1 L309.5,334.8 L310.0,334.4 L310.5,334.1 L311.0,333.8 L311.5,333.5 L312.0,333.2 L312.5,332.9 L313.0,332.9 L313.5,333.0 L314.0,333.0 L314.5,332.9 L315.0,332.7 L315.5,332.5 L316.0,332.2 L316.5,332.0 L317.0,331.7 L317.5,331.4 L318.0,331.2 L318.5,330.9 L319.0,330.8 L319.5,330.6 L320.0,330.5 L320.5,330.4 L321.0,330.2 L321.5,330.0 L322.0,329.8 L322.5,329.4 L323.0,329.0 L323.5,328.6 L323.6,328.5 L324.2,307.9 L325.1,331.9 L326.0,328.2 L326.0,328.2 L326.5,328.1 L327.0,328.1 L327.5,328.0 L328.0,327.9 L328.5,327.7 L329.0,327.5 L329.5,327.3 L330.0,327.0 L330.5,326.7 L331.0,326.3 L331.5,326.0 L332.0,325.8 L332.5,325.6 L333.0,325.4 L333.5,325.2 L334.0,324.9 L334.5,324.6 L335.0,324.4 L335.5,324.2 L336.0,323.9 L336.5,323.7 L337.0,323.5 L337.5,323.3 L338.0,323.0 L338.5,322.7 L339.0,322.4 L339.5,322.0 L340.0,321.7 L340.5,321.4 L341.0,321.1 L341.5,320.8 L342.0,320.4 L342.5,320.1 L343.0,319.6 L343.5,319.0 L344.0,318.4 L344.5,318.0 L345.0,317.6 L345.5,317.3 L346.0,317.0 L346.5,316.8 L347.0,316.6 L347.5,316.3 L348.0,315.5 L348.5,314.8 L349.0,314.2 L349.5,314.0 L350.0,313.7 L350.5,313.5 L351.0,313.1 L351.5,312.8 L352.0,312.5 L352.5,312.0 L353.0,311.5 L353.5,311.0 L354.0,310.5 L354.5,310.1 L355.0,309.6 L355.5,309.1 L356.0,308.6 L356.5,308.0 L357.0,307.6 L357.5,307.3 L358.0,307.1 L358.5,306.8 L359.0,306.4 L359.5,305.9 L360.0,305.5 L360.5,305.0 L361.0,304.5 L361.5,303.9 L362.0,303.4 L362.5,302.9 L363.0,302.9 L363.5,302.9 L364.0,302.5 L364.5,301.9 L365.0,301.2 L365.5,300.7 L366.0,300.2 L366.5,299.8 L367.0,299.5 L367.5,299.2 L368.0,298.3 L368.5,297.3 L369.0,296.6 L369.5,296.1 L370.0,295.6 L370.5,295.1 L371.0,294.6 L371.5,294.3 L372.0,294.2 L372.5,294.2 L373.0,293.6 L373.5,293.1 L374.0,292.9 L374.5,293.0 L375.0,292.9 L375.5,291.5 L376.0,290.0 L376.5,288.7 L377.0,287.4 L377.5,286.4 L378.0,287.2 L378.5,288.0 L379.0,287.6 L379.5,286.4 L380.0,285.3 L380.5,284.9 L381.0,284.6 L381.5,283.8 L382.0,282.8 L382.5,281.9 L383.0,282.4 L383.5,282.9 L384.0,282.7 L384.5,282.2 L385.0,281.6 L385.5,280.9 L386.0,280.3 L386.5,280.0 L387.0,280.0 L387.5,279.9 L388.0,278.8 L388.5,277.8 L389.0,277.0 L389.5,276.1 L390.0,275.4 L390.5,275.4 L391.0,275.3 L391.5,274.7 L392.0,273.7 L392.5,272.9 L393.0,273.0 L393.5,273.1 L394.0,272.9 L394.5,272.5 L395.0,272.0 L395.5,271.1 L396.0,270.1 L396.5,269.0 L397.0,267.9 L397.5,266.8 L398.0,265.8 L398.5,264.9 L399.0,265.0 L399.5,265.6 L400.0,266.0 L400.5,265.1 L401.0,264.3 L401.5,263.6 L402.0,262.9 L402.5,262.2 L403.0,261.4 L403.5,260.5 L404.0,259.8 L404.5,259.2 L405.0,258.6 L405.5,257.8 L406.0,257.0 L406.5,255.9 L407.0,254.6 L407.5,253.5 L408.0,253.4 L408.5,253.3 L409.0,252.7 L409.5,252.0 L410.0,251.1 L410.5,250.2 L411.0,249.2 L411.5,248.2 L412.0,247.3 L412.5,246.5 L413.0,245.9 L413.5,245.4 L414.0,244.3 L414.5,243.0 L415.0,241.8 L415.5,240.9 L416.0,240.1 L416.5,239.4 L417.0,238.8 L417.5,238.4 L418.0,238.2 L418.5,238.1 L419.0,237.2 L419.5,236.0 L420.0,235.2 L420.5,235.1 L421.0,235.1 L421.5,234.8 L422.0,234.3 L422.5,234.0 L423.0,234.3 L423.5,234.5 L424.0,234.2 L424.5,233.7 L425.0,233.1 L425.5,232.2 L426.0,231.3 L426.5,231.1 L427.0,231.0 L427.5,230.7 L428.0,229.6 L428.5,228.5 L429.0,227.9 L429.5,227.4 L430.0,227.0 L430.5,226.5 L431.0,226.1 L431.5,225.3 L432.0,224.4 L432.5,223.8 L433.0,223.7 L433.5,223.7 L434.0,223.5 L434.5,223.3 L435.0,223.0 L435.5,222.5 L436.0,222.0 L436.5,221.7 L437.0,221.4 L437.5,221.6 L438.0,222.8 L438.5,224.0 L439.0,223.5 L439.5,222.7 L440.0,222.3 L440.5,222.5 L441.0,222.8 L441.5,223.1 L442.0,223.4 L442.5,223.3 L443.0,222.6 L443.5,221.9 L444.0,221.7 L444.5,221.6 L445.0,221.6 L445.5,221.7 L446.0,221.8 L446.5,222.7 L447.0,223.7 L447.5,224.3 L448.0,224.3 L448.5,224.3 L449.0,224.2 L449.5,224.1 L450.0,224.4 L450.5,225.1 L451.0,225.9 L451.5,225.3 L452.0,224.4 L452.5,224.0 L453.0,224.0 L453.5,224.1 L454.0,225.2 L454.5,226.4 L455.0,226.9 L455.5,226.3 L456.0,225.8 L456.5,226.9 L457.0,228.2 L457.5,228.8 L458.0,228.5 L458.5,228.2 L459.0,228.8 L459.5,229.4 L460.0,229.9 L460.5,230.1 L461.0,230.4 L461.5,231.2 L462.0,232.1 L462.5,232.5 L463.0,232.3 L463.5,232.2 L464.0,232.5 L464.5,232.8 L465.0,233.5 L465.5,234.7 L466.0,235.8 L466.5,235.9 L467.0,235.9 L467.5,236.0 L468.0,236.2 L468.5,236.3 L469.0,236.4 L469.5,236.5 L470.0,236.8 L470.5,237.3 L471.0,237.8 L471.5,237.8 L472.0,237.9 L472.5,238.2 L473.0,238.7 L473.5,239.3 L474.0,239.2 L474.5,239.1 L475.0,239.5 L475.5,240.5 L476.0,241.4 L476.5,241.3 L477.0,241.2 L477.5,241.2 L478.0,241.2 L478.5,241.3 L479.0,241.7 L479.5,242.1 L480.0,242.4 L480.5,242.7 L481.0,243.0 L481.5,243.4 L482.0,243.7 L482.5,244.2 L483.0,244.6 L483.5,245.1 L484.0,244.8 L484.5,244.7 L485.0,245.1 L485.5,246.6 L486.0,248.3 L486.5,249.2 L487.0,249.6 L487.5,249.9 L488.0,250.5 L488.5,251.1 L489.0,251.1 L489.5,251.1 L490.0,250.9 L490.5,250.6 L491.0,250.4 L491.5,250.6 L492.0,250.9 L492.5,251.1 L493.0,251.2 L493.5,251.4 L494.0,251.6 L494.5,251.8 L495.0,251.6 L495.5,251.0 L496.0,250.5 L496.5,251.0 L497.0,251.4 L497.5,251.6 L498.0,251.5 L498.5,251.5 L499.0,251.8 L499.5,252.2 L500.0,252.1 L500.5,251.6 L501.0,251.3 L501.5,251.7 L502.0,252.0 L502.5,252.1 L503.0,251.9 L503.5,251.8 L504.0,252.1 L504.5,252.4 L505.0,252.4 L505.5,252.2 L506.0,252.1 L506.5,252.0 L507.0,252.0 L507.5,252.1 L508.0,252.2 L508.5,252.3 L509.0,253.0 L509.5,253.7 L510.0,254.0 L510.5,254.0 L511.0,254.0 L511.5,253.4 L512.0,252.8 L512.5,252.7 L513.0,252.8 L513.5,252.8 L514.0,252.4 L514.5,252.1 L515.0,252.6 L515.5,253.6 L516.0,254.3 L516.5,253.5 L517.0,252.6 L517.5,252.3 L518.0,252.2 L518.5,252.1 L519.0,252.3 L519.5,252.5 L520.0,252.3 L520.5,252.0 L521.0,251.7 L521.5,251.8 L522.0,252.0 L522.5,252.5 L523.0,253.2 L523.5,253.7 L524.0,253.6 L524.5,253.5 L525.0,253.1 L525.5,252.6 L526.0,252.4 L526.5,253.3 L527.0,254.2 L527.5,254.1 L528.0,253.6 L528.5,253.3 L529.0,253.6 L529.5,253.9 L530.0,254.3 L530.5,254.8 L531.0,255.1 L531.5,254.9 L532.0,254.6 L532.5,255.0 L533.0,255.6 L533.5,256.1 L534.0,256.4 L534.5,256.8 L535.0,256.8 L535.5,256.7 L536.0,257.0 L536.5,258.1 L537.0,259.3 L537.5,259.8 L538.0,260.0 L538.5,260.3 L539.0,260.7 L539.5,261.0 L540.0,261.7 L540.5,262.5 L541.0,263.1 L541.5,263.2 L542.0,263.4 L542.5,264.1 L543.0,264.9 L543.5,265.7 L544.0,266.1 L544.5,266.5 L545.0,267.3 L545.5,268.3 L546.0,269.4 L546.5,270.7 L547.0,272.1 L547.5,273.0 L548.0,273.7 L548.5,274.3 L549.0,274.6 L549.5,274.8 L550.0,275.4 L550.5,276.0 L551.0,277.1 L551.5,279.1 L552.0,281.1 L552.5,282.0 L553.0,282.7 L553.5,283.5 L554.0,284.5 L554.5,285.5 L555.0,286.5 L555.5,287.6 L556.0,288.7 L556.5,289.8 L557.0,290.9 L557.5,292.0 L558.0,293.0 L558.5,294.0 L559.0,294.8 L559.5,295.6 L560.0,296.7 L560.5,298.0 L561.0,299.0 L561.5,299.7 L562.0,300.4 L562.5,301.5 L563.0,302.8 L563.5,304.2 L564.0,305.7 L564.5,307.4 L565.0,308.4 L565.5,309.3 L566.0,310.6 L566.5,312.4 L567.0,314.2 L567.5,315.3 L568.0,316.3 L568.5,317.3 L569.0,318.6 L569.5,319.8 L570.0,321.1 L570.5,322.4 L571.0,323.6 L571.5,324.6 L572.0,325.7 L572.5,326.3 L573.0,326.9 L573.5,328.2 L574.0,330.4 L574.5,332.7 L575.0,333.9 L575.5,335.2 L576.0,336.6 L576.5,338.1 L577.0,339.5 L577.5,341.3 L578.0,343.2 L578.5,344.8 L579.0,346.1 L579.5,347.3 L580.0,349.4 L580.5,351.4 L581.0,352.4 L581.5,352.3 L582.0,352.2 L582.5,353.6 L583.0,355.1 L583.5,356.3 L584.0,357.3 L584.5,358.4 L585.0,360.0 L585.5,361.7 L586.0,363.3 L586.5,364.6 L587.0,366.0 L587.5,368.4 L588.0,371.0 L588.5,373.4 L589.0,375.7 L589.5,378.3 L590.0,381.6 L590.5,385.6 L591.0,391.2 L591.2,393.9" fill="none" stroke="#a00000" stroke-width="2.3" stroke-linejoin="round" stroke-linecap="round"/>
<rect x="81.3" y="53.3" width="2.0" height="380.2" fill="#000"/>
<rect x="81.3" y="428.3" width="510.90000000000003" height="2.0" fill="#000"/>
<rect x="74.5" y="428.20" width="7.80" height="2.0" fill="#000"/>
<rect x="78.4" y="404.77" width="3.90" height="2.0" fill="#000"/>
<rect x="74.5" y="381.34" width="7.80" height="2.0" fill="#000"/>
<rect x="78.4" y="357.91" width="3.90" height="2.0" fill="#000"/>
<rect x="74.5" y="334.48" width="7.80" height="2.0" fill="#000"/>
<rect x="78.4" y="311.05" width="3.90" height="2.0" fill="#000"/>
<rect x="74.5" y="287.62" width="7.80" height="2.0" fill="#000"/>
<rect x="78.4" y="264.19" width="3.90" height="2.0" fill="#000"/>
<rect x="74.5" y="240.76" width="7.80" height="2.0" fill="#000"/>
<rect x="78.4" y="217.33" width="3.90" height="2.0" fill="#000"/>
<rect x="74.5" y="193.90" width="7.80" height="2.0" fill="#000"/>
<rect x="78.4" y="170.47" width="3.90" height="2.0" fill="#000"/>
<rect x="74.5" y="147.04" width="7.80" height="2.0" fill="#000"/>
<rect x="78.4" y="123.61" width="3.90" height="2.0" fill="#000"/>
<rect x="74.5" y="100.18" width="7.80" height="2.0" fill="#000"/>
<rect x="78.4" y="76.75" width="3.90" height="2.0" fill="#000"/>
<rect x="74.5" y="53.32" width="7.80" height="2.0" fill="#000"/>
<rect x="81.50" y="429.3" width="2.0" height="4.20" fill="#000"/>
<rect x="149.35" y="429.3" width="2.0" height="8.00" fill="#000"/>
<rect x="217.20" y="429.3" width="2.0" height="4.20" fill="#000"/>
<rect x="285.05" y="429.3" width="2.0" height="8.00" fill="#000"/>
<rect x="352.90" y="429.3" width="2.0" height="4.20" fill="#000"/>
<rect x="420.75" y="429.3" width="2.0" height="8.00" fill="#000"/>
<rect x="488.60" y="429.3" width="2.0" height="4.20" fill="#000"/>
<rect x="556.45" y="429.3" width="2.0" height="8.00" fill="#000"/>
<text x="69.3" y="433.5" font-size="14" font-family="Liberation Sans, sans-serif" font-weight="bold" text-anchor="end">0.0</text>
<text x="69.3" y="386.6" font-size="14" font-family="Liberation Sans, sans-serif" font-weight="bold" text-anchor="end">0.2</text>
<text x="69.3" y="339.8" font-size="14" font-family="Liberation Sans, sans-serif" font-weight="bold" text-anchor="end">0.4</text>
<text x="69.3" y="292.9" font-size="14" font-family="Liberation Sans, sans-serif" font-weight="bold" text-anchor="end">0.6</text>
<text x="69.3" y="246.1" font-size="14" font-family="Liberation Sans, sans-serif" font-weight="bold" text-anchor="end">0.8</text>
<text x="69.3" y="199.2" font-size="14" font-family="Liberation Sans, sans-serif" font-weight="bold" text-anchor="end">1.0</text>
<text x="69.3" y="152.3" font-size="14" font-family="Liberation Sans, sans-serif" font-weight="bold" text-anchor="end">1.2</text>
<text x="69.3" y="105.5" font-size="14" font-family="Liberation Sans, sans-serif" font-weight="bold" text-anchor="end">1.4</text>
<text x="69.3" y="58.6" font-size="14" font-family="Liberation Sans, sans-serif" font-weight="bold" text-anchor="end">1.6</text>
<text x="150.3" y="453.6" font-size="14" font-family="Liberation Sans, sans-serif" font-weight="bold" text-anchor="middle">400</text>
<text x="286.0" y="453.6" font-size="14" font-family="Liberation Sans, sans-serif" font-weight="bold" text-anchor="middle">600</text>
<text x="421.8" y="453.6" font-size="14" font-family="Liberation Sans, sans-serif" font-weight="bold" text-anchor="middle">800</text>
<text x="557.5" y="453.6" font-size="14" font-family="Liberation Sans, sans-serif" font-weight="bold" text-anchor="middle">1000</text>
<text x="337" y="483.7" font-size="18" font-family="Liberation Sans, sans-serif" font-weight="bold" text-anchor="middle">Wavelength (nm)</text>
<text transform="translate(20.8,279) rotate(-90)" font-size="18" font-family="Liberation Sans, sans-serif" font-weight="bold" text-anchor="middle">Absorbance</text>
<rect x="554.5" y="14.10" width="42.3" height="2" fill="#000000"/>
<text x="602" y="21.5" font-size="17.5" font-family="Liberation Sans, sans-serif" font-weight="bold">0.00 V</text>
<rect x="554.5" y="40.70" width="42.3" height="2" fill="#ff0000"/>
<text x="602" y="48.1" font-size="17.5" font-family="Liberation Sans, sans-serif" font-weight="bold">1<tspan font-size="10" dy="-10.3">st</tspan><tspan dy="10.3" dx="1"> cycle</tspan></text>
<rect x="554.5" y="67.30" width="42.3" height="2" fill="#0000ff"/>
<text x="602" y="74.7" font-size="17.5" font-family="Liberation Sans, sans-serif" font-weight="bold">5<tspan font-size="10" dy="-10.3">th</tspan><tspan dy="10.3" dx="1"> cycle</tspan></text>
<rect x="554.5" y="93.90" width="42.3" height="2" fill="#ff00ff"/>
<text x="602" y="101.3" font-size="17.5" font-family="Liberation Sans, sans-serif" font-weight="bold">10<tspan font-size="10" dy="-10.3">th</tspan><tspan dy="10.3" dx="1"> cycle</tspan></text>
<rect x="554.5" y="120.50" width="42.3" height="2" fill="#008000"/>
<text x="602" y="127.9" font-size="17.5" font-family="Liberation Sans, sans-serif" font-weight="bold">15<tspan font-size="10" dy="-10.3">th</tspan><tspan dy="10.3" dx="1"> cycle</tspan></text>
<rect x="554.5" y="147.10" width="42.3" height="2" fill="#000080"/>
<text x="602" y="154.5" font-size="17.5" font-family="Liberation Sans, sans-serif" font-weight="bold">20<tspan font-size="10" dy="-10.3">th</tspan><tspan dy="10.3" dx="1"> cycle</tspan></text>
<rect x="554.5" y="173.70" width="42.3" height="2" fill="#8000ff"/>
<text x="602" y="181.1" font-size="17.5" font-family="Liberation Sans, sans-serif" font-weight="bold">30<tspan font-size="10" dy="-10.3">th</tspan><tspan dy="10.3" dx="1"> cycle</tspan></text>
<rect x="554.5" y="200.30" width="42.3" height="2" fill="#800080"/>
<text x="602" y="207.7" font-size="17.5" font-family="Liberation Sans, sans-serif" font-weight="bold">40<tspan font-size="10" dy="-10.3">th</tspan><tspan dy="10.3" dx="1"> cycle</tspan></text>
<rect x="554.5" y="226.90" width="42.3" height="2" fill="#a00000"/>
<text x="602" y="234.3" font-size="17.5" font-family="Liberation Sans, sans-serif" font-weight="bold">50<tspan font-size="10" dy="-10.3">th</tspan><tspan dy="10.3" dx="1"> cycle</tspan></text>
<text x="432.5" y="115.8" font-size="17" font-family="Liberation Sans, sans-serif" font-weight="bold" text-anchor="middle" fill="#0000ff">813</text>
<text x="443.2" y="255.4" font-size="17" font-family="Liberation Sans, sans-serif" font-weight="bold" text-anchor="middle" fill="#a00000">818</text>
<text x="530.2" y="239.6" font-size="17" font-family="Liberation Sans, sans-serif" font-weight="bold" text-anchor="middle">981</text>
<line x1="431.8" y1="125.5" x2="441.5" y2="227.4" stroke="#000" stroke-width="2.2"/>
<polygon points="442.8,241.3 436.6,225.8 446.0,224.9" fill="#000"/>
<line x1="530.3" y1="378.6" x2="530.3" y2="269.6" stroke="#000" stroke-width="2.2"/>
<polygon points="530.3,256.1 535.0,271.6 525.5,271.6" fill="#000"/>
</svg>
</body></html>
